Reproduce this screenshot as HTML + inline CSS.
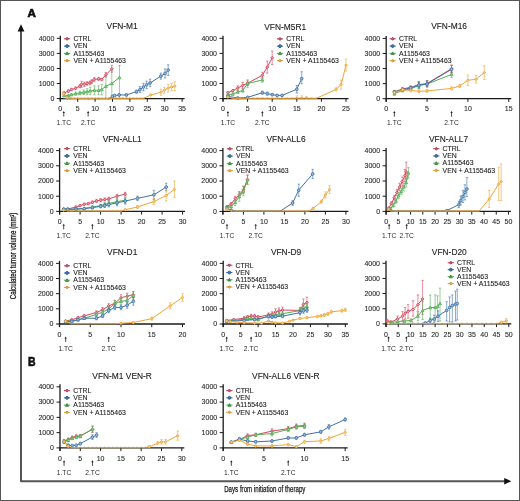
<!DOCTYPE html>
<html><head><meta charset="utf-8"><style>
html,body{margin:0;padding:0;background:#fff;}
svg{display:block;will-change:transform;}
text{font-family:"Liberation Sans", sans-serif;}
</style></head><body>
<svg width="520" height="501" viewBox="0 0 520 501">
<rect width="520" height="501" fill="#fff"/>
<rect x="0.5" y="0.5" width="519" height="500" fill="none" stroke="#555" stroke-width="1"/>
<text x="27.6" y="16.9" font-size="11.6" font-weight="bold" fill="#111" stroke="#111" stroke-width="0.7">A</text>
<text x="28.1" y="365.6" font-size="12.1" font-weight="bold" textLength="7.6" lengthAdjust="spacingAndGlyphs" fill="#111" stroke="#111" stroke-width="0.6">B</text>
<path d="M21,30 V481.2 H505" fill="none" stroke="#555" stroke-width="2" stroke-linejoin="round"/>
<path d="M17.6,31.4 L21,24.2 L24.4,31.4 Z" fill="#111"/>
<path d="M504.2,478 L511.4,481.2 L504.2,484.4 Z" fill="#111"/>
<text transform="translate(16.0,299.2) rotate(-90)" font-size="9.0" textLength="86.6" lengthAdjust="spacingAndGlyphs" fill="#1a1a1a" stroke="#1a1a1a" stroke-width="0.3">Calculated tumor volume (mm<tspan dy="-2" font-size="4.5">3</tspan><tspan dy="2">)</tspan></text>
<text x="224.2" y="491.6" font-size="8.9" textLength="81.2" lengthAdjust="spacingAndGlyphs" fill="#1a1a1a" stroke="#1a1a1a" stroke-width="0.25">Days from initiation of therapy</text>
<text x="122.15" y="29.40" font-size="8.4" text-anchor="middle" fill="#1a1a1a" stroke="#1a1a1a" stroke-width="0.1">VFN-M1</text>
<line x1="60.30" y1="35.82" x2="60.30" y2="101.60" stroke="#1a1a1a" stroke-width="1.3"/>
<line x1="56.80" y1="98.60" x2="60.30" y2="98.60" stroke="#1a1a1a" stroke-width="1"/>
<text x="54.30" y="101.00" font-size="7.0" text-anchor="end" fill="#2a2a2a" stroke="#2a2a2a" stroke-width="0.1">0</text>
<line x1="56.80" y1="83.53" x2="60.30" y2="83.53" stroke="#1a1a1a" stroke-width="1"/>
<text x="54.30" y="85.93" font-size="7.0" text-anchor="end" fill="#2a2a2a" stroke="#2a2a2a" stroke-width="0.1">1000</text>
<line x1="56.80" y1="68.46" x2="60.30" y2="68.46" stroke="#1a1a1a" stroke-width="1"/>
<text x="54.30" y="70.86" font-size="7.0" text-anchor="end" fill="#2a2a2a" stroke="#2a2a2a" stroke-width="0.1">2000</text>
<line x1="56.80" y1="53.39" x2="60.30" y2="53.39" stroke="#1a1a1a" stroke-width="1"/>
<text x="54.30" y="55.79" font-size="7.0" text-anchor="end" fill="#2a2a2a" stroke="#2a2a2a" stroke-width="0.1">3000</text>
<line x1="56.80" y1="38.32" x2="60.30" y2="38.32" stroke="#1a1a1a" stroke-width="1"/>
<text x="54.30" y="40.72" font-size="7.0" text-anchor="end" fill="#2a2a2a" stroke="#2a2a2a" stroke-width="0.1">4000</text>
<line x1="59.70" y1="98.60" x2="184.60" y2="98.60" stroke="#1a1a1a" stroke-width="1.3"/>
<line x1="60.30" y1="98.60" x2="60.30" y2="101.80" stroke="#1a1a1a" stroke-width="1"/>
<text x="60.30" y="111.20" font-size="7.0" text-anchor="middle" fill="#2a2a2a" stroke="#2a2a2a" stroke-width="0.1">0</text>
<line x1="77.70" y1="98.60" x2="77.70" y2="101.80" stroke="#1a1a1a" stroke-width="1"/>
<text x="77.70" y="111.20" font-size="7.0" text-anchor="middle" fill="#2a2a2a" stroke="#2a2a2a" stroke-width="0.1">5</text>
<line x1="95.10" y1="98.60" x2="95.10" y2="101.80" stroke="#1a1a1a" stroke-width="1"/>
<text x="95.10" y="111.20" font-size="7.0" text-anchor="middle" fill="#2a2a2a" stroke="#2a2a2a" stroke-width="0.1">10</text>
<line x1="112.50" y1="98.60" x2="112.50" y2="101.80" stroke="#1a1a1a" stroke-width="1"/>
<text x="112.50" y="111.20" font-size="7.0" text-anchor="middle" fill="#2a2a2a" stroke="#2a2a2a" stroke-width="0.1">15</text>
<line x1="129.90" y1="98.60" x2="129.90" y2="101.80" stroke="#1a1a1a" stroke-width="1"/>
<text x="129.90" y="111.20" font-size="7.0" text-anchor="middle" fill="#2a2a2a" stroke="#2a2a2a" stroke-width="0.1">20</text>
<line x1="147.30" y1="98.60" x2="147.30" y2="101.80" stroke="#1a1a1a" stroke-width="1"/>
<text x="147.30" y="111.20" font-size="7.0" text-anchor="middle" fill="#2a2a2a" stroke="#2a2a2a" stroke-width="0.1">25</text>
<line x1="164.70" y1="98.60" x2="164.70" y2="101.80" stroke="#1a1a1a" stroke-width="1"/>
<text x="164.70" y="111.20" font-size="7.0" text-anchor="middle" fill="#2a2a2a" stroke="#2a2a2a" stroke-width="0.1">30</text>
<line x1="182.10" y1="98.60" x2="182.10" y2="101.80" stroke="#1a1a1a" stroke-width="1"/>
<text x="182.10" y="111.20" font-size="7.0" text-anchor="middle" fill="#2a2a2a" stroke="#2a2a2a" stroke-width="0.1">35</text>
<line x1="63.78" y1="112.60" x2="63.78" y2="116.60" stroke="#222" stroke-width="0.8"/>
<path d="M62.58,113.00L63.78,111.00L64.98,113.00Z" fill="#222"/>
<text x="63.78" y="125.20" font-size="6.7" text-anchor="middle" fill="#2a2a2a">1.TC</text>
<line x1="88.14" y1="112.60" x2="88.14" y2="116.60" stroke="#222" stroke-width="0.8"/>
<path d="M86.94,113.00L88.14,111.00L89.34,113.00Z" fill="#222"/>
<text x="88.14" y="125.20" font-size="6.7" text-anchor="middle" fill="#2a2a2a">2.TC</text>
<polyline points="64.13,93.02 68.30,91.06 71.44,89.56 75.61,88.20 79.79,86.24 81.53,84.28 84.31,84.28 87.10,83.53 89.88,82.93 91.62,81.57 94.40,79.46 98.58,78.86 101.71,79.46 105.89,74.79 111.80,68.76" fill="none" stroke="#d2475e" stroke-width="1.0"/>
<path d="M64.13,91.82V94.23M62.93,91.82H65.33M62.93,94.23H65.33" stroke="#d2475e" stroke-width="0.6" fill="none"/>
<path d="M68.30,89.86V92.27M67.10,89.86H69.50M67.10,92.27H69.50" stroke="#d2475e" stroke-width="0.6" fill="none"/>
<path d="M71.44,88.35V90.76M70.24,88.35H72.64M70.24,90.76H72.64" stroke="#d2475e" stroke-width="0.6" fill="none"/>
<path d="M75.61,87.00V89.41M74.41,87.00H76.81M74.41,89.41H76.81" stroke="#d2475e" stroke-width="0.6" fill="none"/>
<path d="M79.79,84.74V87.75M78.59,84.74H80.99M78.59,87.75H80.99" stroke="#d2475e" stroke-width="0.6" fill="none"/>
<path d="M81.53,81.27V87.30M80.33,81.27H82.73M80.33,87.30H82.73" stroke="#d2475e" stroke-width="0.6" fill="none"/>
<path d="M84.31,82.02V86.54M83.11,82.02H85.51M83.11,86.54H85.51" stroke="#d2475e" stroke-width="0.6" fill="none"/>
<path d="M87.10,81.72V85.34M85.90,81.72H88.30M85.90,85.34H88.30" stroke="#d2475e" stroke-width="0.6" fill="none"/>
<path d="M89.88,81.12V84.74M88.68,81.12H91.08M88.68,84.74H91.08" stroke="#d2475e" stroke-width="0.6" fill="none"/>
<path d="M91.62,79.76V83.38M90.42,79.76H92.82M90.42,83.38H92.82" stroke="#d2475e" stroke-width="0.6" fill="none"/>
<path d="M94.40,77.65V81.27M93.20,77.65H95.60M93.20,81.27H95.60" stroke="#d2475e" stroke-width="0.6" fill="none"/>
<path d="M98.58,77.35V80.37M97.38,77.35H99.78M97.38,80.37H99.78" stroke="#d2475e" stroke-width="0.6" fill="none"/>
<path d="M101.71,78.26V80.67M100.51,78.26H102.91M100.51,80.67H102.91" stroke="#d2475e" stroke-width="0.6" fill="none"/>
<path d="M105.89,72.53V77.05M104.69,72.53H107.09M104.69,77.05H107.09" stroke="#d2475e" stroke-width="0.6" fill="none"/>
<path d="M111.80,65.30V72.23M110.60,65.30H113.00M110.60,72.23H113.00" stroke="#d2475e" stroke-width="0.6" fill="none"/>
<path d="M62.68,93.02L64.13,91.57L65.58,93.02L64.13,94.47Z" fill="#e89aa6" stroke="#d2475e" stroke-width="0.85"/>
<path d="M66.85,91.06L68.30,89.61L69.75,91.06L68.30,92.52Z" fill="#e89aa6" stroke="#d2475e" stroke-width="0.85"/>
<path d="M69.99,89.56L71.44,88.11L72.89,89.56L71.44,91.01Z" fill="#e89aa6" stroke="#d2475e" stroke-width="0.85"/>
<path d="M74.16,88.20L75.61,86.75L77.06,88.20L75.61,89.65Z" fill="#e89aa6" stroke="#d2475e" stroke-width="0.85"/>
<path d="M78.34,86.24L79.79,84.79L81.24,86.24L79.79,87.69Z" fill="#e89aa6" stroke="#d2475e" stroke-width="0.85"/>
<path d="M80.08,84.28L81.53,82.83L82.98,84.28L81.53,85.73Z" fill="#e89aa6" stroke="#d2475e" stroke-width="0.85"/>
<path d="M82.86,84.28L84.31,82.83L85.76,84.28L84.31,85.73Z" fill="#e89aa6" stroke="#d2475e" stroke-width="0.85"/>
<path d="M85.65,83.53L87.10,82.08L88.55,83.53L87.10,84.98Z" fill="#e89aa6" stroke="#d2475e" stroke-width="0.85"/>
<path d="M88.43,82.93L89.88,81.48L91.33,82.93L89.88,84.38Z" fill="#e89aa6" stroke="#d2475e" stroke-width="0.85"/>
<path d="M90.17,81.57L91.62,80.12L93.07,81.57L91.62,83.02Z" fill="#e89aa6" stroke="#d2475e" stroke-width="0.85"/>
<path d="M92.95,79.46L94.40,78.01L95.85,79.46L94.40,80.91Z" fill="#e89aa6" stroke="#d2475e" stroke-width="0.85"/>
<path d="M97.13,78.86L98.58,77.41L100.03,78.86L98.58,80.31Z" fill="#e89aa6" stroke="#d2475e" stroke-width="0.85"/>
<path d="M100.26,79.46L101.71,78.01L103.16,79.46L101.71,80.91Z" fill="#e89aa6" stroke="#d2475e" stroke-width="0.85"/>
<path d="M104.44,74.79L105.89,73.34L107.34,74.79L105.89,76.24Z" fill="#e89aa6" stroke="#d2475e" stroke-width="0.85"/>
<path d="M110.35,68.76L111.80,67.31L113.25,68.76L111.80,70.21Z" fill="#e89aa6" stroke="#d2475e" stroke-width="0.85"/>
<polyline points="64.13,95.59 68.30,95.59 71.44,94.68 75.61,93.63 79.79,93.02 83.62,92.27 87.10,91.67 90.23,90.91 94.40,90.31 98.58,90.31 101.71,89.56 105.89,86.24 111.80,83.53 119.46,77.50" fill="none" stroke="#55ad55" stroke-width="1.0"/>
<path d="M64.13,94.83V96.34M62.93,94.83H65.33M62.93,96.34H65.33" stroke="#55ad55" stroke-width="0.6" fill="none"/>
<path d="M68.30,94.83V96.34M67.10,94.83H69.50M67.10,96.34H69.50" stroke="#55ad55" stroke-width="0.6" fill="none"/>
<path d="M71.44,93.78V95.59M70.24,93.78H72.64M70.24,95.59H72.64" stroke="#55ad55" stroke-width="0.6" fill="none"/>
<path d="M75.61,92.12V95.13M74.41,92.12H76.81M74.41,95.13H76.81" stroke="#55ad55" stroke-width="0.6" fill="none"/>
<path d="M79.79,91.22V94.83M78.59,91.22H80.99M78.59,94.83H80.99" stroke="#55ad55" stroke-width="0.6" fill="none"/>
<path d="M83.62,90.01V94.53M82.42,90.01H84.82M82.42,94.53H84.82" stroke="#55ad55" stroke-width="0.6" fill="none"/>
<path d="M87.10,88.65V94.68M85.90,88.65H88.30M85.90,94.68H88.30" stroke="#55ad55" stroke-width="0.6" fill="none"/>
<path d="M90.23,87.15V94.68M89.03,87.15H91.43M89.03,94.68H91.43" stroke="#55ad55" stroke-width="0.6" fill="none"/>
<path d="M94.40,85.79V94.83M93.20,85.79H95.60M93.20,94.83H95.60" stroke="#55ad55" stroke-width="0.6" fill="none"/>
<path d="M98.58,85.79V94.83M97.38,85.79H99.78M97.38,94.83H99.78" stroke="#55ad55" stroke-width="0.6" fill="none"/>
<path d="M101.71,84.28V94.83M100.51,84.28H102.91M100.51,94.83H102.91" stroke="#55ad55" stroke-width="0.6" fill="none"/>
<path d="M105.89,75.69V98.60M104.69,75.69H107.09M104.69,98.60H107.09" stroke="#55ad55" stroke-width="0.6" fill="none"/>
<path d="M111.80,69.97V98.60M110.60,69.97H113.00M110.60,98.60H113.00" stroke="#55ad55" stroke-width="0.6" fill="none"/>
<path d="M119.46,65.45V98.60M118.26,65.45H120.66M118.26,98.60H120.66" stroke="#55ad55" stroke-width="0.6" fill="none"/>
<path d="M62.68,96.75L64.13,94.14L65.58,96.75Z" fill="#a8d8a8" stroke="#55ad55" stroke-width="0.85"/>
<path d="M66.85,96.75L68.30,94.14L69.75,96.75Z" fill="#a8d8a8" stroke="#55ad55" stroke-width="0.85"/>
<path d="M69.99,95.84L71.44,93.23L72.89,95.84Z" fill="#a8d8a8" stroke="#55ad55" stroke-width="0.85"/>
<path d="M74.16,94.79L75.61,92.18L77.06,94.79Z" fill="#a8d8a8" stroke="#55ad55" stroke-width="0.85"/>
<path d="M78.34,94.18L79.79,91.57L81.24,94.18Z" fill="#a8d8a8" stroke="#55ad55" stroke-width="0.85"/>
<path d="M82.17,93.43L83.62,90.82L85.07,93.43Z" fill="#a8d8a8" stroke="#55ad55" stroke-width="0.85"/>
<path d="M85.65,92.83L87.10,90.22L88.55,92.83Z" fill="#a8d8a8" stroke="#55ad55" stroke-width="0.85"/>
<path d="M88.78,92.07L90.23,89.46L91.68,92.07Z" fill="#a8d8a8" stroke="#55ad55" stroke-width="0.85"/>
<path d="M92.95,91.47L94.40,88.86L95.85,91.47Z" fill="#a8d8a8" stroke="#55ad55" stroke-width="0.85"/>
<path d="M97.13,91.47L98.58,88.86L100.03,91.47Z" fill="#a8d8a8" stroke="#55ad55" stroke-width="0.85"/>
<path d="M100.26,90.72L101.71,88.11L103.16,90.72Z" fill="#a8d8a8" stroke="#55ad55" stroke-width="0.85"/>
<path d="M104.44,87.40L105.89,84.79L107.34,87.40Z" fill="#a8d8a8" stroke="#55ad55" stroke-width="0.85"/>
<path d="M110.35,84.69L111.80,82.08L113.25,84.69Z" fill="#a8d8a8" stroke="#55ad55" stroke-width="0.85"/>
<path d="M118.01,78.66L119.46,76.05L120.91,78.66Z" fill="#a8d8a8" stroke="#55ad55" stroke-width="0.85"/>
<polyline points="63.78,98.60 67.26,98.60 70.74,98.60 77.70,98.60 88.14,98.60 98.58,98.60 109.02,98.60 112.50,96.34 114.59,95.59 119.11,94.98 126.42,94.98 136.51,91.67 139.99,89.56 143.47,87.00 146.60,84.89 150.08,82.93 160.87,76.15 165.05,73.43 168.18,70.12" fill="none" stroke="#3f72a8" stroke-width="1.0"/>
<path d="M112.50,95.59V97.09M111.30,95.59H113.70M111.30,97.09H113.70" stroke="#3f72a8" stroke-width="0.6" fill="none"/>
<path d="M114.59,94.83V96.34M113.39,94.83H115.79M113.39,96.34H115.79" stroke="#3f72a8" stroke-width="0.6" fill="none"/>
<path d="M119.11,94.08V95.89M117.91,94.08H120.31M117.91,95.89H120.31" stroke="#3f72a8" stroke-width="0.6" fill="none"/>
<path d="M126.42,94.08V95.89M125.22,94.08H127.62M125.22,95.89H127.62" stroke="#3f72a8" stroke-width="0.6" fill="none"/>
<path d="M136.51,90.16V93.17M135.31,90.16H137.71M135.31,93.17H137.71" stroke="#3f72a8" stroke-width="0.6" fill="none"/>
<path d="M139.99,86.54V92.57M138.79,86.54H141.19M138.79,92.57H141.19" stroke="#3f72a8" stroke-width="0.6" fill="none"/>
<path d="M143.47,83.23V90.76M142.27,83.23H144.67M142.27,90.76H144.67" stroke="#3f72a8" stroke-width="0.6" fill="none"/>
<path d="M146.60,81.12V88.65M145.40,81.12H147.80M145.40,88.65H147.80" stroke="#3f72a8" stroke-width="0.6" fill="none"/>
<path d="M150.08,79.16V86.69M148.88,79.16H151.28M148.88,86.69H151.28" stroke="#3f72a8" stroke-width="0.6" fill="none"/>
<path d="M160.87,73.13V79.16M159.67,73.13H162.07M159.67,79.16H162.07" stroke="#3f72a8" stroke-width="0.6" fill="none"/>
<path d="M165.05,68.91V77.95M163.85,68.91H166.25M163.85,77.95H166.25" stroke="#3f72a8" stroke-width="0.6" fill="none"/>
<path d="M168.18,64.84V75.39M166.98,64.84H169.38M166.98,75.39H169.38" stroke="#3f72a8" stroke-width="0.6" fill="none"/>
<rect x="62.88" y="97.70" width="1.8" height="1.6" fill="#2f5f92" opacity="0.55"/>
<rect x="66.36" y="97.70" width="1.8" height="1.6" fill="#2f5f92" opacity="0.55"/>
<rect x="69.84" y="97.70" width="1.8" height="1.6" fill="#2f5f92" opacity="0.55"/>
<rect x="76.80" y="97.70" width="1.8" height="1.6" fill="#2f5f92" opacity="0.55"/>
<rect x="87.24" y="97.70" width="1.8" height="1.6" fill="#2f5f92" opacity="0.55"/>
<rect x="97.68" y="97.70" width="1.8" height="1.6" fill="#2f5f92" opacity="0.55"/>
<rect x="108.12" y="97.70" width="1.8" height="1.6" fill="#2f5f92" opacity="0.55"/>
<circle cx="112.50" cy="96.34" r="1.38" fill="#9dbbd9" stroke="#3f72a8" stroke-width="0.85"/>
<circle cx="114.59" cy="95.59" r="1.38" fill="#9dbbd9" stroke="#3f72a8" stroke-width="0.85"/>
<circle cx="119.11" cy="94.98" r="1.38" fill="#9dbbd9" stroke="#3f72a8" stroke-width="0.85"/>
<circle cx="126.42" cy="94.98" r="1.38" fill="#9dbbd9" stroke="#3f72a8" stroke-width="0.85"/>
<circle cx="136.51" cy="91.67" r="1.38" fill="#9dbbd9" stroke="#3f72a8" stroke-width="0.85"/>
<circle cx="139.99" cy="89.56" r="1.38" fill="#9dbbd9" stroke="#3f72a8" stroke-width="0.85"/>
<circle cx="143.47" cy="87.00" r="1.38" fill="#9dbbd9" stroke="#3f72a8" stroke-width="0.85"/>
<circle cx="146.60" cy="84.89" r="1.38" fill="#9dbbd9" stroke="#3f72a8" stroke-width="0.85"/>
<circle cx="150.08" cy="82.93" r="1.38" fill="#9dbbd9" stroke="#3f72a8" stroke-width="0.85"/>
<circle cx="160.87" cy="76.15" r="1.38" fill="#9dbbd9" stroke="#3f72a8" stroke-width="0.85"/>
<circle cx="165.05" cy="73.43" r="1.38" fill="#9dbbd9" stroke="#3f72a8" stroke-width="0.85"/>
<circle cx="168.18" cy="70.12" r="1.38" fill="#9dbbd9" stroke="#3f72a8" stroke-width="0.85"/>
<polyline points="63.43,93.63 67.26,97.70 70.74,98.30 74.22,98.30 77.70,98.30 81.18,98.30 84.66,98.30 88.14,98.30 91.62,98.30 95.10,98.30 98.58,98.30 102.06,98.30 105.54,98.30 109.02,98.30 112.50,98.30 115.98,98.30 119.46,98.30 122.94,98.30 126.42,98.30 129.90,98.30 133.38,98.30 136.86,98.30 140.34,98.30 143.82,98.30 150.78,94.98 160.87,92.27 164.35,90.31 168.18,88.20 171.66,87.00 174.79,86.24" fill="none" stroke="#f0a535" stroke-width="1.0"/>
<path d="M63.43,92.12V95.13M62.23,92.12H64.63M62.23,95.13H64.63" stroke="#f0a535" stroke-width="0.6" fill="none"/>
<path d="M67.26,97.24V98.15M66.06,97.24H68.46M66.06,98.15H68.46" stroke="#f0a535" stroke-width="0.6" fill="none"/>
<path d="M150.78,94.23V95.74M149.58,94.23H151.98M149.58,95.74H151.98" stroke="#f0a535" stroke-width="0.6" fill="none"/>
<path d="M160.87,89.26V95.28M159.67,89.26H162.07M159.67,95.28H162.07" stroke="#f0a535" stroke-width="0.6" fill="none"/>
<path d="M164.35,87.30V93.33M163.15,87.30H165.55M163.15,93.33H165.55" stroke="#f0a535" stroke-width="0.6" fill="none"/>
<path d="M168.18,84.43V91.97M166.98,84.43H169.38M166.98,91.97H169.38" stroke="#f0a535" stroke-width="0.6" fill="none"/>
<path d="M171.66,83.23V90.76M170.46,83.23H172.86M170.46,90.76H172.86" stroke="#f0a535" stroke-width="0.6" fill="none"/>
<path d="M174.79,81.72V90.76M173.59,81.72H175.99M173.59,90.76H175.99" stroke="#f0a535" stroke-width="0.6" fill="none"/>
<path d="M61.98,93.63L63.43,92.47L64.88,93.63L63.43,94.79Z" fill="#f7d49a" stroke="#f0a535" stroke-width="0.85"/>
<path d="M65.81,97.70L67.26,96.54L68.71,97.70L67.26,98.86Z" fill="#f7d49a" stroke="#f0a535" stroke-width="0.85"/>
<rect x="69.84" y="97.40" width="1.8" height="1.6" fill="#d09030" opacity="0.55"/>
<rect x="73.32" y="97.40" width="1.8" height="1.6" fill="#d09030" opacity="0.55"/>
<rect x="76.80" y="97.40" width="1.8" height="1.6" fill="#d09030" opacity="0.55"/>
<rect x="80.28" y="97.40" width="1.8" height="1.6" fill="#d09030" opacity="0.55"/>
<rect x="83.76" y="97.40" width="1.8" height="1.6" fill="#d09030" opacity="0.55"/>
<rect x="87.24" y="97.40" width="1.8" height="1.6" fill="#d09030" opacity="0.55"/>
<rect x="90.72" y="97.40" width="1.8" height="1.6" fill="#d09030" opacity="0.55"/>
<rect x="94.20" y="97.40" width="1.8" height="1.6" fill="#d09030" opacity="0.55"/>
<rect x="97.68" y="97.40" width="1.8" height="1.6" fill="#d09030" opacity="0.55"/>
<rect x="101.16" y="97.40" width="1.8" height="1.6" fill="#d09030" opacity="0.55"/>
<rect x="104.64" y="97.40" width="1.8" height="1.6" fill="#d09030" opacity="0.55"/>
<rect x="108.12" y="97.40" width="1.8" height="1.6" fill="#d09030" opacity="0.55"/>
<rect x="111.60" y="97.40" width="1.8" height="1.6" fill="#d09030" opacity="0.55"/>
<rect x="115.08" y="97.40" width="1.8" height="1.6" fill="#d09030" opacity="0.55"/>
<rect x="118.56" y="97.40" width="1.8" height="1.6" fill="#d09030" opacity="0.55"/>
<rect x="122.04" y="97.40" width="1.8" height="1.6" fill="#d09030" opacity="0.55"/>
<rect x="125.52" y="97.40" width="1.8" height="1.6" fill="#d09030" opacity="0.55"/>
<rect x="129.00" y="97.40" width="1.8" height="1.6" fill="#d09030" opacity="0.55"/>
<rect x="132.48" y="97.40" width="1.8" height="1.6" fill="#d09030" opacity="0.55"/>
<rect x="135.96" y="97.40" width="1.8" height="1.6" fill="#d09030" opacity="0.55"/>
<rect x="139.44" y="97.40" width="1.8" height="1.6" fill="#d09030" opacity="0.55"/>
<rect x="142.92" y="97.40" width="1.8" height="1.6" fill="#d09030" opacity="0.55"/>
<path d="M149.33,94.98L150.78,93.82L152.23,94.98L150.78,96.14Z" fill="#f7d49a" stroke="#f0a535" stroke-width="0.85"/>
<path d="M159.42,92.27L160.87,91.11L162.32,92.27L160.87,93.43Z" fill="#f7d49a" stroke="#f0a535" stroke-width="0.85"/>
<path d="M162.90,90.31L164.35,89.15L165.80,90.31L164.35,91.47Z" fill="#f7d49a" stroke="#f0a535" stroke-width="0.85"/>
<path d="M166.73,88.20L168.18,87.04L169.63,88.20L168.18,89.36Z" fill="#f7d49a" stroke="#f0a535" stroke-width="0.85"/>
<path d="M170.21,87.00L171.66,85.84L173.11,87.00L171.66,88.16Z" fill="#f7d49a" stroke="#f0a535" stroke-width="0.85"/>
<path d="M173.34,86.24L174.79,85.08L176.24,86.24L174.79,87.40Z" fill="#f7d49a" stroke="#f0a535" stroke-width="0.85"/>
<line x1="64.00" y1="38.80" x2="70.20" y2="38.80" stroke="#d2475e" stroke-width="1.1"/>
<path d="M65.60,38.80L67.10,37.30L68.60,38.80L67.10,40.30Z" fill="#b85a72" stroke="#a8405a" stroke-width="1.0"/>
<text x="73.40" y="41.00" font-size="6.9" fill="#1e1e1e" stroke="#1e1e1e" stroke-width="0.1">CTRL</text>
<line x1="64.00" y1="46.10" x2="70.20" y2="46.10" stroke="#3f72a8" stroke-width="1.1"/>
<circle cx="67.10" cy="46.10" r="1.42" fill="#4a78a8" stroke="#2f5f92" stroke-width="1.0"/>
<text x="73.40" y="48.30" font-size="6.9" fill="#1e1e1e" stroke="#1e1e1e" stroke-width="0.1">VEN</text>
<line x1="64.00" y1="53.40" x2="70.20" y2="53.40" stroke="#55ad55" stroke-width="1.1"/>
<path d="M65.60,54.60L67.10,51.90L68.60,54.60Z" fill="#5a9e5a" stroke="#3f8f3f" stroke-width="1.0"/>
<text x="73.40" y="55.60" font-size="6.9" fill="#1e1e1e" stroke="#1e1e1e" stroke-width="0.1">A1155463</text>
<line x1="64.00" y1="60.70" x2="70.20" y2="60.70" stroke="#f0a535" stroke-width="1.1"/>
<path d="M65.60,60.70L67.10,59.50L68.60,60.70L67.10,61.90Z" fill="#dcb060" stroke="#d09030" stroke-width="1.0"/>
<text x="73.40" y="62.90" font-size="6.9" fill="#1e1e1e" stroke="#1e1e1e" stroke-width="0.1">VEN + A1155463</text>
<text x="285.20" y="29.50" font-size="8.4" text-anchor="middle" fill="#1a1a1a" stroke="#1a1a1a" stroke-width="0.1">VFN-M5R1</text>
<line x1="223.00" y1="35.82" x2="223.00" y2="101.60" stroke="#1a1a1a" stroke-width="1.3"/>
<line x1="219.50" y1="98.60" x2="223.00" y2="98.60" stroke="#1a1a1a" stroke-width="1"/>
<text x="217.00" y="101.00" font-size="7.0" text-anchor="end" fill="#2a2a2a" stroke="#2a2a2a" stroke-width="0.1">0</text>
<line x1="219.50" y1="83.53" x2="223.00" y2="83.53" stroke="#1a1a1a" stroke-width="1"/>
<text x="217.00" y="85.93" font-size="7.0" text-anchor="end" fill="#2a2a2a" stroke="#2a2a2a" stroke-width="0.1">1000</text>
<line x1="219.50" y1="68.46" x2="223.00" y2="68.46" stroke="#1a1a1a" stroke-width="1"/>
<text x="217.00" y="70.86" font-size="7.0" text-anchor="end" fill="#2a2a2a" stroke="#2a2a2a" stroke-width="0.1">2000</text>
<line x1="219.50" y1="53.39" x2="223.00" y2="53.39" stroke="#1a1a1a" stroke-width="1"/>
<text x="217.00" y="55.79" font-size="7.0" text-anchor="end" fill="#2a2a2a" stroke="#2a2a2a" stroke-width="0.1">3000</text>
<line x1="219.50" y1="38.32" x2="223.00" y2="38.32" stroke="#1a1a1a" stroke-width="1"/>
<text x="217.00" y="40.72" font-size="7.0" text-anchor="end" fill="#2a2a2a" stroke="#2a2a2a" stroke-width="0.1">4000</text>
<line x1="222.40" y1="98.60" x2="348.50" y2="98.60" stroke="#1a1a1a" stroke-width="1.3"/>
<line x1="223.00" y1="98.60" x2="223.00" y2="101.80" stroke="#1a1a1a" stroke-width="1"/>
<text x="223.00" y="111.20" font-size="7.0" text-anchor="middle" fill="#2a2a2a" stroke="#2a2a2a" stroke-width="0.1">0</text>
<line x1="247.60" y1="98.60" x2="247.60" y2="101.80" stroke="#1a1a1a" stroke-width="1"/>
<text x="247.60" y="111.20" font-size="7.0" text-anchor="middle" fill="#2a2a2a" stroke="#2a2a2a" stroke-width="0.1">5</text>
<line x1="272.20" y1="98.60" x2="272.20" y2="101.80" stroke="#1a1a1a" stroke-width="1"/>
<text x="272.20" y="111.20" font-size="7.0" text-anchor="middle" fill="#2a2a2a" stroke="#2a2a2a" stroke-width="0.1">10</text>
<line x1="296.80" y1="98.60" x2="296.80" y2="101.80" stroke="#1a1a1a" stroke-width="1"/>
<text x="296.80" y="111.20" font-size="7.0" text-anchor="middle" fill="#2a2a2a" stroke="#2a2a2a" stroke-width="0.1">15</text>
<line x1="321.40" y1="98.60" x2="321.40" y2="101.80" stroke="#1a1a1a" stroke-width="1"/>
<text x="321.40" y="111.20" font-size="7.0" text-anchor="middle" fill="#2a2a2a" stroke="#2a2a2a" stroke-width="0.1">20</text>
<line x1="346.00" y1="98.60" x2="346.00" y2="101.80" stroke="#1a1a1a" stroke-width="1"/>
<text x="346.00" y="111.20" font-size="7.0" text-anchor="middle" fill="#2a2a2a" stroke="#2a2a2a" stroke-width="0.1">25</text>
<line x1="227.92" y1="112.60" x2="227.92" y2="116.60" stroke="#222" stroke-width="0.8"/>
<path d="M226.72,113.00L227.92,111.00L229.12,113.00Z" fill="#222"/>
<text x="227.92" y="125.20" font-size="6.7" text-anchor="middle" fill="#2a2a2a">1.TC</text>
<line x1="262.36" y1="112.60" x2="262.36" y2="116.60" stroke="#222" stroke-width="0.8"/>
<path d="M261.16,113.00L262.36,111.00L263.56,113.00Z" fill="#222"/>
<text x="262.36" y="125.20" font-size="6.7" text-anchor="middle" fill="#2a2a2a">2.TC</text>
<polyline points="227.92,92.72 232.84,90.61 237.76,88.05 242.68,85.34 247.60,83.23 262.36,75.24 267.28,67.10 272.20,57.76" fill="none" stroke="#d2475e" stroke-width="1.0"/>
<path d="M227.92,91.52V93.93M226.72,91.52H229.12M226.72,93.93H229.12" stroke="#d2475e" stroke-width="0.6" fill="none"/>
<path d="M232.84,89.41V91.82M231.64,89.41H234.04M231.64,91.82H234.04" stroke="#d2475e" stroke-width="0.6" fill="none"/>
<path d="M237.76,85.79V90.31M236.56,85.79H238.96M236.56,90.31H238.96" stroke="#d2475e" stroke-width="0.6" fill="none"/>
<path d="M242.68,82.32V88.35M241.48,82.32H243.88M241.48,88.35H243.88" stroke="#d2475e" stroke-width="0.6" fill="none"/>
<path d="M247.60,80.97V85.49M246.40,80.97H248.80M246.40,85.49H248.80" stroke="#d2475e" stroke-width="0.6" fill="none"/>
<path d="M262.36,72.23V78.26M261.16,72.23H263.56M261.16,78.26H263.56" stroke="#d2475e" stroke-width="0.6" fill="none"/>
<path d="M267.28,61.08V73.13M266.08,61.08H268.48M266.08,73.13H268.48" stroke="#d2475e" stroke-width="0.6" fill="none"/>
<path d="M272.20,50.98V64.54M271.00,50.98H273.40M271.00,64.54H273.40" stroke="#d2475e" stroke-width="0.6" fill="none"/>
<path d="M226.47,92.72L227.92,91.27L229.37,92.72L227.92,94.17Z" fill="#e89aa6" stroke="#d2475e" stroke-width="0.85"/>
<path d="M231.39,90.61L232.84,89.16L234.29,90.61L232.84,92.06Z" fill="#e89aa6" stroke="#d2475e" stroke-width="0.85"/>
<path d="M236.31,88.05L237.76,86.60L239.21,88.05L237.76,89.50Z" fill="#e89aa6" stroke="#d2475e" stroke-width="0.85"/>
<path d="M241.23,85.34L242.68,83.89L244.13,85.34L242.68,86.79Z" fill="#e89aa6" stroke="#d2475e" stroke-width="0.85"/>
<path d="M246.15,83.23L247.60,81.78L249.05,83.23L247.60,84.68Z" fill="#e89aa6" stroke="#d2475e" stroke-width="0.85"/>
<path d="M260.91,75.24L262.36,73.79L263.81,75.24L262.36,76.69Z" fill="#e89aa6" stroke="#d2475e" stroke-width="0.85"/>
<path d="M265.83,67.10L267.28,65.65L268.73,67.10L267.28,68.55Z" fill="#e89aa6" stroke="#d2475e" stroke-width="0.85"/>
<path d="M270.75,57.76L272.20,56.31L273.65,57.76L272.20,59.21Z" fill="#e89aa6" stroke="#d2475e" stroke-width="0.85"/>
<polyline points="227.92,94.68 232.84,94.08 237.76,91.97 242.68,90.61 247.60,83.53 262.36,79.91" fill="none" stroke="#55ad55" stroke-width="1.0"/>
<path d="M227.92,93.93V95.44M226.72,93.93H229.12M226.72,95.44H229.12" stroke="#55ad55" stroke-width="0.6" fill="none"/>
<path d="M232.84,93.17V94.98M231.64,93.17H234.04M231.64,94.98H234.04" stroke="#55ad55" stroke-width="0.6" fill="none"/>
<path d="M237.76,90.76V93.17M236.56,90.76H238.96M236.56,93.17H238.96" stroke="#55ad55" stroke-width="0.6" fill="none"/>
<path d="M242.68,89.11V92.12M241.48,89.11H243.88M241.48,92.12H243.88" stroke="#55ad55" stroke-width="0.6" fill="none"/>
<path d="M247.60,79.76V87.30M246.40,79.76H248.80M246.40,87.30H248.80" stroke="#55ad55" stroke-width="0.6" fill="none"/>
<path d="M262.36,77.65V82.17M261.16,77.65H263.56M261.16,82.17H263.56" stroke="#55ad55" stroke-width="0.6" fill="none"/>
<path d="M226.47,95.84L227.92,93.23L229.37,95.84Z" fill="#a8d8a8" stroke="#55ad55" stroke-width="0.85"/>
<path d="M231.39,95.24L232.84,92.63L234.29,95.24Z" fill="#a8d8a8" stroke="#55ad55" stroke-width="0.85"/>
<path d="M236.31,93.13L237.76,90.52L239.21,93.13Z" fill="#a8d8a8" stroke="#55ad55" stroke-width="0.85"/>
<path d="M241.23,91.77L242.68,89.16L244.13,91.77Z" fill="#a8d8a8" stroke="#55ad55" stroke-width="0.85"/>
<path d="M246.15,84.69L247.60,82.08L249.05,84.69Z" fill="#a8d8a8" stroke="#55ad55" stroke-width="0.85"/>
<path d="M260.91,81.07L262.36,78.46L263.81,81.07Z" fill="#a8d8a8" stroke="#55ad55" stroke-width="0.85"/>
<polyline points="227.92,96.34 237.76,98.00 247.60,97.39 262.36,92.72 267.28,93.63 272.20,94.68 277.12,95.44 282.04,95.44 296.80,89.26 301.72,78.56" fill="none" stroke="#3f72a8" stroke-width="1.0"/>
<path d="M227.92,95.89V96.79M226.72,95.89H229.12M226.72,96.79H229.12" stroke="#3f72a8" stroke-width="0.6" fill="none"/>
<path d="M237.76,97.70V98.30M236.56,97.70H238.96M236.56,98.30H238.96" stroke="#3f72a8" stroke-width="0.6" fill="none"/>
<path d="M247.60,96.94V97.85M246.40,96.94H248.80M246.40,97.85H248.80" stroke="#3f72a8" stroke-width="0.6" fill="none"/>
<path d="M262.36,91.22V94.23M261.16,91.22H263.56M261.16,94.23H263.56" stroke="#3f72a8" stroke-width="0.6" fill="none"/>
<path d="M267.28,92.12V95.13M266.08,92.12H268.48M266.08,95.13H268.48" stroke="#3f72a8" stroke-width="0.6" fill="none"/>
<path d="M272.20,93.78V95.59M271.00,93.78H273.40M271.00,95.59H273.40" stroke="#3f72a8" stroke-width="0.6" fill="none"/>
<path d="M277.12,94.68V96.19M275.92,94.68H278.32M275.92,96.19H278.32" stroke="#3f72a8" stroke-width="0.6" fill="none"/>
<path d="M282.04,94.68V96.19M280.84,94.68H283.24M280.84,96.19H283.24" stroke="#3f72a8" stroke-width="0.6" fill="none"/>
<path d="M296.80,85.49V93.02M295.60,85.49H298.00M295.60,93.02H298.00" stroke="#3f72a8" stroke-width="0.6" fill="none"/>
<path d="M301.72,71.78V83.83M300.52,71.78H302.92M300.52,83.83H302.92" stroke="#3f72a8" stroke-width="0.6" fill="none"/>
<circle cx="227.92" cy="96.34" r="1.38" fill="#9dbbd9" stroke="#3f72a8" stroke-width="0.85"/>
<circle cx="237.76" cy="98.00" r="1.38" fill="#9dbbd9" stroke="#3f72a8" stroke-width="0.85"/>
<circle cx="247.60" cy="97.39" r="1.38" fill="#9dbbd9" stroke="#3f72a8" stroke-width="0.85"/>
<circle cx="262.36" cy="92.72" r="1.38" fill="#9dbbd9" stroke="#3f72a8" stroke-width="0.85"/>
<circle cx="267.28" cy="93.63" r="1.38" fill="#9dbbd9" stroke="#3f72a8" stroke-width="0.85"/>
<circle cx="272.20" cy="94.68" r="1.38" fill="#9dbbd9" stroke="#3f72a8" stroke-width="0.85"/>
<circle cx="277.12" cy="95.44" r="1.38" fill="#9dbbd9" stroke="#3f72a8" stroke-width="0.85"/>
<circle cx="282.04" cy="95.44" r="1.38" fill="#9dbbd9" stroke="#3f72a8" stroke-width="0.85"/>
<circle cx="296.80" cy="89.26" r="1.38" fill="#9dbbd9" stroke="#3f72a8" stroke-width="0.85"/>
<circle cx="301.72" cy="78.56" r="1.38" fill="#9dbbd9" stroke="#3f72a8" stroke-width="0.85"/>
<polyline points="227.92,97.09 232.84,98.30 237.76,98.30 242.68,98.30 247.60,98.30 252.52,98.30 257.44,98.30 262.36,98.30 267.28,98.30 272.20,98.30 277.12,98.30 282.04,98.30 286.96,98.30 291.88,98.30 296.80,98.15 301.72,98.15 306.64,98.15 311.56,98.30 316.48,98.30 336.16,89.33 341.08,84.58 346.00,65.14" fill="none" stroke="#f0a535" stroke-width="1.0"/>
<path d="M227.92,96.64V97.55M226.72,96.64H229.12M226.72,97.55H229.12" stroke="#f0a535" stroke-width="0.6" fill="none"/>
<path d="M296.80,95.89V98.15M295.60,95.89H298.00M295.60,98.15H298.00" stroke="#f0a535" stroke-width="0.6" fill="none"/>
<path d="M301.72,95.89V98.15M300.52,95.89H302.92M300.52,98.15H302.92" stroke="#f0a535" stroke-width="0.6" fill="none"/>
<path d="M306.64,96.34V98.15M305.44,96.34H307.84M305.44,98.15H307.84" stroke="#f0a535" stroke-width="0.6" fill="none"/>
<path d="M336.16,87.82V90.84M334.96,87.82H337.36M334.96,90.84H337.36" stroke="#f0a535" stroke-width="0.6" fill="none"/>
<path d="M341.08,80.06V89.11M339.88,80.06H342.28M339.88,89.11H342.28" stroke="#f0a535" stroke-width="0.6" fill="none"/>
<path d="M346.00,59.12V71.17M344.80,59.12H347.20M344.80,71.17H347.20" stroke="#f0a535" stroke-width="0.6" fill="none"/>
<path d="M226.47,97.09L227.92,95.93L229.37,97.09L227.92,98.25Z" fill="#f7d49a" stroke="#f0a535" stroke-width="0.85"/>
<rect x="231.94" y="97.40" width="1.8" height="1.6" fill="#d09030" opacity="0.55"/>
<rect x="236.86" y="97.40" width="1.8" height="1.6" fill="#d09030" opacity="0.55"/>
<rect x="241.78" y="97.40" width="1.8" height="1.6" fill="#d09030" opacity="0.55"/>
<rect x="246.70" y="97.40" width="1.8" height="1.6" fill="#d09030" opacity="0.55"/>
<rect x="251.62" y="97.40" width="1.8" height="1.6" fill="#d09030" opacity="0.55"/>
<rect x="256.54" y="97.40" width="1.8" height="1.6" fill="#d09030" opacity="0.55"/>
<rect x="261.46" y="97.40" width="1.8" height="1.6" fill="#d09030" opacity="0.55"/>
<rect x="266.38" y="97.40" width="1.8" height="1.6" fill="#d09030" opacity="0.55"/>
<rect x="271.30" y="97.40" width="1.8" height="1.6" fill="#d09030" opacity="0.55"/>
<rect x="276.22" y="97.40" width="1.8" height="1.6" fill="#d09030" opacity="0.55"/>
<rect x="281.14" y="97.40" width="1.8" height="1.6" fill="#d09030" opacity="0.55"/>
<rect x="286.06" y="97.40" width="1.8" height="1.6" fill="#d09030" opacity="0.55"/>
<rect x="290.98" y="97.40" width="1.8" height="1.6" fill="#d09030" opacity="0.55"/>
<rect x="295.90" y="97.25" width="1.8" height="1.6" fill="#d09030" opacity="0.55"/>
<rect x="300.82" y="97.25" width="1.8" height="1.6" fill="#d09030" opacity="0.55"/>
<rect x="305.74" y="97.25" width="1.8" height="1.6" fill="#d09030" opacity="0.55"/>
<rect x="310.66" y="97.40" width="1.8" height="1.6" fill="#d09030" opacity="0.55"/>
<rect x="315.58" y="97.40" width="1.8" height="1.6" fill="#d09030" opacity="0.55"/>
<path d="M334.71,89.33L336.16,88.17L337.61,89.33L336.16,90.49Z" fill="#f7d49a" stroke="#f0a535" stroke-width="0.85"/>
<path d="M339.63,84.58L341.08,83.42L342.53,84.58L341.08,85.74Z" fill="#f7d49a" stroke="#f0a535" stroke-width="0.85"/>
<path d="M344.55,65.14L346.00,63.98L347.45,65.14L346.00,66.30Z" fill="#f7d49a" stroke="#f0a535" stroke-width="0.85"/>
<line x1="276.90" y1="38.90" x2="283.10" y2="38.90" stroke="#d2475e" stroke-width="1.1"/>
<path d="M278.50,38.90L280.00,37.40L281.50,38.90L280.00,40.40Z" fill="#b85a72" stroke="#a8405a" stroke-width="1.0"/>
<text x="286.30" y="41.10" font-size="6.9" fill="#1e1e1e" stroke="#1e1e1e" stroke-width="0.1">CTRL</text>
<line x1="276.90" y1="46.15" x2="283.10" y2="46.15" stroke="#3f72a8" stroke-width="1.1"/>
<circle cx="280.00" cy="46.15" r="1.42" fill="#4a78a8" stroke="#2f5f92" stroke-width="1.0"/>
<text x="286.30" y="48.35" font-size="6.9" fill="#1e1e1e" stroke="#1e1e1e" stroke-width="0.1">VEN</text>
<line x1="276.90" y1="53.40" x2="283.10" y2="53.40" stroke="#55ad55" stroke-width="1.1"/>
<path d="M278.50,54.60L280.00,51.90L281.50,54.60Z" fill="#5a9e5a" stroke="#3f8f3f" stroke-width="1.0"/>
<text x="286.30" y="55.60" font-size="6.9" fill="#1e1e1e" stroke="#1e1e1e" stroke-width="0.1">A1155463</text>
<line x1="276.90" y1="60.65" x2="283.10" y2="60.65" stroke="#f0a535" stroke-width="1.1"/>
<path d="M278.50,60.65L280.00,59.45L281.50,60.65L280.00,61.85Z" fill="#dcb060" stroke="#d09030" stroke-width="1.0"/>
<text x="286.30" y="62.85" font-size="6.9" fill="#1e1e1e" stroke="#1e1e1e" stroke-width="0.1">VEN + A1155463</text>
<text x="449.10" y="29.30" font-size="8.4" text-anchor="middle" fill="#1a1a1a" stroke="#1a1a1a" stroke-width="0.1">VFN-M16</text>
<line x1="386.20" y1="35.92" x2="386.20" y2="101.70" stroke="#1a1a1a" stroke-width="1.3"/>
<line x1="382.70" y1="98.70" x2="386.20" y2="98.70" stroke="#1a1a1a" stroke-width="1"/>
<text x="380.20" y="101.10" font-size="7.0" text-anchor="end" fill="#2a2a2a" stroke="#2a2a2a" stroke-width="0.1">0</text>
<line x1="382.70" y1="83.63" x2="386.20" y2="83.63" stroke="#1a1a1a" stroke-width="1"/>
<text x="380.20" y="86.03" font-size="7.0" text-anchor="end" fill="#2a2a2a" stroke="#2a2a2a" stroke-width="0.1">1000</text>
<line x1="382.70" y1="68.56" x2="386.20" y2="68.56" stroke="#1a1a1a" stroke-width="1"/>
<text x="380.20" y="70.96" font-size="7.0" text-anchor="end" fill="#2a2a2a" stroke="#2a2a2a" stroke-width="0.1">2000</text>
<line x1="382.70" y1="53.49" x2="386.20" y2="53.49" stroke="#1a1a1a" stroke-width="1"/>
<text x="380.20" y="55.89" font-size="7.0" text-anchor="end" fill="#2a2a2a" stroke="#2a2a2a" stroke-width="0.1">3000</text>
<line x1="382.70" y1="38.42" x2="386.20" y2="38.42" stroke="#1a1a1a" stroke-width="1"/>
<text x="380.20" y="40.82" font-size="7.0" text-anchor="end" fill="#2a2a2a" stroke="#2a2a2a" stroke-width="0.1">4000</text>
<line x1="385.60" y1="98.70" x2="511.25" y2="98.70" stroke="#1a1a1a" stroke-width="1.3"/>
<line x1="386.20" y1="98.70" x2="386.20" y2="101.90" stroke="#1a1a1a" stroke-width="1"/>
<text x="386.20" y="111.30" font-size="7.0" text-anchor="middle" fill="#2a2a2a" stroke="#2a2a2a" stroke-width="0.1">0</text>
<line x1="427.05" y1="98.70" x2="427.05" y2="101.90" stroke="#1a1a1a" stroke-width="1"/>
<text x="427.05" y="111.30" font-size="7.0" text-anchor="middle" fill="#2a2a2a" stroke="#2a2a2a" stroke-width="0.1">5</text>
<line x1="467.90" y1="98.70" x2="467.90" y2="101.90" stroke="#1a1a1a" stroke-width="1"/>
<text x="467.90" y="111.30" font-size="7.0" text-anchor="middle" fill="#2a2a2a" stroke="#2a2a2a" stroke-width="0.1">10</text>
<line x1="508.75" y1="98.70" x2="508.75" y2="101.90" stroke="#1a1a1a" stroke-width="1"/>
<text x="508.75" y="111.30" font-size="7.0" text-anchor="middle" fill="#2a2a2a" stroke="#2a2a2a" stroke-width="0.1">15</text>
<line x1="394.37" y1="112.70" x2="394.37" y2="116.70" stroke="#222" stroke-width="0.8"/>
<path d="M393.17,113.10L394.37,111.10L395.57,113.10Z" fill="#222"/>
<text x="394.37" y="125.30" font-size="6.7" text-anchor="middle" fill="#2a2a2a">1.TC</text>
<line x1="451.56" y1="112.70" x2="451.56" y2="116.70" stroke="#222" stroke-width="0.8"/>
<path d="M450.36,113.10L451.56,111.10L452.76,113.10Z" fill="#222"/>
<text x="451.56" y="125.30" font-size="6.7" text-anchor="middle" fill="#2a2a2a">2.TC</text>
<polyline points="394.37,91.77 402.54,88.90 410.71,87.40 418.88,84.68 427.05,83.48 451.56,68.71" fill="none" stroke="#d2475e" stroke-width="1.0"/>
<path d="M394.37,90.26V93.27M393.17,90.26H395.57M393.17,93.27H395.57" stroke="#d2475e" stroke-width="0.6" fill="none"/>
<path d="M402.54,87.40V90.41M401.34,87.40H403.74M401.34,90.41H403.74" stroke="#d2475e" stroke-width="0.6" fill="none"/>
<path d="M410.71,85.89V88.90M409.51,85.89H411.91M409.51,88.90H411.91" stroke="#d2475e" stroke-width="0.6" fill="none"/>
<path d="M418.88,81.67V87.70M417.68,81.67H420.08M417.68,87.70H420.08" stroke="#d2475e" stroke-width="0.6" fill="none"/>
<path d="M427.05,80.47V86.49M425.85,80.47H428.25M425.85,86.49H428.25" stroke="#d2475e" stroke-width="0.6" fill="none"/>
<path d="M451.56,64.94V72.48M450.36,64.94H452.76M450.36,72.48H452.76" stroke="#d2475e" stroke-width="0.6" fill="none"/>
<path d="M392.92,91.77L394.37,90.32L395.82,91.77L394.37,93.22Z" fill="#e89aa6" stroke="#d2475e" stroke-width="0.85"/>
<path d="M401.09,88.90L402.54,87.45L403.99,88.90L402.54,90.35Z" fill="#e89aa6" stroke="#d2475e" stroke-width="0.85"/>
<path d="M409.26,87.40L410.71,85.95L412.16,87.40L410.71,88.85Z" fill="#e89aa6" stroke="#d2475e" stroke-width="0.85"/>
<path d="M417.43,84.68L418.88,83.23L420.33,84.68L418.88,86.13Z" fill="#e89aa6" stroke="#d2475e" stroke-width="0.85"/>
<path d="M425.60,83.48L427.05,82.03L428.50,83.48L427.05,84.93Z" fill="#e89aa6" stroke="#d2475e" stroke-width="0.85"/>
<path d="M450.11,68.71L451.56,67.26L453.01,68.71L451.56,70.16Z" fill="#e89aa6" stroke="#d2475e" stroke-width="0.85"/>
<polyline points="394.37,93.73 402.54,90.41 410.71,88.90 418.88,85.44 427.05,84.08 451.56,74.44" fill="none" stroke="#55ad55" stroke-width="1.0"/>
<path d="M394.37,92.22V95.23M393.17,92.22H395.57M393.17,95.23H395.57" stroke="#55ad55" stroke-width="0.6" fill="none"/>
<path d="M402.54,88.90V91.92M401.34,88.90H403.74M401.34,91.92H403.74" stroke="#55ad55" stroke-width="0.6" fill="none"/>
<path d="M410.71,87.40V90.41M409.51,87.40H411.91M409.51,90.41H411.91" stroke="#55ad55" stroke-width="0.6" fill="none"/>
<path d="M418.88,82.42V88.45M417.68,82.42H420.08M417.68,88.45H420.08" stroke="#55ad55" stroke-width="0.6" fill="none"/>
<path d="M427.05,81.07V87.10M425.85,81.07H428.25M425.85,87.10H428.25" stroke="#55ad55" stroke-width="0.6" fill="none"/>
<path d="M451.56,71.42V77.45M450.36,71.42H452.76M450.36,77.45H452.76" stroke="#55ad55" stroke-width="0.6" fill="none"/>
<path d="M392.92,94.89L394.37,92.28L395.82,94.89Z" fill="#a8d8a8" stroke="#55ad55" stroke-width="0.85"/>
<path d="M401.09,91.57L402.54,88.96L403.99,91.57Z" fill="#a8d8a8" stroke="#55ad55" stroke-width="0.85"/>
<path d="M409.26,90.06L410.71,87.45L412.16,90.06Z" fill="#a8d8a8" stroke="#55ad55" stroke-width="0.85"/>
<path d="M417.43,86.60L418.88,83.99L420.33,86.60Z" fill="#a8d8a8" stroke="#55ad55" stroke-width="0.85"/>
<path d="M425.60,85.24L427.05,82.63L428.50,85.24Z" fill="#a8d8a8" stroke="#55ad55" stroke-width="0.85"/>
<path d="M450.11,75.60L451.56,72.99L453.01,75.60Z" fill="#a8d8a8" stroke="#55ad55" stroke-width="0.85"/>
<polyline points="394.37,92.07 402.54,89.66 410.71,87.85 418.88,85.14 427.05,83.93 451.56,69.31" fill="none" stroke="#3f72a8" stroke-width="1.0"/>
<path d="M394.37,90.56V93.58M393.17,90.56H395.57M393.17,93.58H395.57" stroke="#3f72a8" stroke-width="0.6" fill="none"/>
<path d="M402.54,88.15V91.17M401.34,88.15H403.74M401.34,91.17H403.74" stroke="#3f72a8" stroke-width="0.6" fill="none"/>
<path d="M410.71,86.34V89.36M409.51,86.34H411.91M409.51,89.36H411.91" stroke="#3f72a8" stroke-width="0.6" fill="none"/>
<path d="M418.88,82.12V88.15M417.68,82.12H420.08M417.68,88.15H420.08" stroke="#3f72a8" stroke-width="0.6" fill="none"/>
<path d="M427.05,80.92V86.95M425.85,80.92H428.25M425.85,86.95H428.25" stroke="#3f72a8" stroke-width="0.6" fill="none"/>
<path d="M451.56,65.55V73.08M450.36,65.55H452.76M450.36,73.08H452.76" stroke="#3f72a8" stroke-width="0.6" fill="none"/>
<circle cx="394.37" cy="92.07" r="1.38" fill="#9dbbd9" stroke="#3f72a8" stroke-width="0.85"/>
<circle cx="402.54" cy="89.66" r="1.38" fill="#9dbbd9" stroke="#3f72a8" stroke-width="0.85"/>
<circle cx="410.71" cy="87.85" r="1.38" fill="#9dbbd9" stroke="#3f72a8" stroke-width="0.85"/>
<circle cx="418.88" cy="85.14" r="1.38" fill="#9dbbd9" stroke="#3f72a8" stroke-width="0.85"/>
<circle cx="427.05" cy="83.93" r="1.38" fill="#9dbbd9" stroke="#3f72a8" stroke-width="0.85"/>
<circle cx="451.56" cy="69.31" r="1.38" fill="#9dbbd9" stroke="#3f72a8" stroke-width="0.85"/>
<polyline points="394.37,92.67 402.54,89.81 410.71,90.41 418.88,91.32 427.05,90.86 451.56,88.45 459.73,86.04 467.90,80.31 476.07,79.26 484.24,72.63" fill="none" stroke="#f0a535" stroke-width="1.0"/>
<path d="M394.37,91.17V94.18M393.17,91.17H395.57M393.17,94.18H395.57" stroke="#f0a535" stroke-width="0.6" fill="none"/>
<path d="M402.54,88.30V91.32M401.34,88.30H403.74M401.34,91.32H403.74" stroke="#f0a535" stroke-width="0.6" fill="none"/>
<path d="M410.71,88.90V91.92M409.51,88.90H411.91M409.51,91.92H411.91" stroke="#f0a535" stroke-width="0.6" fill="none"/>
<path d="M418.88,89.81V92.82M417.68,89.81H420.08M417.68,92.82H420.08" stroke="#f0a535" stroke-width="0.6" fill="none"/>
<path d="M427.05,89.36V92.37M425.85,89.36H428.25M425.85,92.37H428.25" stroke="#f0a535" stroke-width="0.6" fill="none"/>
<path d="M451.56,86.95V89.96M450.36,86.95H452.76M450.36,89.96H452.76" stroke="#f0a535" stroke-width="0.6" fill="none"/>
<path d="M459.73,84.53V87.55M458.53,84.53H460.93M458.53,87.55H460.93" stroke="#f0a535" stroke-width="0.6" fill="none"/>
<path d="M467.90,75.04V85.59M466.70,75.04H469.10M466.70,85.59H469.10" stroke="#f0a535" stroke-width="0.6" fill="none"/>
<path d="M476.07,75.49V83.03M474.87,75.49H477.27M474.87,83.03H477.27" stroke="#f0a535" stroke-width="0.6" fill="none"/>
<path d="M484.24,65.85V79.41M483.04,65.85H485.44M483.04,79.41H485.44" stroke="#f0a535" stroke-width="0.6" fill="none"/>
<path d="M392.92,92.67L394.37,91.51L395.82,92.67L394.37,93.83Z" fill="#f7d49a" stroke="#f0a535" stroke-width="0.85"/>
<path d="M401.09,89.81L402.54,88.65L403.99,89.81L402.54,90.97Z" fill="#f7d49a" stroke="#f0a535" stroke-width="0.85"/>
<path d="M409.26,90.41L410.71,89.25L412.16,90.41L410.71,91.57Z" fill="#f7d49a" stroke="#f0a535" stroke-width="0.85"/>
<path d="M417.43,91.32L418.88,90.16L420.33,91.32L418.88,92.48Z" fill="#f7d49a" stroke="#f0a535" stroke-width="0.85"/>
<path d="M425.60,90.86L427.05,89.70L428.50,90.86L427.05,92.02Z" fill="#f7d49a" stroke="#f0a535" stroke-width="0.85"/>
<path d="M450.11,88.45L451.56,87.29L453.01,88.45L451.56,89.61Z" fill="#f7d49a" stroke="#f0a535" stroke-width="0.85"/>
<path d="M458.28,86.04L459.73,84.88L461.18,86.04L459.73,87.20Z" fill="#f7d49a" stroke="#f0a535" stroke-width="0.85"/>
<path d="M466.45,80.31L467.90,79.15L469.35,80.31L467.90,81.47Z" fill="#f7d49a" stroke="#f0a535" stroke-width="0.85"/>
<path d="M474.62,79.26L476.07,78.10L477.52,79.26L476.07,80.42Z" fill="#f7d49a" stroke="#f0a535" stroke-width="0.85"/>
<path d="M482.79,72.63L484.24,71.47L485.69,72.63L484.24,73.79Z" fill="#f7d49a" stroke="#f0a535" stroke-width="0.85"/>
<line x1="389.60" y1="38.80" x2="395.80" y2="38.80" stroke="#d2475e" stroke-width="1.1"/>
<path d="M391.20,38.80L392.70,37.30L394.20,38.80L392.70,40.30Z" fill="#b85a72" stroke="#a8405a" stroke-width="1.0"/>
<text x="399.00" y="41.00" font-size="6.9" fill="#1e1e1e" stroke="#1e1e1e" stroke-width="0.1">CTRL</text>
<line x1="389.60" y1="46.10" x2="395.80" y2="46.10" stroke="#3f72a8" stroke-width="1.1"/>
<circle cx="392.70" cy="46.10" r="1.42" fill="#4a78a8" stroke="#2f5f92" stroke-width="1.0"/>
<text x="399.00" y="48.30" font-size="6.9" fill="#1e1e1e" stroke="#1e1e1e" stroke-width="0.1">VEN</text>
<line x1="389.60" y1="53.40" x2="395.80" y2="53.40" stroke="#55ad55" stroke-width="1.1"/>
<path d="M391.20,54.60L392.70,51.90L394.20,54.60Z" fill="#5a9e5a" stroke="#3f8f3f" stroke-width="1.0"/>
<text x="399.00" y="55.60" font-size="6.9" fill="#1e1e1e" stroke="#1e1e1e" stroke-width="0.1">A1155463</text>
<line x1="389.60" y1="60.70" x2="395.80" y2="60.70" stroke="#f0a535" stroke-width="1.1"/>
<path d="M391.20,60.70L392.70,59.50L394.20,60.70L392.70,61.90Z" fill="#dcb060" stroke="#d09030" stroke-width="1.0"/>
<text x="399.00" y="62.90" font-size="6.9" fill="#1e1e1e" stroke="#1e1e1e" stroke-width="0.1">VEN + A1155463</text>
<text x="122.20" y="141.80" font-size="8.4" text-anchor="middle" fill="#1a1a1a" stroke="#1a1a1a" stroke-width="0.1">VFN-ALL1</text>
<line x1="59.60" y1="148.10" x2="59.60" y2="214.40" stroke="#1a1a1a" stroke-width="1.3"/>
<line x1="56.10" y1="211.40" x2="59.60" y2="211.40" stroke="#1a1a1a" stroke-width="1"/>
<text x="53.60" y="213.80" font-size="7.0" text-anchor="end" fill="#2a2a2a" stroke="#2a2a2a" stroke-width="0.1">0</text>
<line x1="56.10" y1="196.20" x2="59.60" y2="196.20" stroke="#1a1a1a" stroke-width="1"/>
<text x="53.60" y="198.60" font-size="7.0" text-anchor="end" fill="#2a2a2a" stroke="#2a2a2a" stroke-width="0.1">1000</text>
<line x1="56.10" y1="181.00" x2="59.60" y2="181.00" stroke="#1a1a1a" stroke-width="1"/>
<text x="53.60" y="183.40" font-size="7.0" text-anchor="end" fill="#2a2a2a" stroke="#2a2a2a" stroke-width="0.1">2000</text>
<line x1="56.10" y1="165.80" x2="59.60" y2="165.80" stroke="#1a1a1a" stroke-width="1"/>
<text x="53.60" y="168.20" font-size="7.0" text-anchor="end" fill="#2a2a2a" stroke="#2a2a2a" stroke-width="0.1">3000</text>
<line x1="56.10" y1="150.60" x2="59.60" y2="150.60" stroke="#1a1a1a" stroke-width="1"/>
<text x="53.60" y="153.00" font-size="7.0" text-anchor="end" fill="#2a2a2a" stroke="#2a2a2a" stroke-width="0.1">4000</text>
<line x1="59.00" y1="211.40" x2="185.10" y2="211.40" stroke="#1a1a1a" stroke-width="1.3"/>
<line x1="59.60" y1="211.40" x2="59.60" y2="214.60" stroke="#1a1a1a" stroke-width="1"/>
<text x="59.60" y="224.00" font-size="7.0" text-anchor="middle" fill="#2a2a2a" stroke="#2a2a2a" stroke-width="0.1">0</text>
<line x1="80.10" y1="211.40" x2="80.10" y2="214.60" stroke="#1a1a1a" stroke-width="1"/>
<text x="80.10" y="224.00" font-size="7.0" text-anchor="middle" fill="#2a2a2a" stroke="#2a2a2a" stroke-width="0.1">5</text>
<line x1="100.60" y1="211.40" x2="100.60" y2="214.60" stroke="#1a1a1a" stroke-width="1"/>
<text x="100.60" y="224.00" font-size="7.0" text-anchor="middle" fill="#2a2a2a" stroke="#2a2a2a" stroke-width="0.1">10</text>
<line x1="121.10" y1="211.40" x2="121.10" y2="214.60" stroke="#1a1a1a" stroke-width="1"/>
<text x="121.10" y="224.00" font-size="7.0" text-anchor="middle" fill="#2a2a2a" stroke="#2a2a2a" stroke-width="0.1">15</text>
<line x1="141.60" y1="211.40" x2="141.60" y2="214.60" stroke="#1a1a1a" stroke-width="1"/>
<text x="141.60" y="224.00" font-size="7.0" text-anchor="middle" fill="#2a2a2a" stroke="#2a2a2a" stroke-width="0.1">20</text>
<line x1="162.10" y1="211.40" x2="162.10" y2="214.60" stroke="#1a1a1a" stroke-width="1"/>
<text x="162.10" y="224.00" font-size="7.0" text-anchor="middle" fill="#2a2a2a" stroke="#2a2a2a" stroke-width="0.1">25</text>
<line x1="182.60" y1="211.40" x2="182.60" y2="214.60" stroke="#1a1a1a" stroke-width="1"/>
<text x="182.60" y="224.00" font-size="7.0" text-anchor="middle" fill="#2a2a2a" stroke="#2a2a2a" stroke-width="0.1">30</text>
<line x1="63.70" y1="225.40" x2="63.70" y2="229.40" stroke="#222" stroke-width="0.8"/>
<path d="M62.50,225.80L63.70,223.80L64.90,225.80Z" fill="#222"/>
<text x="63.70" y="238.00" font-size="6.7" text-anchor="middle" fill="#2a2a2a">1.TC</text>
<line x1="92.40" y1="225.40" x2="92.40" y2="229.40" stroke="#222" stroke-width="0.8"/>
<path d="M91.20,225.80L92.40,223.80L93.60,225.80Z" fill="#222"/>
<text x="92.40" y="238.00" font-size="6.7" text-anchor="middle" fill="#2a2a2a">2.TC</text>
<polyline points="63.70,209.03 67.80,209.03 76.00,206.99 80.10,205.62 84.20,204.26 88.30,203.65 92.40,202.28 96.50,200.91 100.60,200.23 104.70,199.54 108.80,198.88 117.00,196.15 125.20,194.13" fill="none" stroke="#d2475e" stroke-width="1.0"/>
<path d="M63.70,208.42V209.64M62.50,208.42H64.90M62.50,209.64H64.90" stroke="#d2475e" stroke-width="0.6" fill="none"/>
<path d="M67.80,208.42V209.64M66.60,208.42H69.00M66.60,209.64H69.00" stroke="#d2475e" stroke-width="0.6" fill="none"/>
<path d="M76.00,206.23V207.75M74.80,206.23H77.20M74.80,207.75H77.20" stroke="#d2475e" stroke-width="0.6" fill="none"/>
<path d="M80.10,204.71V206.54M78.90,204.71H81.30M78.90,206.54H81.30" stroke="#d2475e" stroke-width="0.6" fill="none"/>
<path d="M84.20,203.34V205.17M83.00,203.34H85.40M83.00,205.17H85.40" stroke="#d2475e" stroke-width="0.6" fill="none"/>
<path d="M88.30,202.43V204.86M87.10,202.43H89.50M87.10,204.86H89.50" stroke="#d2475e" stroke-width="0.6" fill="none"/>
<path d="M92.40,201.06V203.50M91.20,201.06H93.60M91.20,203.50H93.60" stroke="#d2475e" stroke-width="0.6" fill="none"/>
<path d="M96.50,199.39V202.43M95.30,199.39H97.70M95.30,202.43H97.70" stroke="#d2475e" stroke-width="0.6" fill="none"/>
<path d="M100.60,198.71V201.75M99.40,198.71H101.80M99.40,201.75H101.80" stroke="#d2475e" stroke-width="0.6" fill="none"/>
<path d="M104.70,198.02V201.06M103.50,198.02H105.90M103.50,201.06H105.90" stroke="#d2475e" stroke-width="0.6" fill="none"/>
<path d="M108.80,197.36V200.40M107.60,197.36H110.00M107.60,200.40H110.00" stroke="#d2475e" stroke-width="0.6" fill="none"/>
<path d="M117.00,194.33V197.98M115.80,194.33H118.20M115.80,197.98H118.20" stroke="#d2475e" stroke-width="0.6" fill="none"/>
<path d="M125.20,192.31V195.96M124.00,192.31H126.40M124.00,195.96H126.40" stroke="#d2475e" stroke-width="0.6" fill="none"/>
<path d="M62.25,209.03L63.70,207.58L65.15,209.03L63.70,210.48Z" fill="#e89aa6" stroke="#d2475e" stroke-width="0.85"/>
<path d="M66.35,209.03L67.80,207.58L69.25,209.03L67.80,210.48Z" fill="#e89aa6" stroke="#d2475e" stroke-width="0.85"/>
<path d="M74.55,206.99L76.00,205.54L77.45,206.99L76.00,208.44Z" fill="#e89aa6" stroke="#d2475e" stroke-width="0.85"/>
<path d="M78.65,205.62L80.10,204.17L81.55,205.62L80.10,207.07Z" fill="#e89aa6" stroke="#d2475e" stroke-width="0.85"/>
<path d="M82.75,204.26L84.20,202.81L85.65,204.26L84.20,205.71Z" fill="#e89aa6" stroke="#d2475e" stroke-width="0.85"/>
<path d="M86.85,203.65L88.30,202.20L89.75,203.65L88.30,205.10Z" fill="#e89aa6" stroke="#d2475e" stroke-width="0.85"/>
<path d="M90.95,202.28L92.40,200.83L93.85,202.28L92.40,203.73Z" fill="#e89aa6" stroke="#d2475e" stroke-width="0.85"/>
<path d="M95.05,200.91L96.50,199.46L97.95,200.91L96.50,202.36Z" fill="#e89aa6" stroke="#d2475e" stroke-width="0.85"/>
<path d="M99.15,200.23L100.60,198.78L102.05,200.23L100.60,201.68Z" fill="#e89aa6" stroke="#d2475e" stroke-width="0.85"/>
<path d="M103.25,199.54L104.70,198.09L106.15,199.54L104.70,200.99Z" fill="#e89aa6" stroke="#d2475e" stroke-width="0.85"/>
<path d="M107.35,198.88L108.80,197.43L110.25,198.88L108.80,200.33Z" fill="#e89aa6" stroke="#d2475e" stroke-width="0.85"/>
<path d="M115.55,196.15L117.00,194.70L118.45,196.15L117.00,197.60Z" fill="#e89aa6" stroke="#d2475e" stroke-width="0.85"/>
<path d="M123.75,194.13L125.20,192.68L126.65,194.13L125.20,195.58Z" fill="#e89aa6" stroke="#d2475e" stroke-width="0.85"/>
<polyline points="63.70,209.30 67.80,209.27 76.00,209.03 84.20,208.36 92.40,206.99 100.60,205.64 104.70,204.29 108.80,203.34 117.00,201.67 125.20,200.15" fill="none" stroke="#55ad55" stroke-width="1.0"/>
<path d="M63.70,208.69V209.91M62.50,208.69H64.90M62.50,209.91H64.90" stroke="#55ad55" stroke-width="0.6" fill="none"/>
<path d="M67.80,208.66V209.88M66.60,208.66H69.00M66.60,209.88H69.00" stroke="#55ad55" stroke-width="0.6" fill="none"/>
<path d="M76.00,208.27V209.79M74.80,208.27H77.20M74.80,209.79H77.20" stroke="#55ad55" stroke-width="0.6" fill="none"/>
<path d="M84.20,207.60V209.12M83.00,207.60H85.40M83.00,209.12H85.40" stroke="#55ad55" stroke-width="0.6" fill="none"/>
<path d="M92.40,205.78V208.21M91.20,205.78H93.60M91.20,208.21H93.60" stroke="#55ad55" stroke-width="0.6" fill="none"/>
<path d="M100.60,204.12V207.16M99.40,204.12H101.80M99.40,207.16H101.80" stroke="#55ad55" stroke-width="0.6" fill="none"/>
<path d="M104.70,202.46V206.11M103.50,202.46H105.90M103.50,206.11H105.90" stroke="#55ad55" stroke-width="0.6" fill="none"/>
<path d="M108.80,201.06V205.62M107.60,201.06H110.00M107.60,205.62H110.00" stroke="#55ad55" stroke-width="0.6" fill="none"/>
<path d="M117.00,198.63V204.71M115.80,198.63H118.20M115.80,204.71H118.20" stroke="#55ad55" stroke-width="0.6" fill="none"/>
<path d="M125.20,197.11V203.19M124.00,197.11H126.40M124.00,203.19H126.40" stroke="#55ad55" stroke-width="0.6" fill="none"/>
<path d="M62.25,210.46L63.70,207.85L65.15,210.46Z" fill="#a8d8a8" stroke="#55ad55" stroke-width="0.85"/>
<path d="M66.35,210.43L67.80,207.82L69.25,210.43Z" fill="#a8d8a8" stroke="#55ad55" stroke-width="0.85"/>
<path d="M74.55,210.19L76.00,207.58L77.45,210.19Z" fill="#a8d8a8" stroke="#55ad55" stroke-width="0.85"/>
<path d="M82.75,209.52L84.20,206.91L85.65,209.52Z" fill="#a8d8a8" stroke="#55ad55" stroke-width="0.85"/>
<path d="M90.95,208.15L92.40,205.54L93.85,208.15Z" fill="#a8d8a8" stroke="#55ad55" stroke-width="0.85"/>
<path d="M99.15,206.80L100.60,204.19L102.05,206.80Z" fill="#a8d8a8" stroke="#55ad55" stroke-width="0.85"/>
<path d="M103.25,205.45L104.70,202.84L106.15,205.45Z" fill="#a8d8a8" stroke="#55ad55" stroke-width="0.85"/>
<path d="M107.35,204.50L108.80,201.89L110.25,204.50Z" fill="#a8d8a8" stroke="#55ad55" stroke-width="0.85"/>
<path d="M115.55,202.83L117.00,200.22L118.45,202.83Z" fill="#a8d8a8" stroke="#55ad55" stroke-width="0.85"/>
<path d="M123.75,201.31L125.20,198.70L126.65,201.31Z" fill="#a8d8a8" stroke="#55ad55" stroke-width="0.85"/>
<polyline points="63.70,209.27 67.80,209.27 76.00,209.12 84.20,208.66 92.40,207.68 100.60,206.32 104.70,205.64 108.80,204.56 117.00,202.89 125.20,201.06 137.50,198.33 153.90,194.82 166.20,187.08" fill="none" stroke="#3f72a8" stroke-width="1.0"/>
<path d="M63.70,208.66V209.88M62.50,208.66H64.90M62.50,209.88H64.90" stroke="#3f72a8" stroke-width="0.6" fill="none"/>
<path d="M67.80,208.66V209.88M66.60,208.66H69.00M66.60,209.88H69.00" stroke="#3f72a8" stroke-width="0.6" fill="none"/>
<path d="M76.00,208.36V209.88M74.80,208.36H77.20M74.80,209.88H77.20" stroke="#3f72a8" stroke-width="0.6" fill="none"/>
<path d="M84.20,207.90V209.42M83.00,207.90H85.40M83.00,209.42H85.40" stroke="#3f72a8" stroke-width="0.6" fill="none"/>
<path d="M92.40,206.46V208.89M91.20,206.46H93.60M91.20,208.89H93.60" stroke="#3f72a8" stroke-width="0.6" fill="none"/>
<path d="M100.60,204.80V207.84M99.40,204.80H101.80M99.40,207.84H101.80" stroke="#3f72a8" stroke-width="0.6" fill="none"/>
<path d="M104.70,203.82V207.46M103.50,203.82H105.90M103.50,207.46H105.90" stroke="#3f72a8" stroke-width="0.6" fill="none"/>
<path d="M108.80,202.28V206.84M107.60,202.28H110.00M107.60,206.84H110.00" stroke="#3f72a8" stroke-width="0.6" fill="none"/>
<path d="M117.00,199.85V205.93M115.80,199.85H118.20M115.80,205.93H118.20" stroke="#3f72a8" stroke-width="0.6" fill="none"/>
<path d="M125.20,198.02V204.10M124.00,198.02H126.40M124.00,204.10H126.40" stroke="#3f72a8" stroke-width="0.6" fill="none"/>
<path d="M137.50,196.05V200.61M136.30,196.05H138.70M136.30,200.61H138.70" stroke="#3f72a8" stroke-width="0.6" fill="none"/>
<path d="M153.90,190.26V199.38M152.70,190.26H155.10M152.70,199.38H155.10" stroke="#3f72a8" stroke-width="0.6" fill="none"/>
<path d="M166.20,183.28V190.88M165.00,183.28H167.40M165.00,190.88H167.40" stroke="#3f72a8" stroke-width="0.6" fill="none"/>
<circle cx="63.70" cy="209.27" r="1.38" fill="#9dbbd9" stroke="#3f72a8" stroke-width="0.85"/>
<circle cx="67.80" cy="209.27" r="1.38" fill="#9dbbd9" stroke="#3f72a8" stroke-width="0.85"/>
<circle cx="76.00" cy="209.12" r="1.38" fill="#9dbbd9" stroke="#3f72a8" stroke-width="0.85"/>
<circle cx="84.20" cy="208.66" r="1.38" fill="#9dbbd9" stroke="#3f72a8" stroke-width="0.85"/>
<circle cx="92.40" cy="207.68" r="1.38" fill="#9dbbd9" stroke="#3f72a8" stroke-width="0.85"/>
<circle cx="100.60" cy="206.32" r="1.38" fill="#9dbbd9" stroke="#3f72a8" stroke-width="0.85"/>
<circle cx="104.70" cy="205.64" r="1.38" fill="#9dbbd9" stroke="#3f72a8" stroke-width="0.85"/>
<circle cx="108.80" cy="204.56" r="1.38" fill="#9dbbd9" stroke="#3f72a8" stroke-width="0.85"/>
<circle cx="117.00" cy="202.89" r="1.38" fill="#9dbbd9" stroke="#3f72a8" stroke-width="0.85"/>
<circle cx="125.20" cy="201.06" r="1.38" fill="#9dbbd9" stroke="#3f72a8" stroke-width="0.85"/>
<circle cx="137.50" cy="198.33" r="1.38" fill="#9dbbd9" stroke="#3f72a8" stroke-width="0.85"/>
<circle cx="153.90" cy="194.82" r="1.38" fill="#9dbbd9" stroke="#3f72a8" stroke-width="0.85"/>
<circle cx="166.20" cy="187.08" r="1.38" fill="#9dbbd9" stroke="#3f72a8" stroke-width="0.85"/>
<polyline points="63.70,210.18 67.80,211.10 71.90,211.10 76.00,211.10 80.10,211.10 84.20,211.10 88.30,211.10 92.40,211.10 96.50,211.10 100.60,211.10 104.70,211.10 108.80,211.10 112.90,211.10 117.00,211.10 121.10,211.10 125.20,209.71 137.50,206.99 153.90,201.58 166.20,195.49 174.40,189.39" fill="none" stroke="#f0a535" stroke-width="1.0"/>
<path d="M63.70,209.73V210.64M62.50,209.73H64.90M62.50,210.64H64.90" stroke="#f0a535" stroke-width="0.6" fill="none"/>
<path d="M125.20,208.95V210.47M124.00,208.95H126.40M124.00,210.47H126.40" stroke="#f0a535" stroke-width="0.6" fill="none"/>
<path d="M137.50,205.47V208.51M136.30,205.47H138.70M136.30,208.51H138.70" stroke="#f0a535" stroke-width="0.6" fill="none"/>
<path d="M153.90,198.54V204.62M152.70,198.54H155.10M152.70,204.62H155.10" stroke="#f0a535" stroke-width="0.6" fill="none"/>
<path d="M166.20,190.17V200.81M165.00,190.17H167.40M165.00,200.81H167.40" stroke="#f0a535" stroke-width="0.6" fill="none"/>
<path d="M174.40,181.03V197.75M173.20,181.03H175.60M173.20,197.75H175.60" stroke="#f0a535" stroke-width="0.6" fill="none"/>
<path d="M62.25,210.18L63.70,209.02L65.15,210.18L63.70,211.34Z" fill="#f7d49a" stroke="#f0a535" stroke-width="0.85"/>
<rect x="66.90" y="210.20" width="1.8" height="1.6" fill="#d09030" opacity="0.55"/>
<rect x="71.00" y="210.20" width="1.8" height="1.6" fill="#d09030" opacity="0.55"/>
<rect x="75.10" y="210.20" width="1.8" height="1.6" fill="#d09030" opacity="0.55"/>
<rect x="79.20" y="210.20" width="1.8" height="1.6" fill="#d09030" opacity="0.55"/>
<rect x="83.30" y="210.20" width="1.8" height="1.6" fill="#d09030" opacity="0.55"/>
<rect x="87.40" y="210.20" width="1.8" height="1.6" fill="#d09030" opacity="0.55"/>
<rect x="91.50" y="210.20" width="1.8" height="1.6" fill="#d09030" opacity="0.55"/>
<rect x="95.60" y="210.20" width="1.8" height="1.6" fill="#d09030" opacity="0.55"/>
<rect x="99.70" y="210.20" width="1.8" height="1.6" fill="#d09030" opacity="0.55"/>
<rect x="103.80" y="210.20" width="1.8" height="1.6" fill="#d09030" opacity="0.55"/>
<rect x="107.90" y="210.20" width="1.8" height="1.6" fill="#d09030" opacity="0.55"/>
<rect x="112.00" y="210.20" width="1.8" height="1.6" fill="#d09030" opacity="0.55"/>
<rect x="116.10" y="210.20" width="1.8" height="1.6" fill="#d09030" opacity="0.55"/>
<rect x="120.20" y="210.20" width="1.8" height="1.6" fill="#d09030" opacity="0.55"/>
<path d="M123.75,209.71L125.20,208.55L126.65,209.71L125.20,210.87Z" fill="#f7d49a" stroke="#f0a535" stroke-width="0.85"/>
<path d="M136.05,206.99L137.50,205.83L138.95,206.99L137.50,208.15Z" fill="#f7d49a" stroke="#f0a535" stroke-width="0.85"/>
<path d="M152.45,201.58L153.90,200.42L155.35,201.58L153.90,202.74Z" fill="#f7d49a" stroke="#f0a535" stroke-width="0.85"/>
<path d="M164.75,195.49L166.20,194.33L167.65,195.49L166.20,196.65Z" fill="#f7d49a" stroke="#f0a535" stroke-width="0.85"/>
<path d="M172.95,189.39L174.40,188.23L175.85,189.39L174.40,190.55Z" fill="#f7d49a" stroke="#f0a535" stroke-width="0.85"/>
<line x1="63.90" y1="148.60" x2="70.10" y2="148.60" stroke="#d2475e" stroke-width="1.1"/>
<path d="M65.50,148.60L67.00,147.10L68.50,148.60L67.00,150.10Z" fill="#b85a72" stroke="#a8405a" stroke-width="1.0"/>
<text x="73.30" y="150.80" font-size="6.9" fill="#1e1e1e" stroke="#1e1e1e" stroke-width="0.1">CTRL</text>
<line x1="63.90" y1="155.95" x2="70.10" y2="155.95" stroke="#3f72a8" stroke-width="1.1"/>
<circle cx="67.00" cy="155.95" r="1.42" fill="#4a78a8" stroke="#2f5f92" stroke-width="1.0"/>
<text x="73.30" y="158.15" font-size="6.9" fill="#1e1e1e" stroke="#1e1e1e" stroke-width="0.1">VEN</text>
<line x1="63.90" y1="163.30" x2="70.10" y2="163.30" stroke="#55ad55" stroke-width="1.1"/>
<path d="M65.50,164.50L67.00,161.80L68.50,164.50Z" fill="#5a9e5a" stroke="#3f8f3f" stroke-width="1.0"/>
<text x="73.30" y="165.50" font-size="6.9" fill="#1e1e1e" stroke="#1e1e1e" stroke-width="0.1">A1155463</text>
<line x1="63.90" y1="170.65" x2="70.10" y2="170.65" stroke="#f0a535" stroke-width="1.1"/>
<path d="M65.50,170.65L67.00,169.45L68.50,170.65L67.00,171.85Z" fill="#dcb060" stroke="#d09030" stroke-width="1.0"/>
<text x="73.30" y="172.85" font-size="6.9" fill="#1e1e1e" stroke="#1e1e1e" stroke-width="0.1">VEN + A1155463</text>
<text x="286.00" y="141.80" font-size="8.4" text-anchor="middle" fill="#1a1a1a" stroke="#1a1a1a" stroke-width="0.1">VFN-ALL6</text>
<line x1="222.90" y1="148.10" x2="222.90" y2="214.40" stroke="#1a1a1a" stroke-width="1.3"/>
<line x1="219.40" y1="211.40" x2="222.90" y2="211.40" stroke="#1a1a1a" stroke-width="1"/>
<text x="216.90" y="213.80" font-size="7.0" text-anchor="end" fill="#2a2a2a" stroke="#2a2a2a" stroke-width="0.1">0</text>
<line x1="219.40" y1="196.20" x2="222.90" y2="196.20" stroke="#1a1a1a" stroke-width="1"/>
<text x="216.90" y="198.60" font-size="7.0" text-anchor="end" fill="#2a2a2a" stroke="#2a2a2a" stroke-width="0.1">1000</text>
<line x1="219.40" y1="181.00" x2="222.90" y2="181.00" stroke="#1a1a1a" stroke-width="1"/>
<text x="216.90" y="183.40" font-size="7.0" text-anchor="end" fill="#2a2a2a" stroke="#2a2a2a" stroke-width="0.1">2000</text>
<line x1="219.40" y1="165.80" x2="222.90" y2="165.80" stroke="#1a1a1a" stroke-width="1"/>
<text x="216.90" y="168.20" font-size="7.0" text-anchor="end" fill="#2a2a2a" stroke="#2a2a2a" stroke-width="0.1">3000</text>
<line x1="219.40" y1="150.60" x2="222.90" y2="150.60" stroke="#1a1a1a" stroke-width="1"/>
<text x="216.90" y="153.00" font-size="7.0" text-anchor="end" fill="#2a2a2a" stroke="#2a2a2a" stroke-width="0.1">4000</text>
<line x1="222.30" y1="211.40" x2="348.40" y2="211.40" stroke="#1a1a1a" stroke-width="1.3"/>
<line x1="222.90" y1="211.40" x2="222.90" y2="214.60" stroke="#1a1a1a" stroke-width="1"/>
<text x="222.90" y="224.00" font-size="7.0" text-anchor="middle" fill="#2a2a2a" stroke="#2a2a2a" stroke-width="0.1">0</text>
<line x1="243.40" y1="211.40" x2="243.40" y2="214.60" stroke="#1a1a1a" stroke-width="1"/>
<text x="243.40" y="224.00" font-size="7.0" text-anchor="middle" fill="#2a2a2a" stroke="#2a2a2a" stroke-width="0.1">5</text>
<line x1="263.90" y1="211.40" x2="263.90" y2="214.60" stroke="#1a1a1a" stroke-width="1"/>
<text x="263.90" y="224.00" font-size="7.0" text-anchor="middle" fill="#2a2a2a" stroke="#2a2a2a" stroke-width="0.1">10</text>
<line x1="284.40" y1="211.40" x2="284.40" y2="214.60" stroke="#1a1a1a" stroke-width="1"/>
<text x="284.40" y="224.00" font-size="7.0" text-anchor="middle" fill="#2a2a2a" stroke="#2a2a2a" stroke-width="0.1">15</text>
<line x1="304.90" y1="211.40" x2="304.90" y2="214.60" stroke="#1a1a1a" stroke-width="1"/>
<text x="304.90" y="224.00" font-size="7.0" text-anchor="middle" fill="#2a2a2a" stroke="#2a2a2a" stroke-width="0.1">20</text>
<line x1="325.40" y1="211.40" x2="325.40" y2="214.60" stroke="#1a1a1a" stroke-width="1"/>
<text x="325.40" y="224.00" font-size="7.0" text-anchor="middle" fill="#2a2a2a" stroke="#2a2a2a" stroke-width="0.1">25</text>
<line x1="345.90" y1="211.40" x2="345.90" y2="214.60" stroke="#1a1a1a" stroke-width="1"/>
<text x="345.90" y="224.00" font-size="7.0" text-anchor="middle" fill="#2a2a2a" stroke="#2a2a2a" stroke-width="0.1">30</text>
<line x1="227.00" y1="225.40" x2="227.00" y2="229.40" stroke="#222" stroke-width="0.8"/>
<path d="M225.80,225.80L227.00,223.80L228.20,225.80Z" fill="#222"/>
<text x="227.00" y="238.00" font-size="6.7" text-anchor="middle" fill="#2a2a2a">1.TC</text>
<line x1="255.70" y1="225.40" x2="255.70" y2="229.40" stroke="#222" stroke-width="0.8"/>
<path d="M254.50,225.80L255.70,223.80L256.90,225.80Z" fill="#222"/>
<text x="255.70" y="238.00" font-size="6.7" text-anchor="middle" fill="#2a2a2a">2.TC</text>
<polyline points="227.00,206.54 231.10,204.10 235.20,198.63 239.30,194.68 243.40,189.82 247.50,179.48" fill="none" stroke="#d2475e" stroke-width="1.0"/>
<path d="M227.00,205.62V207.45M225.80,205.62H228.20M225.80,207.45H228.20" stroke="#d2475e" stroke-width="0.6" fill="none"/>
<path d="M231.10,202.58V205.62M229.90,202.58H232.30M229.90,205.62H232.30" stroke="#d2475e" stroke-width="0.6" fill="none"/>
<path d="M235.20,196.35V200.91M234.00,196.35H236.40M234.00,200.91H236.40" stroke="#d2475e" stroke-width="0.6" fill="none"/>
<path d="M239.30,191.64V197.72M238.10,191.64H240.50M238.10,197.72H240.50" stroke="#d2475e" stroke-width="0.6" fill="none"/>
<path d="M243.40,186.02V193.62M242.20,186.02H244.60M242.20,193.62H244.60" stroke="#d2475e" stroke-width="0.6" fill="none"/>
<path d="M247.50,174.92V184.04M246.30,174.92H248.70M246.30,184.04H248.70" stroke="#d2475e" stroke-width="0.6" fill="none"/>
<path d="M225.55,206.54L227.00,205.09L228.45,206.54L227.00,207.99Z" fill="#e89aa6" stroke="#d2475e" stroke-width="0.85"/>
<path d="M229.65,204.10L231.10,202.65L232.55,204.10L231.10,205.55Z" fill="#e89aa6" stroke="#d2475e" stroke-width="0.85"/>
<path d="M233.75,198.63L235.20,197.18L236.65,198.63L235.20,200.08Z" fill="#e89aa6" stroke="#d2475e" stroke-width="0.85"/>
<path d="M237.85,194.68L239.30,193.23L240.75,194.68L239.30,196.13Z" fill="#e89aa6" stroke="#d2475e" stroke-width="0.85"/>
<path d="M241.95,189.82L243.40,188.37L244.85,189.82L243.40,191.27Z" fill="#e89aa6" stroke="#d2475e" stroke-width="0.85"/>
<path d="M246.05,179.48L247.50,178.03L248.95,179.48L247.50,180.93Z" fill="#e89aa6" stroke="#d2475e" stroke-width="0.85"/>
<polyline points="227.00,207.45 231.10,206.54 235.20,202.58 239.30,196.66 243.40,191.18 247.50,179.94" fill="none" stroke="#55ad55" stroke-width="1.0"/>
<path d="M227.00,206.54V208.36M225.80,206.54H228.20M225.80,208.36H228.20" stroke="#55ad55" stroke-width="0.6" fill="none"/>
<path d="M231.10,205.32V207.75M229.90,205.32H232.30M229.90,207.75H232.30" stroke="#55ad55" stroke-width="0.6" fill="none"/>
<path d="M235.20,199.54V205.62M234.00,199.54H236.40M234.00,205.62H236.40" stroke="#55ad55" stroke-width="0.6" fill="none"/>
<path d="M239.30,192.10V201.22M238.10,192.10H240.50M238.10,201.22H240.50" stroke="#55ad55" stroke-width="0.6" fill="none"/>
<path d="M243.40,186.62V195.74M242.20,186.62H244.60M242.20,195.74H244.60" stroke="#55ad55" stroke-width="0.6" fill="none"/>
<path d="M247.50,175.38V184.50M246.30,175.38H248.70M246.30,184.50H248.70" stroke="#55ad55" stroke-width="0.6" fill="none"/>
<path d="M225.55,208.61L227.00,206.00L228.45,208.61Z" fill="#a8d8a8" stroke="#55ad55" stroke-width="0.85"/>
<path d="M229.65,207.70L231.10,205.09L232.55,207.70Z" fill="#a8d8a8" stroke="#55ad55" stroke-width="0.85"/>
<path d="M233.75,203.74L235.20,201.13L236.65,203.74Z" fill="#a8d8a8" stroke="#55ad55" stroke-width="0.85"/>
<path d="M237.85,197.82L239.30,195.21L240.75,197.82Z" fill="#a8d8a8" stroke="#55ad55" stroke-width="0.85"/>
<path d="M241.95,192.34L243.40,189.73L244.85,192.34Z" fill="#a8d8a8" stroke="#55ad55" stroke-width="0.85"/>
<path d="M246.05,181.10L247.50,178.49L248.95,181.10Z" fill="#a8d8a8" stroke="#55ad55" stroke-width="0.85"/>
<polyline points="227.00,208.36 231.10,210.18 235.20,211.10 239.30,211.10 243.40,211.10 247.50,211.10 251.60,211.10 255.70,211.10 259.80,211.10 263.90,211.10 268.00,211.10 272.10,211.10 276.20,211.10 280.30,211.10 292.60,203.02 298.75,190.17 312.69,173.90" fill="none" stroke="#3f72a8" stroke-width="1.0"/>
<path d="M227.00,207.60V209.12M225.80,207.60H228.20M225.80,209.12H228.20" stroke="#3f72a8" stroke-width="0.6" fill="none"/>
<path d="M231.10,209.73V210.64M229.90,209.73H232.30M229.90,210.64H232.30" stroke="#3f72a8" stroke-width="0.6" fill="none"/>
<path d="M292.60,200.74V205.30M291.40,200.74H293.80M291.40,205.30H293.80" stroke="#3f72a8" stroke-width="0.6" fill="none"/>
<path d="M298.75,184.09V196.25M297.55,184.09H299.95M297.55,196.25H299.95" stroke="#3f72a8" stroke-width="0.6" fill="none"/>
<path d="M312.69,169.34V178.46M311.49,169.34H313.89M311.49,178.46H313.89" stroke="#3f72a8" stroke-width="0.6" fill="none"/>
<circle cx="227.00" cy="208.36" r="1.38" fill="#9dbbd9" stroke="#3f72a8" stroke-width="0.85"/>
<circle cx="231.10" cy="210.18" r="1.38" fill="#9dbbd9" stroke="#3f72a8" stroke-width="0.85"/>
<rect x="234.30" y="210.20" width="1.8" height="1.6" fill="#2f5f92" opacity="0.55"/>
<rect x="238.40" y="210.20" width="1.8" height="1.6" fill="#2f5f92" opacity="0.55"/>
<rect x="242.50" y="210.20" width="1.8" height="1.6" fill="#2f5f92" opacity="0.55"/>
<rect x="246.60" y="210.20" width="1.8" height="1.6" fill="#2f5f92" opacity="0.55"/>
<rect x="250.70" y="210.20" width="1.8" height="1.6" fill="#2f5f92" opacity="0.55"/>
<rect x="254.80" y="210.20" width="1.8" height="1.6" fill="#2f5f92" opacity="0.55"/>
<rect x="258.90" y="210.20" width="1.8" height="1.6" fill="#2f5f92" opacity="0.55"/>
<rect x="263.00" y="210.20" width="1.8" height="1.6" fill="#2f5f92" opacity="0.55"/>
<rect x="267.10" y="210.20" width="1.8" height="1.6" fill="#2f5f92" opacity="0.55"/>
<rect x="271.20" y="210.20" width="1.8" height="1.6" fill="#2f5f92" opacity="0.55"/>
<rect x="275.30" y="210.20" width="1.8" height="1.6" fill="#2f5f92" opacity="0.55"/>
<rect x="279.40" y="210.20" width="1.8" height="1.6" fill="#2f5f92" opacity="0.55"/>
<circle cx="292.60" cy="203.02" r="1.38" fill="#9dbbd9" stroke="#3f72a8" stroke-width="0.85"/>
<circle cx="298.75" cy="190.17" r="1.38" fill="#9dbbd9" stroke="#3f72a8" stroke-width="0.85"/>
<circle cx="312.69" cy="173.90" r="1.38" fill="#9dbbd9" stroke="#3f72a8" stroke-width="0.85"/>
<polyline points="227.00,208.97 231.10,211.10 235.20,211.10 239.30,211.10 243.40,211.10 247.50,211.10 251.60,211.10 255.70,211.10 259.80,211.10 263.90,211.10 268.00,211.10 272.10,211.10 276.20,211.10 280.30,211.10 284.40,211.10 288.50,211.10 292.60,211.10 296.70,211.10 300.80,211.10 304.90,211.10 309.00,211.10 313.10,208.45 321.30,201.67 325.40,194.89 329.50,189.48" fill="none" stroke="#f0a535" stroke-width="1.0"/>
<path d="M227.00,208.06V209.88M225.80,208.06H228.20M225.80,209.88H228.20" stroke="#f0a535" stroke-width="0.6" fill="none"/>
<path d="M313.10,207.69V209.21M311.90,207.69H314.30M311.90,209.21H314.30" stroke="#f0a535" stroke-width="0.6" fill="none"/>
<path d="M321.30,200.15V203.19M320.10,200.15H322.50M320.10,203.19H322.50" stroke="#f0a535" stroke-width="0.6" fill="none"/>
<path d="M325.40,191.85V197.93M324.20,191.85H326.60M324.20,197.93H326.60" stroke="#f0a535" stroke-width="0.6" fill="none"/>
<path d="M329.50,185.68V193.28M328.30,185.68H330.70M328.30,193.28H330.70" stroke="#f0a535" stroke-width="0.6" fill="none"/>
<path d="M225.55,208.97L227.00,207.81L228.45,208.97L227.00,210.13Z" fill="#f7d49a" stroke="#f0a535" stroke-width="0.85"/>
<rect x="230.20" y="210.20" width="1.8" height="1.6" fill="#d09030" opacity="0.55"/>
<rect x="234.30" y="210.20" width="1.8" height="1.6" fill="#d09030" opacity="0.55"/>
<rect x="238.40" y="210.20" width="1.8" height="1.6" fill="#d09030" opacity="0.55"/>
<rect x="242.50" y="210.20" width="1.8" height="1.6" fill="#d09030" opacity="0.55"/>
<rect x="246.60" y="210.20" width="1.8" height="1.6" fill="#d09030" opacity="0.55"/>
<rect x="250.70" y="210.20" width="1.8" height="1.6" fill="#d09030" opacity="0.55"/>
<rect x="254.80" y="210.20" width="1.8" height="1.6" fill="#d09030" opacity="0.55"/>
<rect x="258.90" y="210.20" width="1.8" height="1.6" fill="#d09030" opacity="0.55"/>
<rect x="263.00" y="210.20" width="1.8" height="1.6" fill="#d09030" opacity="0.55"/>
<rect x="267.10" y="210.20" width="1.8" height="1.6" fill="#d09030" opacity="0.55"/>
<rect x="271.20" y="210.20" width="1.8" height="1.6" fill="#d09030" opacity="0.55"/>
<rect x="275.30" y="210.20" width="1.8" height="1.6" fill="#d09030" opacity="0.55"/>
<rect x="279.40" y="210.20" width="1.8" height="1.6" fill="#d09030" opacity="0.55"/>
<rect x="283.50" y="210.20" width="1.8" height="1.6" fill="#d09030" opacity="0.55"/>
<rect x="287.60" y="210.20" width="1.8" height="1.6" fill="#d09030" opacity="0.55"/>
<rect x="291.70" y="210.20" width="1.8" height="1.6" fill="#d09030" opacity="0.55"/>
<rect x="295.80" y="210.20" width="1.8" height="1.6" fill="#d09030" opacity="0.55"/>
<rect x="299.90" y="210.20" width="1.8" height="1.6" fill="#d09030" opacity="0.55"/>
<rect x="304.00" y="210.20" width="1.8" height="1.6" fill="#d09030" opacity="0.55"/>
<rect x="308.10" y="210.20" width="1.8" height="1.6" fill="#d09030" opacity="0.55"/>
<path d="M311.65,208.45L313.10,207.29L314.55,208.45L313.10,209.61Z" fill="#f7d49a" stroke="#f0a535" stroke-width="0.85"/>
<path d="M319.85,201.67L321.30,200.51L322.75,201.67L321.30,202.83Z" fill="#f7d49a" stroke="#f0a535" stroke-width="0.85"/>
<path d="M323.95,194.89L325.40,193.73L326.85,194.89L325.40,196.05Z" fill="#f7d49a" stroke="#f0a535" stroke-width="0.85"/>
<path d="M328.05,189.48L329.50,188.32L330.95,189.48L329.50,190.64Z" fill="#f7d49a" stroke="#f0a535" stroke-width="0.85"/>
<line x1="226.70" y1="148.80" x2="232.90" y2="148.80" stroke="#d2475e" stroke-width="1.1"/>
<path d="M228.30,148.80L229.80,147.30L231.30,148.80L229.80,150.30Z" fill="#b85a72" stroke="#a8405a" stroke-width="1.0"/>
<text x="236.10" y="151.00" font-size="6.9" fill="#1e1e1e" stroke="#1e1e1e" stroke-width="0.1">CTRL</text>
<line x1="226.70" y1="156.10" x2="232.90" y2="156.10" stroke="#3f72a8" stroke-width="1.1"/>
<circle cx="229.80" cy="156.10" r="1.42" fill="#4a78a8" stroke="#2f5f92" stroke-width="1.0"/>
<text x="236.10" y="158.30" font-size="6.9" fill="#1e1e1e" stroke="#1e1e1e" stroke-width="0.1">VEN</text>
<line x1="226.70" y1="163.40" x2="232.90" y2="163.40" stroke="#55ad55" stroke-width="1.1"/>
<path d="M228.30,164.60L229.80,161.90L231.30,164.60Z" fill="#5a9e5a" stroke="#3f8f3f" stroke-width="1.0"/>
<text x="236.10" y="165.60" font-size="6.9" fill="#1e1e1e" stroke="#1e1e1e" stroke-width="0.1">A1155463</text>
<line x1="226.70" y1="170.70" x2="232.90" y2="170.70" stroke="#f0a535" stroke-width="1.1"/>
<path d="M228.30,170.70L229.80,169.50L231.30,170.70L229.80,171.90Z" fill="#dcb060" stroke="#d09030" stroke-width="1.0"/>
<text x="236.10" y="172.90" font-size="6.9" fill="#1e1e1e" stroke="#1e1e1e" stroke-width="0.1">VEN + A1155463</text>
<text x="448.60" y="142.00" font-size="8.4" text-anchor="middle" fill="#1a1a1a" stroke="#1a1a1a" stroke-width="0.1">VFN-ALL7</text>
<line x1="386.10" y1="148.10" x2="386.10" y2="214.40" stroke="#1a1a1a" stroke-width="1.3"/>
<line x1="382.60" y1="211.40" x2="386.10" y2="211.40" stroke="#1a1a1a" stroke-width="1"/>
<text x="380.10" y="213.80" font-size="7.0" text-anchor="end" fill="#2a2a2a" stroke="#2a2a2a" stroke-width="0.1">0</text>
<line x1="382.60" y1="196.20" x2="386.10" y2="196.20" stroke="#1a1a1a" stroke-width="1"/>
<text x="380.10" y="198.60" font-size="7.0" text-anchor="end" fill="#2a2a2a" stroke="#2a2a2a" stroke-width="0.1">1000</text>
<line x1="382.60" y1="181.00" x2="386.10" y2="181.00" stroke="#1a1a1a" stroke-width="1"/>
<text x="380.10" y="183.40" font-size="7.0" text-anchor="end" fill="#2a2a2a" stroke="#2a2a2a" stroke-width="0.1">2000</text>
<line x1="382.60" y1="165.80" x2="386.10" y2="165.80" stroke="#1a1a1a" stroke-width="1"/>
<text x="380.10" y="168.20" font-size="7.0" text-anchor="end" fill="#2a2a2a" stroke="#2a2a2a" stroke-width="0.1">3000</text>
<line x1="382.60" y1="150.60" x2="386.10" y2="150.60" stroke="#1a1a1a" stroke-width="1"/>
<text x="380.10" y="153.00" font-size="7.0" text-anchor="end" fill="#2a2a2a" stroke="#2a2a2a" stroke-width="0.1">4000</text>
<line x1="385.50" y1="211.40" x2="511.00" y2="211.40" stroke="#1a1a1a" stroke-width="1.3"/>
<line x1="386.10" y1="211.40" x2="386.10" y2="214.60" stroke="#1a1a1a" stroke-width="1"/>
<text x="386.10" y="224.00" font-size="7.0" text-anchor="middle" fill="#2a2a2a" stroke="#2a2a2a" stroke-width="0.1">0</text>
<line x1="398.34" y1="211.40" x2="398.34" y2="214.60" stroke="#1a1a1a" stroke-width="1"/>
<text x="398.34" y="224.00" font-size="7.0" text-anchor="middle" fill="#2a2a2a" stroke="#2a2a2a" stroke-width="0.1">5</text>
<line x1="410.58" y1="211.40" x2="410.58" y2="214.60" stroke="#1a1a1a" stroke-width="1"/>
<text x="410.58" y="224.00" font-size="7.0" text-anchor="middle" fill="#2a2a2a" stroke="#2a2a2a" stroke-width="0.1">10</text>
<line x1="422.82" y1="211.40" x2="422.82" y2="214.60" stroke="#1a1a1a" stroke-width="1"/>
<text x="422.82" y="224.00" font-size="7.0" text-anchor="middle" fill="#2a2a2a" stroke="#2a2a2a" stroke-width="0.1">15</text>
<line x1="435.06" y1="211.40" x2="435.06" y2="214.60" stroke="#1a1a1a" stroke-width="1"/>
<text x="435.06" y="224.00" font-size="7.0" text-anchor="middle" fill="#2a2a2a" stroke="#2a2a2a" stroke-width="0.1">20</text>
<line x1="447.30" y1="211.40" x2="447.30" y2="214.60" stroke="#1a1a1a" stroke-width="1"/>
<text x="447.30" y="224.00" font-size="7.0" text-anchor="middle" fill="#2a2a2a" stroke="#2a2a2a" stroke-width="0.1">25</text>
<line x1="459.54" y1="211.40" x2="459.54" y2="214.60" stroke="#1a1a1a" stroke-width="1"/>
<text x="459.54" y="224.00" font-size="7.0" text-anchor="middle" fill="#2a2a2a" stroke="#2a2a2a" stroke-width="0.1">30</text>
<line x1="471.78" y1="211.40" x2="471.78" y2="214.60" stroke="#1a1a1a" stroke-width="1"/>
<text x="471.78" y="224.00" font-size="7.0" text-anchor="middle" fill="#2a2a2a" stroke="#2a2a2a" stroke-width="0.1">35</text>
<line x1="484.02" y1="211.40" x2="484.02" y2="214.60" stroke="#1a1a1a" stroke-width="1"/>
<text x="484.02" y="224.00" font-size="7.0" text-anchor="middle" fill="#2a2a2a" stroke="#2a2a2a" stroke-width="0.1">40</text>
<line x1="496.26" y1="211.40" x2="496.26" y2="214.60" stroke="#1a1a1a" stroke-width="1"/>
<text x="496.26" y="224.00" font-size="7.0" text-anchor="middle" fill="#2a2a2a" stroke="#2a2a2a" stroke-width="0.1">45</text>
<line x1="508.50" y1="211.40" x2="508.50" y2="214.60" stroke="#1a1a1a" stroke-width="1"/>
<text x="508.50" y="224.00" font-size="7.0" text-anchor="middle" fill="#2a2a2a" stroke="#2a2a2a" stroke-width="0.1">50</text>
<line x1="389.16" y1="225.40" x2="389.16" y2="229.40" stroke="#222" stroke-width="0.8"/>
<path d="M387.96,225.80L389.16,223.80L390.36,225.80Z" fill="#222"/>
<text x="389.16" y="238.00" font-size="6.7" text-anchor="middle" fill="#2a2a2a">1.TC</text>
<line x1="406.66" y1="225.40" x2="406.66" y2="229.40" stroke="#222" stroke-width="0.8"/>
<path d="M405.46,225.80L406.66,223.80L407.86,225.80Z" fill="#222"/>
<text x="406.66" y="238.00" font-size="6.7" text-anchor="middle" fill="#2a2a2a">2.TC</text>
<polyline points="388.79,208.19 391.49,203.30 394.18,197.87 396.87,192.45 399.56,187.02 402.26,181.59 404.95,175.62 406.17,171.82" fill="none" stroke="#d2475e" stroke-width="1.0"/>
<path d="M388.79,206.98V209.41M387.59,206.98H389.99M387.59,209.41H389.99" stroke="#d2475e" stroke-width="0.6" fill="none"/>
<path d="M391.49,201.78V204.82M390.29,201.78H392.69M390.29,204.82H392.69" stroke="#d2475e" stroke-width="0.6" fill="none"/>
<path d="M394.18,195.59V200.15M392.98,195.59H395.38M392.98,200.15H395.38" stroke="#d2475e" stroke-width="0.6" fill="none"/>
<path d="M396.87,189.41V195.49M395.67,189.41H398.07M395.67,195.49H398.07" stroke="#d2475e" stroke-width="0.6" fill="none"/>
<path d="M399.56,183.22V190.82M398.36,183.22H400.76M398.36,190.82H400.76" stroke="#d2475e" stroke-width="0.6" fill="none"/>
<path d="M402.26,177.03V186.15M401.06,177.03H403.46M401.06,186.15H403.46" stroke="#d2475e" stroke-width="0.6" fill="none"/>
<path d="M404.95,169.54V181.70M403.75,169.54H406.15M403.75,181.70H406.15" stroke="#d2475e" stroke-width="0.6" fill="none"/>
<path d="M406.17,162.09V179.42M404.97,162.09H407.37M404.97,179.42H407.37" stroke="#d2475e" stroke-width="0.6" fill="none"/>
<path d="M387.34,208.19L388.79,206.74L390.24,208.19L388.79,209.64Z" fill="#e89aa6" stroke="#d2475e" stroke-width="0.85"/>
<path d="M390.04,203.30L391.49,201.85L392.94,203.30L391.49,204.75Z" fill="#e89aa6" stroke="#d2475e" stroke-width="0.85"/>
<path d="M392.73,197.87L394.18,196.42L395.63,197.87L394.18,199.32Z" fill="#e89aa6" stroke="#d2475e" stroke-width="0.85"/>
<path d="M395.42,192.45L396.87,191.00L398.32,192.45L396.87,193.90Z" fill="#e89aa6" stroke="#d2475e" stroke-width="0.85"/>
<path d="M398.11,187.02L399.56,185.57L401.01,187.02L399.56,188.47Z" fill="#e89aa6" stroke="#d2475e" stroke-width="0.85"/>
<path d="M400.81,181.59L402.26,180.14L403.71,181.59L402.26,183.04Z" fill="#e89aa6" stroke="#d2475e" stroke-width="0.85"/>
<path d="M403.50,175.62L404.95,174.17L406.40,175.62L404.95,177.07Z" fill="#e89aa6" stroke="#d2475e" stroke-width="0.85"/>
<path d="M404.72,171.82L406.17,170.37L407.62,171.82L406.17,173.27Z" fill="#e89aa6" stroke="#d2475e" stroke-width="0.85"/>
<polyline points="390.51,208.66 393.20,205.47 395.89,201.06 398.58,195.74 401.28,191.34 403.73,187.08 406.17,182.52 408.38,172.94" fill="none" stroke="#55ad55" stroke-width="1.0"/>
<path d="M390.51,207.75V209.58M389.31,207.75H391.71M389.31,209.58H391.71" stroke="#55ad55" stroke-width="0.6" fill="none"/>
<path d="M393.20,203.95V206.99M392.00,203.95H394.40M392.00,206.99H394.40" stroke="#55ad55" stroke-width="0.6" fill="none"/>
<path d="M395.89,198.78V203.34M394.69,198.78H397.09M394.69,203.34H397.09" stroke="#55ad55" stroke-width="0.6" fill="none"/>
<path d="M398.58,192.70V198.78M397.38,192.70H399.78M397.38,198.78H399.78" stroke="#55ad55" stroke-width="0.6" fill="none"/>
<path d="M401.28,188.30V194.38M400.08,188.30H402.48M400.08,194.38H402.48" stroke="#55ad55" stroke-width="0.6" fill="none"/>
<path d="M403.73,183.28V190.88M402.53,183.28H404.93M402.53,190.88H404.93" stroke="#55ad55" stroke-width="0.6" fill="none"/>
<path d="M406.17,177.96V187.08M404.97,177.96H407.37M404.97,187.08H407.37" stroke="#55ad55" stroke-width="0.6" fill="none"/>
<path d="M408.38,167.62V178.26M407.18,167.62H409.58M407.18,178.26H409.58" stroke="#55ad55" stroke-width="0.6" fill="none"/>
<path d="M389.06,209.82L390.51,207.21L391.96,209.82Z" fill="#a8d8a8" stroke="#55ad55" stroke-width="0.85"/>
<path d="M391.75,206.63L393.20,204.02L394.65,206.63Z" fill="#a8d8a8" stroke="#55ad55" stroke-width="0.85"/>
<path d="M394.44,202.22L395.89,199.61L397.34,202.22Z" fill="#a8d8a8" stroke="#55ad55" stroke-width="0.85"/>
<path d="M397.13,196.90L398.58,194.29L400.03,196.90Z" fill="#a8d8a8" stroke="#55ad55" stroke-width="0.85"/>
<path d="M399.83,192.50L401.28,189.89L402.73,192.50Z" fill="#a8d8a8" stroke="#55ad55" stroke-width="0.85"/>
<path d="M402.28,188.24L403.73,185.63L405.18,188.24Z" fill="#a8d8a8" stroke="#55ad55" stroke-width="0.85"/>
<path d="M404.72,183.68L406.17,181.07L407.62,183.68Z" fill="#a8d8a8" stroke="#55ad55" stroke-width="0.85"/>
<path d="M406.93,174.10L408.38,171.49L409.83,174.10Z" fill="#a8d8a8" stroke="#55ad55" stroke-width="0.85"/>
<polyline points="388.55,209.12 393.44,211.10 398.34,211.10 403.24,211.10 408.13,211.10 413.03,211.10 417.92,211.10 422.82,211.10 427.72,211.10 432.61,211.10 437.51,211.10 442.40,211.10 446.81,210.67 458.81,204.58 460.76,200.50 462.97,196.44 464.93,192.38 466.88,189.00" fill="none" stroke="#3f72a8" stroke-width="1.0"/>
<path d="M388.55,208.51V209.73M387.35,208.51H389.75M387.35,209.73H389.75" stroke="#3f72a8" stroke-width="0.6" fill="none"/>
<path d="M446.81,210.37V210.97M445.61,210.37H448.01M445.61,210.97H448.01" stroke="#3f72a8" stroke-width="0.6" fill="none"/>
<path d="M458.81,201.54V207.62M457.61,201.54H460.01M457.61,207.62H460.01" stroke="#3f72a8" stroke-width="0.6" fill="none"/>
<path d="M460.76,195.94V205.06M459.56,195.94H461.96M459.56,205.06H461.96" stroke="#3f72a8" stroke-width="0.6" fill="none"/>
<path d="M462.97,190.36V202.52M461.77,190.36H464.17M461.77,202.52H464.17" stroke="#3f72a8" stroke-width="0.6" fill="none"/>
<path d="M464.93,184.78V199.98M463.73,184.78H466.13M463.73,199.98H466.13" stroke="#3f72a8" stroke-width="0.6" fill="none"/>
<path d="M466.88,177.60V196.60M465.68,177.60H468.08M465.68,196.60H468.08" stroke="#3f72a8" stroke-width="0.6" fill="none"/>
<circle cx="388.55" cy="209.12" r="1.38" fill="#9dbbd9" stroke="#3f72a8" stroke-width="0.85"/>
<rect x="392.54" y="210.20" width="1.8" height="1.6" fill="#2f5f92" opacity="0.55"/>
<rect x="397.44" y="210.20" width="1.8" height="1.6" fill="#2f5f92" opacity="0.55"/>
<rect x="402.34" y="210.20" width="1.8" height="1.6" fill="#2f5f92" opacity="0.55"/>
<rect x="407.23" y="210.20" width="1.8" height="1.6" fill="#2f5f92" opacity="0.55"/>
<rect x="412.13" y="210.20" width="1.8" height="1.6" fill="#2f5f92" opacity="0.55"/>
<rect x="417.02" y="210.20" width="1.8" height="1.6" fill="#2f5f92" opacity="0.55"/>
<rect x="421.92" y="210.20" width="1.8" height="1.6" fill="#2f5f92" opacity="0.55"/>
<rect x="426.82" y="210.20" width="1.8" height="1.6" fill="#2f5f92" opacity="0.55"/>
<rect x="431.71" y="210.20" width="1.8" height="1.6" fill="#2f5f92" opacity="0.55"/>
<rect x="436.61" y="210.20" width="1.8" height="1.6" fill="#2f5f92" opacity="0.55"/>
<rect x="441.50" y="210.20" width="1.8" height="1.6" fill="#2f5f92" opacity="0.55"/>
<circle cx="446.81" cy="210.67" r="1.38" fill="#9dbbd9" stroke="#3f72a8" stroke-width="0.85"/>
<circle cx="458.81" cy="204.58" r="1.38" fill="#9dbbd9" stroke="#3f72a8" stroke-width="0.85"/>
<circle cx="460.76" cy="200.50" r="1.38" fill="#9dbbd9" stroke="#3f72a8" stroke-width="0.85"/>
<circle cx="462.97" cy="196.44" r="1.38" fill="#9dbbd9" stroke="#3f72a8" stroke-width="0.85"/>
<circle cx="464.93" cy="192.38" r="1.38" fill="#9dbbd9" stroke="#3f72a8" stroke-width="0.85"/>
<circle cx="466.88" cy="189.00" r="1.38" fill="#9dbbd9" stroke="#3f72a8" stroke-width="0.85"/>
<polyline points="388.55,209.12 391.00,211.10 393.44,211.10 395.89,211.10 398.34,211.10 400.79,211.10 403.24,211.10 405.68,211.10 408.13,211.10 410.58,211.10 413.03,211.10 415.48,211.10 417.92,211.10 420.37,211.10 422.82,211.10 425.27,211.10 427.72,211.10 430.16,211.10 432.61,211.10 435.06,211.10 437.51,211.10 439.96,211.10 442.40,211.10 444.85,211.10 447.30,211.10 449.75,211.10 452.20,211.10 454.64,211.10 457.09,211.10 459.54,211.10 461.99,211.10 464.44,211.10 466.88,211.10 469.33,211.10 471.78,211.10 474.23,211.10 476.68,211.10 479.12,211.10 489.16,199.15 498.71,184.04 501.16,181.61" fill="none" stroke="#f0a535" stroke-width="1.0"/>
<path d="M388.55,208.21V210.03M387.35,208.21H389.75M387.35,210.03H389.75" stroke="#f0a535" stroke-width="0.6" fill="none"/>
<path d="M489.16,190.33V207.36M487.96,190.33H490.36M487.96,207.36H490.36" stroke="#f0a535" stroke-width="0.6" fill="none"/>
<path d="M498.71,167.32V200.76M497.51,167.32H499.91M497.51,200.76H499.91" stroke="#f0a535" stroke-width="0.6" fill="none"/>
<path d="M501.16,163.98V200.61M499.96,163.98H502.36M499.96,200.61H502.36" stroke="#f0a535" stroke-width="0.6" fill="none"/>
<path d="M387.10,209.12L388.55,207.96L390.00,209.12L388.55,210.28Z" fill="#f7d49a" stroke="#f0a535" stroke-width="0.85"/>
<rect x="390.10" y="210.20" width="1.8" height="1.6" fill="#d09030" opacity="0.55"/>
<rect x="392.54" y="210.20" width="1.8" height="1.6" fill="#d09030" opacity="0.55"/>
<rect x="394.99" y="210.20" width="1.8" height="1.6" fill="#d09030" opacity="0.55"/>
<rect x="397.44" y="210.20" width="1.8" height="1.6" fill="#d09030" opacity="0.55"/>
<rect x="399.89" y="210.20" width="1.8" height="1.6" fill="#d09030" opacity="0.55"/>
<rect x="402.34" y="210.20" width="1.8" height="1.6" fill="#d09030" opacity="0.55"/>
<rect x="404.78" y="210.20" width="1.8" height="1.6" fill="#d09030" opacity="0.55"/>
<rect x="407.23" y="210.20" width="1.8" height="1.6" fill="#d09030" opacity="0.55"/>
<rect x="409.68" y="210.20" width="1.8" height="1.6" fill="#d09030" opacity="0.55"/>
<rect x="412.13" y="210.20" width="1.8" height="1.6" fill="#d09030" opacity="0.55"/>
<rect x="414.58" y="210.20" width="1.8" height="1.6" fill="#d09030" opacity="0.55"/>
<rect x="417.02" y="210.20" width="1.8" height="1.6" fill="#d09030" opacity="0.55"/>
<rect x="419.47" y="210.20" width="1.8" height="1.6" fill="#d09030" opacity="0.55"/>
<rect x="421.92" y="210.20" width="1.8" height="1.6" fill="#d09030" opacity="0.55"/>
<rect x="424.37" y="210.20" width="1.8" height="1.6" fill="#d09030" opacity="0.55"/>
<rect x="426.82" y="210.20" width="1.8" height="1.6" fill="#d09030" opacity="0.55"/>
<rect x="429.26" y="210.20" width="1.8" height="1.6" fill="#d09030" opacity="0.55"/>
<rect x="431.71" y="210.20" width="1.8" height="1.6" fill="#d09030" opacity="0.55"/>
<rect x="434.16" y="210.20" width="1.8" height="1.6" fill="#d09030" opacity="0.55"/>
<rect x="436.61" y="210.20" width="1.8" height="1.6" fill="#d09030" opacity="0.55"/>
<rect x="439.06" y="210.20" width="1.8" height="1.6" fill="#d09030" opacity="0.55"/>
<rect x="441.50" y="210.20" width="1.8" height="1.6" fill="#d09030" opacity="0.55"/>
<rect x="443.95" y="210.20" width="1.8" height="1.6" fill="#d09030" opacity="0.55"/>
<rect x="446.40" y="210.20" width="1.8" height="1.6" fill="#d09030" opacity="0.55"/>
<rect x="448.85" y="210.20" width="1.8" height="1.6" fill="#d09030" opacity="0.55"/>
<rect x="451.30" y="210.20" width="1.8" height="1.6" fill="#d09030" opacity="0.55"/>
<rect x="453.74" y="210.20" width="1.8" height="1.6" fill="#d09030" opacity="0.55"/>
<rect x="456.19" y="210.20" width="1.8" height="1.6" fill="#d09030" opacity="0.55"/>
<rect x="458.64" y="210.20" width="1.8" height="1.6" fill="#d09030" opacity="0.55"/>
<rect x="461.09" y="210.20" width="1.8" height="1.6" fill="#d09030" opacity="0.55"/>
<rect x="463.54" y="210.20" width="1.8" height="1.6" fill="#d09030" opacity="0.55"/>
<rect x="465.98" y="210.20" width="1.8" height="1.6" fill="#d09030" opacity="0.55"/>
<rect x="468.43" y="210.20" width="1.8" height="1.6" fill="#d09030" opacity="0.55"/>
<rect x="470.88" y="210.20" width="1.8" height="1.6" fill="#d09030" opacity="0.55"/>
<rect x="473.33" y="210.20" width="1.8" height="1.6" fill="#d09030" opacity="0.55"/>
<rect x="475.78" y="210.20" width="1.8" height="1.6" fill="#d09030" opacity="0.55"/>
<rect x="478.22" y="210.20" width="1.8" height="1.6" fill="#d09030" opacity="0.55"/>
<path d="M487.71,199.15L489.16,197.99L490.61,199.15L489.16,200.31Z" fill="#f7d49a" stroke="#f0a535" stroke-width="0.85"/>
<path d="M497.26,184.04L498.71,182.88L500.16,184.04L498.71,185.20Z" fill="#f7d49a" stroke="#f0a535" stroke-width="0.85"/>
<path d="M499.71,181.61L501.16,180.45L502.61,181.61L501.16,182.77Z" fill="#f7d49a" stroke="#f0a535" stroke-width="0.85"/>
<line x1="433.20" y1="148.70" x2="439.40" y2="148.70" stroke="#d2475e" stroke-width="1.1"/>
<path d="M434.80,148.70L436.30,147.20L437.80,148.70L436.30,150.20Z" fill="#b85a72" stroke="#a8405a" stroke-width="1.0"/>
<text x="442.60" y="150.90" font-size="6.9" fill="#1e1e1e" stroke="#1e1e1e" stroke-width="0.1">CTRL</text>
<line x1="433.20" y1="155.95" x2="439.40" y2="155.95" stroke="#3f72a8" stroke-width="1.1"/>
<circle cx="436.30" cy="155.95" r="1.42" fill="#4a78a8" stroke="#2f5f92" stroke-width="1.0"/>
<text x="442.60" y="158.15" font-size="6.9" fill="#1e1e1e" stroke="#1e1e1e" stroke-width="0.1">VEN</text>
<line x1="433.20" y1="163.20" x2="439.40" y2="163.20" stroke="#55ad55" stroke-width="1.1"/>
<path d="M434.80,164.40L436.30,161.70L437.80,164.40Z" fill="#5a9e5a" stroke="#3f8f3f" stroke-width="1.0"/>
<text x="442.60" y="165.40" font-size="6.9" fill="#1e1e1e" stroke="#1e1e1e" stroke-width="0.1">A1155463</text>
<line x1="433.20" y1="170.45" x2="439.40" y2="170.45" stroke="#f0a535" stroke-width="1.1"/>
<path d="M434.80,170.45L436.30,169.25L437.80,170.45L436.30,171.65Z" fill="#dcb060" stroke="#d09030" stroke-width="1.0"/>
<text x="442.60" y="172.65" font-size="6.9" fill="#1e1e1e" stroke="#1e1e1e" stroke-width="0.1">VEN + A1155463</text>
<text x="122.20" y="254.90" font-size="8.4" text-anchor="middle" fill="#1a1a1a" stroke="#1a1a1a" stroke-width="0.1">VFN-D1</text>
<line x1="59.50" y1="260.86" x2="59.50" y2="327.00" stroke="#1a1a1a" stroke-width="1.3"/>
<line x1="56.00" y1="324.00" x2="59.50" y2="324.00" stroke="#1a1a1a" stroke-width="1"/>
<text x="53.50" y="326.40" font-size="7.0" text-anchor="end" fill="#2a2a2a" stroke="#2a2a2a" stroke-width="0.1">0</text>
<line x1="56.00" y1="308.84" x2="59.50" y2="308.84" stroke="#1a1a1a" stroke-width="1"/>
<text x="53.50" y="311.24" font-size="7.0" text-anchor="end" fill="#2a2a2a" stroke="#2a2a2a" stroke-width="0.1">1000</text>
<line x1="56.00" y1="293.68" x2="59.50" y2="293.68" stroke="#1a1a1a" stroke-width="1"/>
<text x="53.50" y="296.08" font-size="7.0" text-anchor="end" fill="#2a2a2a" stroke="#2a2a2a" stroke-width="0.1">2000</text>
<line x1="56.00" y1="278.52" x2="59.50" y2="278.52" stroke="#1a1a1a" stroke-width="1"/>
<text x="53.50" y="280.92" font-size="7.0" text-anchor="end" fill="#2a2a2a" stroke="#2a2a2a" stroke-width="0.1">3000</text>
<line x1="56.00" y1="263.36" x2="59.50" y2="263.36" stroke="#1a1a1a" stroke-width="1"/>
<text x="53.50" y="265.76" font-size="7.0" text-anchor="end" fill="#2a2a2a" stroke="#2a2a2a" stroke-width="0.1">4000</text>
<line x1="58.90" y1="324.00" x2="185.00" y2="324.00" stroke="#1a1a1a" stroke-width="1.3"/>
<line x1="59.50" y1="324.00" x2="59.50" y2="327.20" stroke="#1a1a1a" stroke-width="1"/>
<text x="59.50" y="336.60" font-size="7.0" text-anchor="middle" fill="#2a2a2a" stroke="#2a2a2a" stroke-width="0.1">0</text>
<line x1="90.25" y1="324.00" x2="90.25" y2="327.20" stroke="#1a1a1a" stroke-width="1"/>
<text x="90.25" y="336.60" font-size="7.0" text-anchor="middle" fill="#2a2a2a" stroke="#2a2a2a" stroke-width="0.1">5</text>
<line x1="121.00" y1="324.00" x2="121.00" y2="327.20" stroke="#1a1a1a" stroke-width="1"/>
<text x="121.00" y="336.60" font-size="7.0" text-anchor="middle" fill="#2a2a2a" stroke="#2a2a2a" stroke-width="0.1">10</text>
<line x1="151.75" y1="324.00" x2="151.75" y2="327.20" stroke="#1a1a1a" stroke-width="1"/>
<text x="151.75" y="336.60" font-size="7.0" text-anchor="middle" fill="#2a2a2a" stroke="#2a2a2a" stroke-width="0.1">15</text>
<line x1="182.50" y1="324.00" x2="182.50" y2="327.20" stroke="#1a1a1a" stroke-width="1"/>
<text x="182.50" y="336.60" font-size="7.0" text-anchor="middle" fill="#2a2a2a" stroke="#2a2a2a" stroke-width="0.1">20</text>
<line x1="65.65" y1="338.00" x2="65.65" y2="342.00" stroke="#222" stroke-width="0.8"/>
<path d="M64.45,338.40L65.65,336.40L66.85,338.40Z" fill="#222"/>
<text x="65.65" y="350.60" font-size="6.7" text-anchor="middle" fill="#2a2a2a">1.TC</text>
<line x1="108.70" y1="338.00" x2="108.70" y2="342.00" stroke="#222" stroke-width="0.8"/>
<path d="M107.50,338.40L108.70,336.40L109.90,338.40Z" fill="#222"/>
<text x="108.70" y="350.60" font-size="6.7" text-anchor="middle" fill="#2a2a2a">2.TC</text>
<polyline points="65.65,320.88 71.80,319.80 77.95,317.78 84.10,315.93 96.40,312.55 102.55,309.80 108.70,305.96 114.85,303.32 121.00,297.77 127.15,296.21 133.30,294.67" fill="none" stroke="#d2475e" stroke-width="1.0"/>
<path d="M65.65,320.27V321.48M64.45,320.27H66.85M64.45,321.48H66.85" stroke="#d2475e" stroke-width="0.6" fill="none"/>
<path d="M71.80,318.89V320.71M70.60,318.89H73.00M70.60,320.71H73.00" stroke="#d2475e" stroke-width="0.6" fill="none"/>
<path d="M77.95,316.57V319.00M76.75,316.57H79.15M76.75,319.00H79.15" stroke="#d2475e" stroke-width="0.6" fill="none"/>
<path d="M84.10,314.42V317.45M82.90,314.42H85.30M82.90,317.45H85.30" stroke="#d2475e" stroke-width="0.6" fill="none"/>
<path d="M96.40,310.74V314.37M95.20,310.74H97.60M95.20,314.37H97.60" stroke="#d2475e" stroke-width="0.6" fill="none"/>
<path d="M102.55,307.52V312.07M101.35,307.52H103.75M101.35,312.07H103.75" stroke="#d2475e" stroke-width="0.6" fill="none"/>
<path d="M108.70,303.69V308.23M107.50,303.69H109.90M107.50,308.23H109.90" stroke="#d2475e" stroke-width="0.6" fill="none"/>
<path d="M114.85,300.29V306.35M113.65,300.29H116.05M113.65,306.35H116.05" stroke="#d2475e" stroke-width="0.6" fill="none"/>
<path d="M121.00,294.74V300.81M119.80,294.74H122.20M119.80,300.81H122.20" stroke="#d2475e" stroke-width="0.6" fill="none"/>
<path d="M127.15,293.18V299.24M125.95,293.18H128.35M125.95,299.24H128.35" stroke="#d2475e" stroke-width="0.6" fill="none"/>
<path d="M133.30,291.63V297.70M132.10,291.63H134.50M132.10,297.70H134.50" stroke="#d2475e" stroke-width="0.6" fill="none"/>
<path d="M64.20,320.88L65.65,319.43L67.10,320.88L65.65,322.33Z" fill="#e89aa6" stroke="#d2475e" stroke-width="0.85"/>
<path d="M70.35,319.80L71.80,318.35L73.25,319.80L71.80,321.25Z" fill="#e89aa6" stroke="#d2475e" stroke-width="0.85"/>
<path d="M76.50,317.78L77.95,316.33L79.40,317.78L77.95,319.23Z" fill="#e89aa6" stroke="#d2475e" stroke-width="0.85"/>
<path d="M82.65,315.93L84.10,314.48L85.55,315.93L84.10,317.38Z" fill="#e89aa6" stroke="#d2475e" stroke-width="0.85"/>
<path d="M94.95,312.55L96.40,311.10L97.85,312.55L96.40,314.00Z" fill="#e89aa6" stroke="#d2475e" stroke-width="0.85"/>
<path d="M101.10,309.80L102.55,308.35L104.00,309.80L102.55,311.25Z" fill="#e89aa6" stroke="#d2475e" stroke-width="0.85"/>
<path d="M107.25,305.96L108.70,304.51L110.15,305.96L108.70,307.41Z" fill="#e89aa6" stroke="#d2475e" stroke-width="0.85"/>
<path d="M113.40,303.32L114.85,301.87L116.30,303.32L114.85,304.77Z" fill="#e89aa6" stroke="#d2475e" stroke-width="0.85"/>
<path d="M119.55,297.77L121.00,296.32L122.45,297.77L121.00,299.22Z" fill="#e89aa6" stroke="#d2475e" stroke-width="0.85"/>
<path d="M125.70,296.21L127.15,294.76L128.60,296.21L127.15,297.66Z" fill="#e89aa6" stroke="#d2475e" stroke-width="0.85"/>
<path d="M131.85,294.67L133.30,293.22L134.75,294.67L133.30,296.12Z" fill="#e89aa6" stroke="#d2475e" stroke-width="0.85"/>
<polyline points="65.65,321.35 71.80,320.88 77.95,319.80 84.10,318.25 96.40,314.45 102.55,312.11 108.70,309.02 114.85,303.62 121.00,301.31 127.15,300.50 133.30,295.61" fill="none" stroke="#55ad55" stroke-width="1.0"/>
<path d="M65.65,320.74V321.95M64.45,320.74H66.85M64.45,321.95H66.85" stroke="#55ad55" stroke-width="0.6" fill="none"/>
<path d="M71.80,320.12V321.64M70.60,320.12H73.00M70.60,321.64H73.00" stroke="#55ad55" stroke-width="0.6" fill="none"/>
<path d="M77.95,318.89V320.71M76.75,318.89H79.15M76.75,320.71H79.15" stroke="#55ad55" stroke-width="0.6" fill="none"/>
<path d="M84.10,317.04V319.47M82.90,317.04H85.30M82.90,319.47H85.30" stroke="#55ad55" stroke-width="0.6" fill="none"/>
<path d="M96.40,312.93V315.97M95.20,312.93H97.60M95.20,315.97H97.60" stroke="#55ad55" stroke-width="0.6" fill="none"/>
<path d="M102.55,309.84V314.39M101.35,309.84H103.75M101.35,314.39H103.75" stroke="#55ad55" stroke-width="0.6" fill="none"/>
<path d="M108.70,306.75V311.30M107.50,306.75H109.90M107.50,311.30H109.90" stroke="#55ad55" stroke-width="0.6" fill="none"/>
<path d="M114.85,300.59V306.66M113.65,300.59H116.05M113.65,306.66H116.05" stroke="#55ad55" stroke-width="0.6" fill="none"/>
<path d="M121.00,298.27V304.34M119.80,298.27H122.20M119.80,304.34H122.20" stroke="#55ad55" stroke-width="0.6" fill="none"/>
<path d="M127.15,296.71V304.29M125.95,296.71H128.35M125.95,304.29H128.35" stroke="#55ad55" stroke-width="0.6" fill="none"/>
<path d="M133.30,291.82V299.40M132.10,291.82H134.50M132.10,299.40H134.50" stroke="#55ad55" stroke-width="0.6" fill="none"/>
<path d="M64.20,322.51L65.65,319.90L67.10,322.51Z" fill="#a8d8a8" stroke="#55ad55" stroke-width="0.85"/>
<path d="M70.35,322.04L71.80,319.43L73.25,322.04Z" fill="#a8d8a8" stroke="#55ad55" stroke-width="0.85"/>
<path d="M76.50,320.96L77.95,318.35L79.40,320.96Z" fill="#a8d8a8" stroke="#55ad55" stroke-width="0.85"/>
<path d="M82.65,319.41L84.10,316.80L85.55,319.41Z" fill="#a8d8a8" stroke="#55ad55" stroke-width="0.85"/>
<path d="M94.95,315.61L96.40,313.00L97.85,315.61Z" fill="#a8d8a8" stroke="#55ad55" stroke-width="0.85"/>
<path d="M101.10,313.27L102.55,310.66L104.00,313.27Z" fill="#a8d8a8" stroke="#55ad55" stroke-width="0.85"/>
<path d="M107.25,310.18L108.70,307.57L110.15,310.18Z" fill="#a8d8a8" stroke="#55ad55" stroke-width="0.85"/>
<path d="M113.40,304.78L114.85,302.17L116.30,304.78Z" fill="#a8d8a8" stroke="#55ad55" stroke-width="0.85"/>
<path d="M119.55,302.47L121.00,299.86L122.45,302.47Z" fill="#a8d8a8" stroke="#55ad55" stroke-width="0.85"/>
<path d="M125.70,301.66L127.15,299.05L128.60,301.66Z" fill="#a8d8a8" stroke="#55ad55" stroke-width="0.85"/>
<path d="M131.85,296.77L133.30,294.16L134.75,296.77Z" fill="#a8d8a8" stroke="#55ad55" stroke-width="0.85"/>
<polyline points="65.65,321.80 71.80,321.42 77.95,319.80 84.10,318.25 96.40,318.25 102.55,315.97 108.70,310.54 114.85,307.48 121.00,307.48 127.15,305.17 133.30,301.31" fill="none" stroke="#3f72a8" stroke-width="1.0"/>
<path d="M65.65,321.20V322.41M64.45,321.20H66.85M64.45,322.41H66.85" stroke="#3f72a8" stroke-width="0.6" fill="none"/>
<path d="M71.80,320.66V322.18M70.60,320.66H73.00M70.60,322.18H73.00" stroke="#3f72a8" stroke-width="0.6" fill="none"/>
<path d="M77.95,318.89V320.71M76.75,318.89H79.15M76.75,320.71H79.15" stroke="#3f72a8" stroke-width="0.6" fill="none"/>
<path d="M84.10,317.04V319.47M82.90,317.04H85.30M82.90,319.47H85.30" stroke="#3f72a8" stroke-width="0.6" fill="none"/>
<path d="M96.40,316.74V319.77M95.20,316.74H97.60M95.20,319.77H97.60" stroke="#3f72a8" stroke-width="0.6" fill="none"/>
<path d="M102.55,314.45V317.48M101.35,314.45H103.75M101.35,317.48H103.75" stroke="#3f72a8" stroke-width="0.6" fill="none"/>
<path d="M108.70,308.26V312.81M107.50,308.26H109.90M107.50,312.81H109.90" stroke="#3f72a8" stroke-width="0.6" fill="none"/>
<path d="M114.85,305.20V309.75M113.65,305.20H116.05M113.65,309.75H116.05" stroke="#3f72a8" stroke-width="0.6" fill="none"/>
<path d="M121.00,305.20V309.75M119.80,305.20H122.20M119.80,309.75H122.20" stroke="#3f72a8" stroke-width="0.6" fill="none"/>
<path d="M127.15,302.14V308.20M125.95,302.14H128.35M125.95,308.20H128.35" stroke="#3f72a8" stroke-width="0.6" fill="none"/>
<path d="M133.30,297.52V305.10M132.10,297.52H134.50M132.10,305.10H134.50" stroke="#3f72a8" stroke-width="0.6" fill="none"/>
<circle cx="65.65" cy="321.80" r="1.38" fill="#9dbbd9" stroke="#3f72a8" stroke-width="0.85"/>
<circle cx="71.80" cy="321.42" r="1.38" fill="#9dbbd9" stroke="#3f72a8" stroke-width="0.85"/>
<circle cx="77.95" cy="319.80" r="1.38" fill="#9dbbd9" stroke="#3f72a8" stroke-width="0.85"/>
<circle cx="84.10" cy="318.25" r="1.38" fill="#9dbbd9" stroke="#3f72a8" stroke-width="0.85"/>
<circle cx="96.40" cy="318.25" r="1.38" fill="#9dbbd9" stroke="#3f72a8" stroke-width="0.85"/>
<circle cx="102.55" cy="315.97" r="1.38" fill="#9dbbd9" stroke="#3f72a8" stroke-width="0.85"/>
<circle cx="108.70" cy="310.54" r="1.38" fill="#9dbbd9" stroke="#3f72a8" stroke-width="0.85"/>
<circle cx="114.85" cy="307.48" r="1.38" fill="#9dbbd9" stroke="#3f72a8" stroke-width="0.85"/>
<circle cx="121.00" cy="307.48" r="1.38" fill="#9dbbd9" stroke="#3f72a8" stroke-width="0.85"/>
<circle cx="127.15" cy="305.17" r="1.38" fill="#9dbbd9" stroke="#3f72a8" stroke-width="0.85"/>
<circle cx="133.30" cy="301.31" r="1.38" fill="#9dbbd9" stroke="#3f72a8" stroke-width="0.85"/>
<polyline points="65.65,321.27 71.80,323.70 77.95,323.70 84.10,323.70 90.25,323.70 96.40,323.70 102.55,323.70 108.70,323.70 114.85,323.70 121.00,323.24 133.30,322.48 151.75,318.69 170.20,305.81 182.50,297.47" fill="none" stroke="#f0a535" stroke-width="1.0"/>
<path d="M65.65,320.51V322.03M64.45,320.51H66.85M64.45,322.03H66.85" stroke="#f0a535" stroke-width="0.6" fill="none"/>
<path d="M121.00,322.79V323.70M119.80,322.79H122.20M119.80,323.70H122.20" stroke="#f0a535" stroke-width="0.6" fill="none"/>
<path d="M133.30,321.73V323.24M132.10,321.73H134.50M132.10,323.24H134.50" stroke="#f0a535" stroke-width="0.6" fill="none"/>
<path d="M151.75,317.18V320.21M150.55,317.18H152.95M150.55,320.21H152.95" stroke="#f0a535" stroke-width="0.6" fill="none"/>
<path d="M170.20,302.78V308.84M169.00,302.78H171.40M169.00,308.84H171.40" stroke="#f0a535" stroke-width="0.6" fill="none"/>
<path d="M182.50,293.68V301.26M181.30,293.68H183.70M181.30,301.26H183.70" stroke="#f0a535" stroke-width="0.6" fill="none"/>
<path d="M64.20,321.27L65.65,320.11L67.10,321.27L65.65,322.43Z" fill="#f7d49a" stroke="#f0a535" stroke-width="0.85"/>
<rect x="70.90" y="322.80" width="1.8" height="1.6" fill="#d09030" opacity="0.55"/>
<rect x="77.05" y="322.80" width="1.8" height="1.6" fill="#d09030" opacity="0.55"/>
<rect x="83.20" y="322.80" width="1.8" height="1.6" fill="#d09030" opacity="0.55"/>
<rect x="89.35" y="322.80" width="1.8" height="1.6" fill="#d09030" opacity="0.55"/>
<rect x="95.50" y="322.80" width="1.8" height="1.6" fill="#d09030" opacity="0.55"/>
<rect x="101.65" y="322.80" width="1.8" height="1.6" fill="#d09030" opacity="0.55"/>
<rect x="107.80" y="322.80" width="1.8" height="1.6" fill="#d09030" opacity="0.55"/>
<rect x="113.95" y="322.80" width="1.8" height="1.6" fill="#d09030" opacity="0.55"/>
<path d="M119.55,323.24L121.00,322.08L122.45,323.24L121.00,324.40Z" fill="#f7d49a" stroke="#f0a535" stroke-width="0.85"/>
<path d="M131.85,322.48L133.30,321.32L134.75,322.48L133.30,323.64Z" fill="#f7d49a" stroke="#f0a535" stroke-width="0.85"/>
<path d="M150.30,318.69L151.75,317.53L153.20,318.69L151.75,319.85Z" fill="#f7d49a" stroke="#f0a535" stroke-width="0.85"/>
<path d="M168.75,305.81L170.20,304.65L171.65,305.81L170.20,306.97Z" fill="#f7d49a" stroke="#f0a535" stroke-width="0.85"/>
<path d="M181.05,297.47L182.50,296.31L183.95,297.47L182.50,298.63Z" fill="#f7d49a" stroke="#f0a535" stroke-width="0.85"/>
<line x1="63.90" y1="265.80" x2="70.10" y2="265.80" stroke="#d2475e" stroke-width="1.1"/>
<path d="M65.50,265.80L67.00,264.30L68.50,265.80L67.00,267.30Z" fill="#b85a72" stroke="#a8405a" stroke-width="1.0"/>
<text x="73.30" y="268.00" font-size="6.9" fill="#1e1e1e" stroke="#1e1e1e" stroke-width="0.1">CTRL</text>
<line x1="63.90" y1="273.00" x2="70.10" y2="273.00" stroke="#3f72a8" stroke-width="1.1"/>
<circle cx="67.00" cy="273.00" r="1.42" fill="#4a78a8" stroke="#2f5f92" stroke-width="1.0"/>
<text x="73.30" y="275.20" font-size="6.9" fill="#1e1e1e" stroke="#1e1e1e" stroke-width="0.1">VEN</text>
<line x1="63.90" y1="280.20" x2="70.10" y2="280.20" stroke="#55ad55" stroke-width="1.1"/>
<path d="M65.50,281.40L67.00,278.70L68.50,281.40Z" fill="#5a9e5a" stroke="#3f8f3f" stroke-width="1.0"/>
<text x="73.30" y="282.40" font-size="6.9" fill="#1e1e1e" stroke="#1e1e1e" stroke-width="0.1">A1155463</text>
<line x1="63.90" y1="287.40" x2="70.10" y2="287.40" stroke="#f0a535" stroke-width="1.1"/>
<path d="M65.50,287.40L67.00,286.20L68.50,287.40L67.00,288.60Z" fill="#dcb060" stroke="#d09030" stroke-width="1.0"/>
<text x="73.30" y="289.60" font-size="6.9" fill="#1e1e1e" stroke="#1e1e1e" stroke-width="0.1">VEN + A1155463</text>
<text x="286.00" y="254.70" font-size="8.4" text-anchor="middle" fill="#1a1a1a" stroke="#1a1a1a" stroke-width="0.1">VFN-D9</text>
<line x1="223.20" y1="260.86" x2="223.20" y2="327.00" stroke="#1a1a1a" stroke-width="1.3"/>
<line x1="219.70" y1="324.00" x2="223.20" y2="324.00" stroke="#1a1a1a" stroke-width="1"/>
<text x="217.20" y="326.40" font-size="7.0" text-anchor="end" fill="#2a2a2a" stroke="#2a2a2a" stroke-width="0.1">0</text>
<line x1="219.70" y1="308.84" x2="223.20" y2="308.84" stroke="#1a1a1a" stroke-width="1"/>
<text x="217.20" y="311.24" font-size="7.0" text-anchor="end" fill="#2a2a2a" stroke="#2a2a2a" stroke-width="0.1">1000</text>
<line x1="219.70" y1="293.68" x2="223.20" y2="293.68" stroke="#1a1a1a" stroke-width="1"/>
<text x="217.20" y="296.08" font-size="7.0" text-anchor="end" fill="#2a2a2a" stroke="#2a2a2a" stroke-width="0.1">2000</text>
<line x1="219.70" y1="278.52" x2="223.20" y2="278.52" stroke="#1a1a1a" stroke-width="1"/>
<text x="217.20" y="280.92" font-size="7.0" text-anchor="end" fill="#2a2a2a" stroke="#2a2a2a" stroke-width="0.1">3000</text>
<line x1="219.70" y1="263.36" x2="223.20" y2="263.36" stroke="#1a1a1a" stroke-width="1"/>
<text x="217.20" y="265.76" font-size="7.0" text-anchor="end" fill="#2a2a2a" stroke="#2a2a2a" stroke-width="0.1">4000</text>
<line x1="222.60" y1="324.00" x2="347.85" y2="324.00" stroke="#1a1a1a" stroke-width="1.3"/>
<line x1="223.20" y1="324.00" x2="223.20" y2="327.20" stroke="#1a1a1a" stroke-width="1"/>
<text x="223.20" y="336.60" font-size="7.0" text-anchor="middle" fill="#2a2a2a" stroke="#2a2a2a" stroke-width="0.1">0</text>
<line x1="240.65" y1="324.00" x2="240.65" y2="327.20" stroke="#1a1a1a" stroke-width="1"/>
<text x="240.65" y="336.60" font-size="7.0" text-anchor="middle" fill="#2a2a2a" stroke="#2a2a2a" stroke-width="0.1">5</text>
<line x1="258.10" y1="324.00" x2="258.10" y2="327.20" stroke="#1a1a1a" stroke-width="1"/>
<text x="258.10" y="336.60" font-size="7.0" text-anchor="middle" fill="#2a2a2a" stroke="#2a2a2a" stroke-width="0.1">10</text>
<line x1="275.55" y1="324.00" x2="275.55" y2="327.20" stroke="#1a1a1a" stroke-width="1"/>
<text x="275.55" y="336.60" font-size="7.0" text-anchor="middle" fill="#2a2a2a" stroke="#2a2a2a" stroke-width="0.1">15</text>
<line x1="293.00" y1="324.00" x2="293.00" y2="327.20" stroke="#1a1a1a" stroke-width="1"/>
<text x="293.00" y="336.60" font-size="7.0" text-anchor="middle" fill="#2a2a2a" stroke="#2a2a2a" stroke-width="0.1">20</text>
<line x1="310.45" y1="324.00" x2="310.45" y2="327.20" stroke="#1a1a1a" stroke-width="1"/>
<text x="310.45" y="336.60" font-size="7.0" text-anchor="middle" fill="#2a2a2a" stroke="#2a2a2a" stroke-width="0.1">25</text>
<line x1="327.90" y1="324.00" x2="327.90" y2="327.20" stroke="#1a1a1a" stroke-width="1"/>
<text x="327.90" y="336.60" font-size="7.0" text-anchor="middle" fill="#2a2a2a" stroke="#2a2a2a" stroke-width="0.1">30</text>
<line x1="345.35" y1="324.00" x2="345.35" y2="327.20" stroke="#1a1a1a" stroke-width="1"/>
<text x="345.35" y="336.60" font-size="7.0" text-anchor="middle" fill="#2a2a2a" stroke="#2a2a2a" stroke-width="0.1">35</text>
<line x1="226.69" y1="338.00" x2="226.69" y2="342.00" stroke="#222" stroke-width="0.8"/>
<path d="M225.49,338.40L226.69,336.40L227.89,338.40Z" fill="#222"/>
<text x="226.69" y="350.60" font-size="6.7" text-anchor="middle" fill="#2a2a2a">1.TC</text>
<line x1="251.12" y1="338.00" x2="251.12" y2="342.00" stroke="#222" stroke-width="0.8"/>
<path d="M249.92,338.40L251.12,336.40L252.32,338.40Z" fill="#222"/>
<text x="251.12" y="350.60" font-size="6.7" text-anchor="middle" fill="#2a2a2a">2.TC</text>
<polyline points="226.69,320.45 233.67,319.60 244.14,318.21 247.63,317.00 251.12,316.12 254.61,316.12 258.10,317.00 268.57,314.75 272.06,314.06 275.55,311.80 279.04,310.92 282.53,310.05 299.98,310.36 303.47,304.29 306.96,302.47" fill="none" stroke="#d2475e" stroke-width="1.0"/>
<path d="M226.69,319.69V321.21M225.49,319.69H227.89M225.49,321.21H227.89" stroke="#d2475e" stroke-width="0.6" fill="none"/>
<path d="M233.67,318.69V320.51M232.47,318.69H234.87M232.47,320.51H234.87" stroke="#d2475e" stroke-width="0.6" fill="none"/>
<path d="M244.14,316.69V319.72M242.94,316.69H245.34M242.94,319.72H245.34" stroke="#d2475e" stroke-width="0.6" fill="none"/>
<path d="M247.63,315.48V318.51M246.43,315.48H248.83M246.43,318.51H248.83" stroke="#d2475e" stroke-width="0.6" fill="none"/>
<path d="M251.12,314.30V317.94M249.92,314.30H252.32M249.92,317.94H252.32" stroke="#d2475e" stroke-width="0.6" fill="none"/>
<path d="M254.61,314.30V317.94M253.41,314.30H255.81M253.41,317.94H255.81" stroke="#d2475e" stroke-width="0.6" fill="none"/>
<path d="M258.10,315.48V318.51M256.90,315.48H259.30M256.90,318.51H259.30" stroke="#d2475e" stroke-width="0.6" fill="none"/>
<path d="M268.57,312.93V316.57M267.37,312.93H269.77M267.37,316.57H269.77" stroke="#d2475e" stroke-width="0.6" fill="none"/>
<path d="M272.06,311.78V316.33M270.86,311.78H273.26M270.86,316.33H273.26" stroke="#d2475e" stroke-width="0.6" fill="none"/>
<path d="M275.55,308.76V314.83M274.35,308.76H276.75M274.35,314.83H276.75" stroke="#d2475e" stroke-width="0.6" fill="none"/>
<path d="M279.04,307.88V313.95M277.84,307.88H280.24M277.84,313.95H280.24" stroke="#d2475e" stroke-width="0.6" fill="none"/>
<path d="M282.53,307.02V313.08M281.33,307.02H283.73M281.33,313.08H283.73" stroke="#d2475e" stroke-width="0.6" fill="none"/>
<path d="M299.98,307.32V313.39M298.78,307.32H301.18M298.78,313.39H301.18" stroke="#d2475e" stroke-width="0.6" fill="none"/>
<path d="M303.47,298.99V309.60M302.27,298.99H304.67M302.27,309.60H304.67" stroke="#d2475e" stroke-width="0.6" fill="none"/>
<path d="M306.96,297.17V307.78M305.76,297.17H308.16M305.76,307.78H308.16" stroke="#d2475e" stroke-width="0.6" fill="none"/>
<path d="M225.24,320.45L226.69,319.00L228.14,320.45L226.69,321.90Z" fill="#e89aa6" stroke="#d2475e" stroke-width="0.85"/>
<path d="M232.22,319.60L233.67,318.15L235.12,319.60L233.67,321.05Z" fill="#e89aa6" stroke="#d2475e" stroke-width="0.85"/>
<path d="M242.69,318.21L244.14,316.76L245.59,318.21L244.14,319.66Z" fill="#e89aa6" stroke="#d2475e" stroke-width="0.85"/>
<path d="M246.18,317.00L247.63,315.55L249.08,317.00L247.63,318.45Z" fill="#e89aa6" stroke="#d2475e" stroke-width="0.85"/>
<path d="M249.67,316.12L251.12,314.67L252.57,316.12L251.12,317.57Z" fill="#e89aa6" stroke="#d2475e" stroke-width="0.85"/>
<path d="M253.16,316.12L254.61,314.67L256.06,316.12L254.61,317.57Z" fill="#e89aa6" stroke="#d2475e" stroke-width="0.85"/>
<path d="M256.65,317.00L258.10,315.55L259.55,317.00L258.10,318.45Z" fill="#e89aa6" stroke="#d2475e" stroke-width="0.85"/>
<path d="M267.12,314.75L268.57,313.30L270.02,314.75L268.57,316.20Z" fill="#e89aa6" stroke="#d2475e" stroke-width="0.85"/>
<path d="M270.61,314.06L272.06,312.61L273.51,314.06L272.06,315.51Z" fill="#e89aa6" stroke="#d2475e" stroke-width="0.85"/>
<path d="M274.10,311.80L275.55,310.35L277.00,311.80L275.55,313.25Z" fill="#e89aa6" stroke="#d2475e" stroke-width="0.85"/>
<path d="M277.59,310.92L279.04,309.47L280.49,310.92L279.04,312.37Z" fill="#e89aa6" stroke="#d2475e" stroke-width="0.85"/>
<path d="M281.08,310.05L282.53,308.60L283.98,310.05L282.53,311.50Z" fill="#e89aa6" stroke="#d2475e" stroke-width="0.85"/>
<path d="M298.53,310.36L299.98,308.91L301.43,310.36L299.98,311.81Z" fill="#e89aa6" stroke="#d2475e" stroke-width="0.85"/>
<path d="M302.02,304.29L303.47,302.84L304.92,304.29L303.47,305.74Z" fill="#e89aa6" stroke="#d2475e" stroke-width="0.85"/>
<path d="M305.51,302.47L306.96,301.02L308.41,302.47L306.96,303.92Z" fill="#e89aa6" stroke="#d2475e" stroke-width="0.85"/>
<polyline points="226.69,320.97 244.14,319.24 247.63,318.69 251.12,318.21 254.61,318.69 258.10,319.60 268.57,316.12 272.06,315.81 275.55,315.27 279.04,314.40 282.53,313.69 299.98,310.58 303.47,307.48 306.96,306.57" fill="none" stroke="#55ad55" stroke-width="1.0"/>
<path d="M226.69,320.21V321.73M225.49,320.21H227.89M225.49,321.73H227.89" stroke="#55ad55" stroke-width="0.6" fill="none"/>
<path d="M244.14,318.03V320.45M242.94,318.03H245.34M242.94,320.45H245.34" stroke="#55ad55" stroke-width="0.6" fill="none"/>
<path d="M247.63,317.48V319.91M246.43,317.48H248.83M246.43,319.91H248.83" stroke="#55ad55" stroke-width="0.6" fill="none"/>
<path d="M251.12,317.00V319.42M249.92,317.00H252.32M249.92,319.42H252.32" stroke="#55ad55" stroke-width="0.6" fill="none"/>
<path d="M254.61,317.48V319.91M253.41,317.48H255.81M253.41,319.91H255.81" stroke="#55ad55" stroke-width="0.6" fill="none"/>
<path d="M258.10,318.39V320.82M256.90,318.39H259.30M256.90,320.82H259.30" stroke="#55ad55" stroke-width="0.6" fill="none"/>
<path d="M268.57,314.60V317.63M267.37,314.60H269.77M267.37,317.63H269.77" stroke="#55ad55" stroke-width="0.6" fill="none"/>
<path d="M272.06,314.30V317.33M270.86,314.30H273.26M270.86,317.33H273.26" stroke="#55ad55" stroke-width="0.6" fill="none"/>
<path d="M275.55,313.45V317.09M274.35,313.45H276.75M274.35,317.09H276.75" stroke="#55ad55" stroke-width="0.6" fill="none"/>
<path d="M279.04,312.58V316.22M277.84,312.58H280.24M277.84,316.22H280.24" stroke="#55ad55" stroke-width="0.6" fill="none"/>
<path d="M282.53,311.87V315.51M281.33,311.87H283.73M281.33,315.51H283.73" stroke="#55ad55" stroke-width="0.6" fill="none"/>
<path d="M299.98,308.31V312.86M298.78,308.31H301.18M298.78,312.86H301.18" stroke="#55ad55" stroke-width="0.6" fill="none"/>
<path d="M303.47,305.20V309.75M302.27,305.20H304.67M302.27,309.75H304.67" stroke="#55ad55" stroke-width="0.6" fill="none"/>
<path d="M306.96,304.29V308.84M305.76,304.29H308.16M305.76,308.84H308.16" stroke="#55ad55" stroke-width="0.6" fill="none"/>
<path d="M225.24,322.13L226.69,319.52L228.14,322.13Z" fill="#a8d8a8" stroke="#55ad55" stroke-width="0.85"/>
<path d="M242.69,320.40L244.14,317.79L245.59,320.40Z" fill="#a8d8a8" stroke="#55ad55" stroke-width="0.85"/>
<path d="M246.18,319.85L247.63,317.24L249.08,319.85Z" fill="#a8d8a8" stroke="#55ad55" stroke-width="0.85"/>
<path d="M249.67,319.37L251.12,316.76L252.57,319.37Z" fill="#a8d8a8" stroke="#55ad55" stroke-width="0.85"/>
<path d="M253.16,319.85L254.61,317.24L256.06,319.85Z" fill="#a8d8a8" stroke="#55ad55" stroke-width="0.85"/>
<path d="M256.65,320.76L258.10,318.15L259.55,320.76Z" fill="#a8d8a8" stroke="#55ad55" stroke-width="0.85"/>
<path d="M267.12,317.28L268.57,314.67L270.02,317.28Z" fill="#a8d8a8" stroke="#55ad55" stroke-width="0.85"/>
<path d="M270.61,316.97L272.06,314.36L273.51,316.97Z" fill="#a8d8a8" stroke="#55ad55" stroke-width="0.85"/>
<path d="M274.10,316.43L275.55,313.82L277.00,316.43Z" fill="#a8d8a8" stroke="#55ad55" stroke-width="0.85"/>
<path d="M277.59,315.56L279.04,312.95L280.49,315.56Z" fill="#a8d8a8" stroke="#55ad55" stroke-width="0.85"/>
<path d="M281.08,314.85L282.53,312.24L283.98,314.85Z" fill="#a8d8a8" stroke="#55ad55" stroke-width="0.85"/>
<path d="M298.53,311.74L299.98,309.13L301.43,311.74Z" fill="#a8d8a8" stroke="#55ad55" stroke-width="0.85"/>
<path d="M302.02,308.64L303.47,306.03L304.92,308.64Z" fill="#a8d8a8" stroke="#55ad55" stroke-width="0.85"/>
<path d="M305.51,307.73L306.96,305.12L308.41,307.73Z" fill="#a8d8a8" stroke="#55ad55" stroke-width="0.85"/>
<polyline points="226.69,321.33 244.14,320.45 254.61,319.60 268.57,316.42 272.06,317.03 275.55,316.42 282.53,316.12 299.98,312.66 303.47,310.92 306.96,310.05" fill="none" stroke="#3f72a8" stroke-width="1.0"/>
<path d="M226.69,320.57V322.09M225.49,320.57H227.89M225.49,322.09H227.89" stroke="#3f72a8" stroke-width="0.6" fill="none"/>
<path d="M244.14,319.69V321.21M242.94,319.69H245.34M242.94,321.21H245.34" stroke="#3f72a8" stroke-width="0.6" fill="none"/>
<path d="M254.61,318.69V320.51M253.41,318.69H255.81M253.41,320.51H255.81" stroke="#3f72a8" stroke-width="0.6" fill="none"/>
<path d="M268.57,314.90V317.94M267.37,314.90H269.77M267.37,317.94H269.77" stroke="#3f72a8" stroke-width="0.6" fill="none"/>
<path d="M272.06,315.51V318.54M270.86,315.51H273.26M270.86,318.54H273.26" stroke="#3f72a8" stroke-width="0.6" fill="none"/>
<path d="M275.55,314.90V317.94M274.35,314.90H276.75M274.35,317.94H276.75" stroke="#3f72a8" stroke-width="0.6" fill="none"/>
<path d="M282.53,314.60V317.63M281.33,314.60H283.73M281.33,317.63H283.73" stroke="#3f72a8" stroke-width="0.6" fill="none"/>
<path d="M299.98,310.39V314.93M298.78,310.39H301.18M298.78,314.93H301.18" stroke="#3f72a8" stroke-width="0.6" fill="none"/>
<path d="M303.47,308.64V313.19M302.27,308.64H304.67M302.27,313.19H304.67" stroke="#3f72a8" stroke-width="0.6" fill="none"/>
<path d="M306.96,307.78V312.33M305.76,307.78H308.16M305.76,312.33H308.16" stroke="#3f72a8" stroke-width="0.6" fill="none"/>
<circle cx="226.69" cy="321.33" r="1.38" fill="#9dbbd9" stroke="#3f72a8" stroke-width="0.85"/>
<circle cx="244.14" cy="320.45" r="1.38" fill="#9dbbd9" stroke="#3f72a8" stroke-width="0.85"/>
<circle cx="254.61" cy="319.60" r="1.38" fill="#9dbbd9" stroke="#3f72a8" stroke-width="0.85"/>
<circle cx="268.57" cy="316.42" r="1.38" fill="#9dbbd9" stroke="#3f72a8" stroke-width="0.85"/>
<circle cx="272.06" cy="317.03" r="1.38" fill="#9dbbd9" stroke="#3f72a8" stroke-width="0.85"/>
<circle cx="275.55" cy="316.42" r="1.38" fill="#9dbbd9" stroke="#3f72a8" stroke-width="0.85"/>
<circle cx="282.53" cy="316.12" r="1.38" fill="#9dbbd9" stroke="#3f72a8" stroke-width="0.85"/>
<circle cx="299.98" cy="312.66" r="1.38" fill="#9dbbd9" stroke="#3f72a8" stroke-width="0.85"/>
<circle cx="303.47" cy="310.92" r="1.38" fill="#9dbbd9" stroke="#3f72a8" stroke-width="0.85"/>
<circle cx="306.96" cy="310.05" r="1.38" fill="#9dbbd9" stroke="#3f72a8" stroke-width="0.85"/>
<polyline points="226.69,320.97 230.18,321.73 237.16,322.18 244.14,322.71 254.61,323.09 261.59,323.24 268.57,320.97 272.06,322.18 275.55,322.79 282.53,323.09 289.51,321.35 293.00,320.18 299.98,318.44 306.96,317.63 317.43,316.47 320.92,315.78 324.41,314.96 327.90,313.81 331.39,311.84 341.86,310.67 345.35,309.75" fill="none" stroke="#f0a535" stroke-width="1.0"/>
<path d="M226.69,320.21V321.73M225.49,320.21H227.89M225.49,321.73H227.89" stroke="#f0a535" stroke-width="0.6" fill="none"/>
<path d="M230.18,321.12V322.33M228.98,321.12H231.38M228.98,322.33H231.38" stroke="#f0a535" stroke-width="0.6" fill="none"/>
<path d="M237.16,321.57V322.79M235.96,321.57H238.36M235.96,322.79H238.36" stroke="#f0a535" stroke-width="0.6" fill="none"/>
<path d="M244.14,322.26V323.17M242.94,322.26H245.34M242.94,323.17H245.34" stroke="#f0a535" stroke-width="0.6" fill="none"/>
<path d="M254.61,322.64V323.55M253.41,322.64H255.81M253.41,323.55H255.81" stroke="#f0a535" stroke-width="0.6" fill="none"/>
<path d="M261.59,322.94V323.55M260.39,322.94H262.79M260.39,323.55H262.79" stroke="#f0a535" stroke-width="0.6" fill="none"/>
<path d="M268.57,320.06V321.88M267.37,320.06H269.77M267.37,321.88H269.77" stroke="#f0a535" stroke-width="0.6" fill="none"/>
<path d="M272.06,321.57V322.79M270.86,321.57H273.26M270.86,322.79H273.26" stroke="#f0a535" stroke-width="0.6" fill="none"/>
<path d="M275.55,322.33V323.24M274.35,322.33H276.75M274.35,323.24H276.75" stroke="#f0a535" stroke-width="0.6" fill="none"/>
<path d="M282.53,322.64V323.55M281.33,322.64H283.73M281.33,323.55H283.73" stroke="#f0a535" stroke-width="0.6" fill="none"/>
<path d="M289.51,320.74V321.95M288.31,320.74H290.71M288.31,321.95H290.71" stroke="#f0a535" stroke-width="0.6" fill="none"/>
<path d="M293.00,319.42V320.94M291.80,319.42H294.20M291.80,320.94H294.20" stroke="#f0a535" stroke-width="0.6" fill="none"/>
<path d="M299.98,317.53V319.35M298.78,317.53H301.18M298.78,319.35H301.18" stroke="#f0a535" stroke-width="0.6" fill="none"/>
<path d="M306.96,316.72V318.54M305.76,316.72H308.16M305.76,318.54H308.16" stroke="#f0a535" stroke-width="0.6" fill="none"/>
<path d="M317.43,315.25V317.68M316.23,315.25H318.63M316.23,317.68H318.63" stroke="#f0a535" stroke-width="0.6" fill="none"/>
<path d="M320.92,314.57V317.00M319.72,314.57H322.12M319.72,317.00H322.12" stroke="#f0a535" stroke-width="0.6" fill="none"/>
<path d="M324.41,313.45V316.48M323.21,313.45H325.61M323.21,316.48H325.61" stroke="#f0a535" stroke-width="0.6" fill="none"/>
<path d="M327.90,312.30V315.33M326.70,312.30H329.10M326.70,315.33H329.10" stroke="#f0a535" stroke-width="0.6" fill="none"/>
<path d="M331.39,310.33V313.36M330.19,310.33H332.59M330.19,313.36H332.59" stroke="#f0a535" stroke-width="0.6" fill="none"/>
<path d="M341.86,309.16V312.19M340.66,309.16H343.06M340.66,312.19H343.06" stroke="#f0a535" stroke-width="0.6" fill="none"/>
<path d="M345.35,308.23V311.27M344.15,308.23H346.55M344.15,311.27H346.55" stroke="#f0a535" stroke-width="0.6" fill="none"/>
<path d="M225.24,320.97L226.69,319.81L228.14,320.97L226.69,322.13Z" fill="#f7d49a" stroke="#f0a535" stroke-width="0.85"/>
<path d="M228.73,321.73L230.18,320.57L231.63,321.73L230.18,322.89Z" fill="#f7d49a" stroke="#f0a535" stroke-width="0.85"/>
<path d="M235.71,322.18L237.16,321.02L238.61,322.18L237.16,323.34Z" fill="#f7d49a" stroke="#f0a535" stroke-width="0.85"/>
<path d="M242.69,322.71L244.14,321.55L245.59,322.71L244.14,323.87Z" fill="#f7d49a" stroke="#f0a535" stroke-width="0.85"/>
<path d="M253.16,323.09L254.61,321.93L256.06,323.09L254.61,324.25Z" fill="#f7d49a" stroke="#f0a535" stroke-width="0.85"/>
<path d="M260.14,323.24L261.59,322.08L263.04,323.24L261.59,324.40Z" fill="#f7d49a" stroke="#f0a535" stroke-width="0.85"/>
<path d="M267.12,320.97L268.57,319.81L270.02,320.97L268.57,322.13Z" fill="#f7d49a" stroke="#f0a535" stroke-width="0.85"/>
<path d="M270.61,322.18L272.06,321.02L273.51,322.18L272.06,323.34Z" fill="#f7d49a" stroke="#f0a535" stroke-width="0.85"/>
<path d="M274.10,322.79L275.55,321.63L277.00,322.79L275.55,323.95Z" fill="#f7d49a" stroke="#f0a535" stroke-width="0.85"/>
<path d="M281.08,323.09L282.53,321.93L283.98,323.09L282.53,324.25Z" fill="#f7d49a" stroke="#f0a535" stroke-width="0.85"/>
<path d="M288.06,321.35L289.51,320.19L290.96,321.35L289.51,322.51Z" fill="#f7d49a" stroke="#f0a535" stroke-width="0.85"/>
<path d="M291.55,320.18L293.00,319.02L294.45,320.18L293.00,321.34Z" fill="#f7d49a" stroke="#f0a535" stroke-width="0.85"/>
<path d="M298.53,318.44L299.98,317.28L301.43,318.44L299.98,319.60Z" fill="#f7d49a" stroke="#f0a535" stroke-width="0.85"/>
<path d="M305.51,317.63L306.96,316.47L308.41,317.63L306.96,318.79Z" fill="#f7d49a" stroke="#f0a535" stroke-width="0.85"/>
<path d="M315.98,316.47L317.43,315.31L318.88,316.47L317.43,317.63Z" fill="#f7d49a" stroke="#f0a535" stroke-width="0.85"/>
<path d="M319.47,315.78L320.92,314.62L322.37,315.78L320.92,316.94Z" fill="#f7d49a" stroke="#f0a535" stroke-width="0.85"/>
<path d="M322.96,314.96L324.41,313.80L325.86,314.96L324.41,316.12Z" fill="#f7d49a" stroke="#f0a535" stroke-width="0.85"/>
<path d="M326.45,313.81L327.90,312.65L329.35,313.81L327.90,314.97Z" fill="#f7d49a" stroke="#f0a535" stroke-width="0.85"/>
<path d="M329.94,311.84L331.39,310.68L332.84,311.84L331.39,313.00Z" fill="#f7d49a" stroke="#f0a535" stroke-width="0.85"/>
<path d="M340.41,310.67L341.86,309.51L343.31,310.67L341.86,311.83Z" fill="#f7d49a" stroke="#f0a535" stroke-width="0.85"/>
<path d="M343.90,309.75L345.35,308.59L346.80,309.75L345.35,310.91Z" fill="#f7d49a" stroke="#f0a535" stroke-width="0.85"/>
<line x1="226.20" y1="265.30" x2="232.40" y2="265.30" stroke="#d2475e" stroke-width="1.1"/>
<path d="M227.80,265.30L229.30,263.80L230.80,265.30L229.30,266.80Z" fill="#b85a72" stroke="#a8405a" stroke-width="1.0"/>
<text x="235.60" y="267.50" font-size="6.9" fill="#1e1e1e" stroke="#1e1e1e" stroke-width="0.1">CTRL</text>
<line x1="226.20" y1="272.55" x2="232.40" y2="272.55" stroke="#3f72a8" stroke-width="1.1"/>
<circle cx="229.30" cy="272.55" r="1.42" fill="#4a78a8" stroke="#2f5f92" stroke-width="1.0"/>
<text x="235.60" y="274.75" font-size="6.9" fill="#1e1e1e" stroke="#1e1e1e" stroke-width="0.1">VEN</text>
<line x1="226.20" y1="279.80" x2="232.40" y2="279.80" stroke="#55ad55" stroke-width="1.1"/>
<path d="M227.80,281.00L229.30,278.30L230.80,281.00Z" fill="#5a9e5a" stroke="#3f8f3f" stroke-width="1.0"/>
<text x="235.60" y="282.00" font-size="6.9" fill="#1e1e1e" stroke="#1e1e1e" stroke-width="0.1">A1155463</text>
<line x1="226.20" y1="287.05" x2="232.40" y2="287.05" stroke="#f0a535" stroke-width="1.1"/>
<path d="M227.80,287.05L229.30,285.85L230.80,287.05L229.30,288.25Z" fill="#dcb060" stroke="#d09030" stroke-width="1.0"/>
<text x="235.60" y="289.25" font-size="6.9" fill="#1e1e1e" stroke="#1e1e1e" stroke-width="0.1">VEN + A1155463</text>
<text x="449.30" y="255.10" font-size="8.4" text-anchor="middle" fill="#1a1a1a" stroke="#1a1a1a" stroke-width="0.1">VFN-D20</text>
<line x1="386.00" y1="260.76" x2="386.00" y2="326.90" stroke="#1a1a1a" stroke-width="1.3"/>
<line x1="382.50" y1="323.90" x2="386.00" y2="323.90" stroke="#1a1a1a" stroke-width="1"/>
<text x="380.00" y="326.30" font-size="7.0" text-anchor="end" fill="#2a2a2a" stroke="#2a2a2a" stroke-width="0.1">0</text>
<line x1="382.50" y1="308.74" x2="386.00" y2="308.74" stroke="#1a1a1a" stroke-width="1"/>
<text x="380.00" y="311.14" font-size="7.0" text-anchor="end" fill="#2a2a2a" stroke="#2a2a2a" stroke-width="0.1">1000</text>
<line x1="382.50" y1="293.58" x2="386.00" y2="293.58" stroke="#1a1a1a" stroke-width="1"/>
<text x="380.00" y="295.98" font-size="7.0" text-anchor="end" fill="#2a2a2a" stroke="#2a2a2a" stroke-width="0.1">2000</text>
<line x1="382.50" y1="278.42" x2="386.00" y2="278.42" stroke="#1a1a1a" stroke-width="1"/>
<text x="380.00" y="280.82" font-size="7.0" text-anchor="end" fill="#2a2a2a" stroke="#2a2a2a" stroke-width="0.1">3000</text>
<line x1="382.50" y1="263.26" x2="386.00" y2="263.26" stroke="#1a1a1a" stroke-width="1"/>
<text x="380.00" y="265.66" font-size="7.0" text-anchor="end" fill="#2a2a2a" stroke="#2a2a2a" stroke-width="0.1">4000</text>
<line x1="385.40" y1="323.90" x2="511.30" y2="323.90" stroke="#1a1a1a" stroke-width="1.3"/>
<line x1="386.00" y1="323.90" x2="386.00" y2="327.10" stroke="#1a1a1a" stroke-width="1"/>
<text x="386.00" y="336.50" font-size="7.0" text-anchor="middle" fill="#2a2a2a" stroke="#2a2a2a" stroke-width="0.1">0</text>
<line x1="398.28" y1="323.90" x2="398.28" y2="327.10" stroke="#1a1a1a" stroke-width="1"/>
<text x="398.28" y="336.50" font-size="7.0" text-anchor="middle" fill="#2a2a2a" stroke="#2a2a2a" stroke-width="0.1">5</text>
<line x1="410.56" y1="323.90" x2="410.56" y2="327.10" stroke="#1a1a1a" stroke-width="1"/>
<text x="410.56" y="336.50" font-size="7.0" text-anchor="middle" fill="#2a2a2a" stroke="#2a2a2a" stroke-width="0.1">10</text>
<line x1="422.84" y1="323.90" x2="422.84" y2="327.10" stroke="#1a1a1a" stroke-width="1"/>
<text x="422.84" y="336.50" font-size="7.0" text-anchor="middle" fill="#2a2a2a" stroke="#2a2a2a" stroke-width="0.1">15</text>
<line x1="435.12" y1="323.90" x2="435.12" y2="327.10" stroke="#1a1a1a" stroke-width="1"/>
<text x="435.12" y="336.50" font-size="7.0" text-anchor="middle" fill="#2a2a2a" stroke="#2a2a2a" stroke-width="0.1">20</text>
<line x1="447.40" y1="323.90" x2="447.40" y2="327.10" stroke="#1a1a1a" stroke-width="1"/>
<text x="447.40" y="336.50" font-size="7.0" text-anchor="middle" fill="#2a2a2a" stroke="#2a2a2a" stroke-width="0.1">25</text>
<line x1="459.68" y1="323.90" x2="459.68" y2="327.10" stroke="#1a1a1a" stroke-width="1"/>
<text x="459.68" y="336.50" font-size="7.0" text-anchor="middle" fill="#2a2a2a" stroke="#2a2a2a" stroke-width="0.1">30</text>
<line x1="471.96" y1="323.90" x2="471.96" y2="327.10" stroke="#1a1a1a" stroke-width="1"/>
<text x="471.96" y="336.50" font-size="7.0" text-anchor="middle" fill="#2a2a2a" stroke="#2a2a2a" stroke-width="0.1">35</text>
<line x1="484.24" y1="323.90" x2="484.24" y2="327.10" stroke="#1a1a1a" stroke-width="1"/>
<text x="484.24" y="336.50" font-size="7.0" text-anchor="middle" fill="#2a2a2a" stroke="#2a2a2a" stroke-width="0.1">40</text>
<line x1="496.52" y1="323.90" x2="496.52" y2="327.10" stroke="#1a1a1a" stroke-width="1"/>
<text x="496.52" y="336.50" font-size="7.0" text-anchor="middle" fill="#2a2a2a" stroke="#2a2a2a" stroke-width="0.1">45</text>
<line x1="508.80" y1="323.90" x2="508.80" y2="327.10" stroke="#1a1a1a" stroke-width="1"/>
<text x="508.80" y="336.50" font-size="7.0" text-anchor="middle" fill="#2a2a2a" stroke="#2a2a2a" stroke-width="0.1">50</text>
<line x1="388.58" y1="337.90" x2="388.58" y2="341.90" stroke="#222" stroke-width="0.8"/>
<path d="M387.38,338.30L388.58,336.30L389.78,338.30Z" fill="#222"/>
<text x="388.58" y="350.50" font-size="6.7" text-anchor="middle" fill="#2a2a2a">1.TC</text>
<line x1="406.38" y1="337.90" x2="406.38" y2="341.90" stroke="#222" stroke-width="0.8"/>
<path d="M405.18,338.30L406.38,336.30L407.58,338.30Z" fill="#222"/>
<text x="406.38" y="350.50" font-size="6.7" text-anchor="middle" fill="#2a2a2a">2.TC</text>
<polyline points="387.23,321.02 390.91,321.97 397.54,319.08 402.46,316.17 405.16,313.29 408.10,311.32 413.02,309.42 417.93,304.65 422.59,298.89" fill="none" stroke="#d2475e" stroke-width="1.0"/>
<path d="M387.23,319.81V322.23M386.03,319.81H388.43M386.03,322.23H388.43" stroke="#d2475e" stroke-width="0.6" fill="none"/>
<path d="M390.91,321.07V322.88M389.71,321.07H392.11M389.71,322.88H392.11" stroke="#d2475e" stroke-width="0.6" fill="none"/>
<path d="M397.54,316.05V322.11M396.34,316.05H398.74M396.34,322.11H398.74" stroke="#d2475e" stroke-width="0.6" fill="none"/>
<path d="M402.46,311.62V320.72M401.26,311.62H403.66M401.26,320.72H403.66" stroke="#d2475e" stroke-width="0.6" fill="none"/>
<path d="M405.16,307.53V319.05M403.96,307.53H406.36M403.96,319.05H406.36" stroke="#d2475e" stroke-width="0.6" fill="none"/>
<path d="M408.10,304.65V318.14M406.90,304.65H409.30M406.90,318.14H409.30" stroke="#d2475e" stroke-width="0.6" fill="none"/>
<path d="M413.02,300.71V316.17M411.82,300.71H414.22M411.82,316.17H414.22" stroke="#d2475e" stroke-width="0.6" fill="none"/>
<path d="M417.93,294.94V315.26M416.73,294.94H419.13M416.73,315.26H419.13" stroke="#d2475e" stroke-width="0.6" fill="none"/>
<path d="M422.59,280.39V314.35M421.39,280.39H423.79M421.39,314.35H423.79" stroke="#d2475e" stroke-width="0.6" fill="none"/>
<path d="M385.78,321.02L387.23,319.57L388.68,321.02L387.23,322.47Z" fill="#e89aa6" stroke="#d2475e" stroke-width="0.85"/>
<path d="M389.46,321.97L390.91,320.52L392.36,321.97L390.91,323.42Z" fill="#e89aa6" stroke="#d2475e" stroke-width="0.85"/>
<path d="M396.09,319.08L397.54,317.63L398.99,319.08L397.54,320.53Z" fill="#e89aa6" stroke="#d2475e" stroke-width="0.85"/>
<path d="M401.01,316.17L402.46,314.72L403.91,316.17L402.46,317.62Z" fill="#e89aa6" stroke="#d2475e" stroke-width="0.85"/>
<path d="M403.71,313.29L405.16,311.84L406.61,313.29L405.16,314.74Z" fill="#e89aa6" stroke="#d2475e" stroke-width="0.85"/>
<path d="M406.65,311.32L408.10,309.87L409.55,311.32L408.10,312.77Z" fill="#e89aa6" stroke="#d2475e" stroke-width="0.85"/>
<path d="M411.57,309.42L413.02,307.97L414.47,309.42L413.02,310.87Z" fill="#e89aa6" stroke="#d2475e" stroke-width="0.85"/>
<path d="M416.48,304.65L417.93,303.20L419.38,304.65L417.93,306.10Z" fill="#e89aa6" stroke="#d2475e" stroke-width="0.85"/>
<path d="M421.14,298.89L422.59,297.44L424.04,298.89L422.59,300.34Z" fill="#e89aa6" stroke="#d2475e" stroke-width="0.85"/>
<polyline points="388.46,322.69 397.54,321.63 404.42,321.02 411.05,320.41 417.93,316.17 422.59,310.41 430.21,307.53 435.12,307.53 437.58,306.47 440.03,303.59" fill="none" stroke="#55ad55" stroke-width="1.0"/>
<path d="M388.46,322.08V323.29M387.26,322.08H389.66M387.26,323.29H389.66" stroke="#55ad55" stroke-width="0.6" fill="none"/>
<path d="M397.54,320.72V322.54M396.34,320.72H398.74M396.34,322.54H398.74" stroke="#55ad55" stroke-width="0.6" fill="none"/>
<path d="M404.42,319.81V322.23M403.22,319.81H405.62M403.22,322.23H405.62" stroke="#55ad55" stroke-width="0.6" fill="none"/>
<path d="M411.05,318.90V321.93M409.85,318.90H412.25M409.85,321.93H412.25" stroke="#55ad55" stroke-width="0.6" fill="none"/>
<path d="M417.93,311.62V320.72M416.73,311.62H419.13M416.73,320.72H419.13" stroke="#55ad55" stroke-width="0.6" fill="none"/>
<path d="M422.59,301.31V319.50M421.39,301.31H423.79M421.39,319.50H423.79" stroke="#55ad55" stroke-width="0.6" fill="none"/>
<path d="M430.21,294.94V321.02M429.01,294.94H431.41M429.01,321.02H431.41" stroke="#55ad55" stroke-width="0.6" fill="none"/>
<path d="M435.12,294.94V321.02M433.92,294.94H436.32M433.92,321.02H436.32" stroke="#55ad55" stroke-width="0.6" fill="none"/>
<path d="M437.58,295.85V317.08M436.38,295.85H438.78M436.38,317.08H438.78" stroke="#55ad55" stroke-width="0.6" fill="none"/>
<path d="M440.03,288.12V321.02M438.83,288.12H441.23M438.83,321.02H441.23" stroke="#55ad55" stroke-width="0.6" fill="none"/>
<path d="M387.01,323.85L388.46,321.24L389.91,323.85Z" fill="#a8d8a8" stroke="#55ad55" stroke-width="0.85"/>
<path d="M396.09,322.79L397.54,320.18L398.99,322.79Z" fill="#a8d8a8" stroke="#55ad55" stroke-width="0.85"/>
<path d="M402.97,322.18L404.42,319.57L405.87,322.18Z" fill="#a8d8a8" stroke="#55ad55" stroke-width="0.85"/>
<path d="M409.60,321.57L411.05,318.96L412.50,321.57Z" fill="#a8d8a8" stroke="#55ad55" stroke-width="0.85"/>
<path d="M416.48,317.33L417.93,314.72L419.38,317.33Z" fill="#a8d8a8" stroke="#55ad55" stroke-width="0.85"/>
<path d="M421.14,311.57L422.59,308.96L424.04,311.57Z" fill="#a8d8a8" stroke="#55ad55" stroke-width="0.85"/>
<path d="M428.76,308.69L430.21,306.08L431.66,308.69Z" fill="#a8d8a8" stroke="#55ad55" stroke-width="0.85"/>
<path d="M433.67,308.69L435.12,306.08L436.57,308.69Z" fill="#a8d8a8" stroke="#55ad55" stroke-width="0.85"/>
<path d="M436.13,307.63L437.58,305.02L439.03,307.63Z" fill="#a8d8a8" stroke="#55ad55" stroke-width="0.85"/>
<path d="M438.58,304.75L440.03,302.14L441.48,304.75Z" fill="#a8d8a8" stroke="#55ad55" stroke-width="0.85"/>
<polyline points="388.46,323.14 393.37,323.60 398.28,323.60 403.19,323.60 408.10,323.60 413.02,323.60 417.93,323.60 422.84,323.60 425.30,322.99 430.21,320.41 434.14,319.05 438.07,316.17 446.66,310.41 449.61,307.53 452.31,305.56 455.50,304.19 457.22,303.59" fill="none" stroke="#3f72a8" stroke-width="1.0"/>
<path d="M388.46,322.69V323.60M387.26,322.69H389.66M387.26,323.60H389.66" stroke="#3f72a8" stroke-width="0.6" fill="none"/>
<path d="M425.30,322.54V323.45M424.10,322.54H426.50M424.10,323.45H426.50" stroke="#3f72a8" stroke-width="0.6" fill="none"/>
<path d="M430.21,318.14V322.69M429.01,318.14H431.41M429.01,322.69H431.41" stroke="#3f72a8" stroke-width="0.6" fill="none"/>
<path d="M434.14,315.26V322.84M432.94,315.26H435.34M432.94,322.84H435.34" stroke="#3f72a8" stroke-width="0.6" fill="none"/>
<path d="M438.07,310.86V321.47M436.87,310.86H439.27M436.87,321.47H439.27" stroke="#3f72a8" stroke-width="0.6" fill="none"/>
<path d="M446.66,301.69V321.02M445.46,301.69H447.86M445.46,321.02H447.86" stroke="#3f72a8" stroke-width="0.6" fill="none"/>
<path d="M449.61,296.92V321.93M448.41,296.92H450.81M448.41,321.93H450.81" stroke="#3f72a8" stroke-width="0.6" fill="none"/>
<path d="M452.31,294.94V321.93M451.11,294.94H453.51M451.11,321.93H453.51" stroke="#3f72a8" stroke-width="0.6" fill="none"/>
<path d="M455.50,291.08V321.02M454.30,291.08H456.70M454.30,321.02H456.70" stroke="#3f72a8" stroke-width="0.6" fill="none"/>
<path d="M457.22,289.18V320.03M456.02,289.18H458.42M456.02,320.03H458.42" stroke="#3f72a8" stroke-width="0.6" fill="none"/>
<circle cx="388.46" cy="323.14" r="1.38" fill="#9dbbd9" stroke="#3f72a8" stroke-width="0.85"/>
<rect x="392.47" y="322.70" width="1.8" height="1.6" fill="#2f5f92" opacity="0.55"/>
<rect x="397.38" y="322.70" width="1.8" height="1.6" fill="#2f5f92" opacity="0.55"/>
<rect x="402.29" y="322.70" width="1.8" height="1.6" fill="#2f5f92" opacity="0.55"/>
<rect x="407.20" y="322.70" width="1.8" height="1.6" fill="#2f5f92" opacity="0.55"/>
<rect x="412.12" y="322.70" width="1.8" height="1.6" fill="#2f5f92" opacity="0.55"/>
<rect x="417.03" y="322.70" width="1.8" height="1.6" fill="#2f5f92" opacity="0.55"/>
<rect x="421.94" y="322.70" width="1.8" height="1.6" fill="#2f5f92" opacity="0.55"/>
<circle cx="425.30" cy="322.99" r="1.38" fill="#9dbbd9" stroke="#3f72a8" stroke-width="0.85"/>
<circle cx="430.21" cy="320.41" r="1.38" fill="#9dbbd9" stroke="#3f72a8" stroke-width="0.85"/>
<circle cx="434.14" cy="319.05" r="1.38" fill="#9dbbd9" stroke="#3f72a8" stroke-width="0.85"/>
<circle cx="438.07" cy="316.17" r="1.38" fill="#9dbbd9" stroke="#3f72a8" stroke-width="0.85"/>
<circle cx="446.66" cy="310.41" r="1.38" fill="#9dbbd9" stroke="#3f72a8" stroke-width="0.85"/>
<circle cx="449.61" cy="307.53" r="1.38" fill="#9dbbd9" stroke="#3f72a8" stroke-width="0.85"/>
<circle cx="452.31" cy="305.56" r="1.38" fill="#9dbbd9" stroke="#3f72a8" stroke-width="0.85"/>
<circle cx="455.50" cy="304.19" r="1.38" fill="#9dbbd9" stroke="#3f72a8" stroke-width="0.85"/>
<circle cx="457.22" cy="303.59" r="1.38" fill="#9dbbd9" stroke="#3f72a8" stroke-width="0.85"/>
<polyline points="388.46,323.14 393.37,323.60 398.28,323.60 403.19,323.60 408.10,323.60 413.02,323.60 417.93,323.60 422.84,323.60 427.75,323.60 432.66,323.60 437.58,323.60 442.49,323.60 447.40,323.60 452.31,323.60 457.22,323.60 462.14,323.60 467.05,323.60 471.96,323.60 476.87,323.60 481.78,323.60 486.70,323.60 491.61,323.60 496.52,323.60 501.43,322.38 506.34,320.87" fill="none" stroke="#f0a535" stroke-width="1.0"/>
<path d="M388.46,322.69V323.60M387.26,322.69H389.66M387.26,323.60H389.66" stroke="#f0a535" stroke-width="0.6" fill="none"/>
<path d="M501.43,321.17V323.60M500.23,321.17H502.63M500.23,323.60H502.63" stroke="#f0a535" stroke-width="0.6" fill="none"/>
<path d="M506.34,318.59V323.14M505.14,318.59H507.54M505.14,323.14H507.54" stroke="#f0a535" stroke-width="0.6" fill="none"/>
<path d="M387.01,323.14L388.46,321.98L389.91,323.14L388.46,324.30Z" fill="#f7d49a" stroke="#f0a535" stroke-width="0.85"/>
<rect x="392.47" y="322.70" width="1.8" height="1.6" fill="#d09030" opacity="0.55"/>
<rect x="397.38" y="322.70" width="1.8" height="1.6" fill="#d09030" opacity="0.55"/>
<rect x="402.29" y="322.70" width="1.8" height="1.6" fill="#d09030" opacity="0.55"/>
<rect x="407.20" y="322.70" width="1.8" height="1.6" fill="#d09030" opacity="0.55"/>
<rect x="412.12" y="322.70" width="1.8" height="1.6" fill="#d09030" opacity="0.55"/>
<rect x="417.03" y="322.70" width="1.8" height="1.6" fill="#d09030" opacity="0.55"/>
<rect x="421.94" y="322.70" width="1.8" height="1.6" fill="#d09030" opacity="0.55"/>
<rect x="426.85" y="322.70" width="1.8" height="1.6" fill="#d09030" opacity="0.55"/>
<rect x="431.76" y="322.70" width="1.8" height="1.6" fill="#d09030" opacity="0.55"/>
<rect x="436.68" y="322.70" width="1.8" height="1.6" fill="#d09030" opacity="0.55"/>
<rect x="441.59" y="322.70" width="1.8" height="1.6" fill="#d09030" opacity="0.55"/>
<rect x="446.50" y="322.70" width="1.8" height="1.6" fill="#d09030" opacity="0.55"/>
<rect x="451.41" y="322.70" width="1.8" height="1.6" fill="#d09030" opacity="0.55"/>
<rect x="456.32" y="322.70" width="1.8" height="1.6" fill="#d09030" opacity="0.55"/>
<rect x="461.24" y="322.70" width="1.8" height="1.6" fill="#d09030" opacity="0.55"/>
<rect x="466.15" y="322.70" width="1.8" height="1.6" fill="#d09030" opacity="0.55"/>
<rect x="471.06" y="322.70" width="1.8" height="1.6" fill="#d09030" opacity="0.55"/>
<rect x="475.97" y="322.70" width="1.8" height="1.6" fill="#d09030" opacity="0.55"/>
<rect x="480.88" y="322.70" width="1.8" height="1.6" fill="#d09030" opacity="0.55"/>
<rect x="485.80" y="322.70" width="1.8" height="1.6" fill="#d09030" opacity="0.55"/>
<rect x="490.71" y="322.70" width="1.8" height="1.6" fill="#d09030" opacity="0.55"/>
<rect x="495.62" y="322.70" width="1.8" height="1.6" fill="#d09030" opacity="0.55"/>
<path d="M499.98,322.38L501.43,321.22L502.88,322.38L501.43,323.54Z" fill="#f7d49a" stroke="#f0a535" stroke-width="0.85"/>
<path d="M504.89,320.87L506.34,319.71L507.79,320.87L506.34,322.03Z" fill="#f7d49a" stroke="#f0a535" stroke-width="0.85"/>
<line x1="447.70" y1="262.70" x2="453.90" y2="262.70" stroke="#d2475e" stroke-width="1.1"/>
<path d="M449.30,262.70L450.80,261.20L452.30,262.70L450.80,264.20Z" fill="#b85a72" stroke="#a8405a" stroke-width="1.0"/>
<text x="457.10" y="264.90" font-size="6.9" fill="#1e1e1e" stroke="#1e1e1e" stroke-width="0.1">CTRL</text>
<line x1="447.70" y1="269.65" x2="453.90" y2="269.65" stroke="#3f72a8" stroke-width="1.1"/>
<circle cx="450.80" cy="269.65" r="1.42" fill="#4a78a8" stroke="#2f5f92" stroke-width="1.0"/>
<text x="457.10" y="271.85" font-size="6.9" fill="#1e1e1e" stroke="#1e1e1e" stroke-width="0.1">VEN</text>
<line x1="447.70" y1="276.60" x2="453.90" y2="276.60" stroke="#55ad55" stroke-width="1.1"/>
<path d="M449.30,277.80L450.80,275.10L452.30,277.80Z" fill="#5a9e5a" stroke="#3f8f3f" stroke-width="1.0"/>
<text x="457.10" y="278.80" font-size="6.9" fill="#1e1e1e" stroke="#1e1e1e" stroke-width="0.1">A1155463</text>
<line x1="447.70" y1="283.55" x2="453.90" y2="283.55" stroke="#f0a535" stroke-width="1.1"/>
<path d="M449.30,283.55L450.80,282.35L452.30,283.55L450.80,284.75Z" fill="#dcb060" stroke="#d09030" stroke-width="1.0"/>
<text x="457.10" y="285.75" font-size="6.9" fill="#1e1e1e" stroke="#1e1e1e" stroke-width="0.1">VEN + A1155463</text>
<text x="122.10" y="378.60" font-size="8.4" text-anchor="middle" fill="#1a1a1a" stroke="#1a1a1a" stroke-width="0.1">VFN-M1 VEN-R</text>
<line x1="60.00" y1="384.32" x2="60.00" y2="450.90" stroke="#1a1a1a" stroke-width="1.3"/>
<line x1="56.50" y1="447.90" x2="60.00" y2="447.90" stroke="#1a1a1a" stroke-width="1"/>
<text x="54.00" y="450.30" font-size="7.0" text-anchor="end" fill="#2a2a2a" stroke="#2a2a2a" stroke-width="0.1">0</text>
<line x1="56.50" y1="432.63" x2="60.00" y2="432.63" stroke="#1a1a1a" stroke-width="1"/>
<text x="54.00" y="435.03" font-size="7.0" text-anchor="end" fill="#2a2a2a" stroke="#2a2a2a" stroke-width="0.1">1000</text>
<line x1="56.50" y1="417.36" x2="60.00" y2="417.36" stroke="#1a1a1a" stroke-width="1"/>
<text x="54.00" y="419.76" font-size="7.0" text-anchor="end" fill="#2a2a2a" stroke="#2a2a2a" stroke-width="0.1">2000</text>
<line x1="56.50" y1="402.09" x2="60.00" y2="402.09" stroke="#1a1a1a" stroke-width="1"/>
<text x="54.00" y="404.49" font-size="7.0" text-anchor="end" fill="#2a2a2a" stroke="#2a2a2a" stroke-width="0.1">3000</text>
<line x1="56.50" y1="386.82" x2="60.00" y2="386.82" stroke="#1a1a1a" stroke-width="1"/>
<text x="54.00" y="389.22" font-size="7.0" text-anchor="end" fill="#2a2a2a" stroke="#2a2a2a" stroke-width="0.1">4000</text>
<line x1="59.40" y1="447.90" x2="184.30" y2="447.90" stroke="#1a1a1a" stroke-width="1.3"/>
<line x1="60.00" y1="447.90" x2="60.00" y2="451.10" stroke="#1a1a1a" stroke-width="1"/>
<text x="60.00" y="460.50" font-size="7.0" text-anchor="middle" fill="#2a2a2a" stroke="#2a2a2a" stroke-width="0.1">0</text>
<line x1="80.30" y1="447.90" x2="80.30" y2="451.10" stroke="#1a1a1a" stroke-width="1"/>
<text x="80.30" y="460.50" font-size="7.0" text-anchor="middle" fill="#2a2a2a" stroke="#2a2a2a" stroke-width="0.1">5</text>
<line x1="100.60" y1="447.90" x2="100.60" y2="451.10" stroke="#1a1a1a" stroke-width="1"/>
<text x="100.60" y="460.50" font-size="7.0" text-anchor="middle" fill="#2a2a2a" stroke="#2a2a2a" stroke-width="0.1">10</text>
<line x1="120.90" y1="447.90" x2="120.90" y2="451.10" stroke="#1a1a1a" stroke-width="1"/>
<text x="120.90" y="460.50" font-size="7.0" text-anchor="middle" fill="#2a2a2a" stroke="#2a2a2a" stroke-width="0.1">15</text>
<line x1="141.20" y1="447.90" x2="141.20" y2="451.10" stroke="#1a1a1a" stroke-width="1"/>
<text x="141.20" y="460.50" font-size="7.0" text-anchor="middle" fill="#2a2a2a" stroke="#2a2a2a" stroke-width="0.1">20</text>
<line x1="161.50" y1="447.90" x2="161.50" y2="451.10" stroke="#1a1a1a" stroke-width="1"/>
<text x="161.50" y="460.50" font-size="7.0" text-anchor="middle" fill="#2a2a2a" stroke="#2a2a2a" stroke-width="0.1">25</text>
<line x1="181.80" y1="447.90" x2="181.80" y2="451.10" stroke="#1a1a1a" stroke-width="1"/>
<text x="181.80" y="460.50" font-size="7.0" text-anchor="middle" fill="#2a2a2a" stroke="#2a2a2a" stroke-width="0.1">30</text>
<line x1="64.06" y1="461.90" x2="64.06" y2="465.90" stroke="#222" stroke-width="0.8"/>
<path d="M62.86,462.30L64.06,460.30L65.26,462.30Z" fill="#222"/>
<text x="64.06" y="474.50" font-size="6.7" text-anchor="middle" fill="#2a2a2a">1.TC</text>
<line x1="92.48" y1="461.90" x2="92.48" y2="465.90" stroke="#222" stroke-width="0.8"/>
<path d="M91.28,462.30L92.48,460.30L93.68,462.30Z" fill="#222"/>
<text x="92.48" y="474.50" font-size="6.7" text-anchor="middle" fill="#2a2a2a">2.TC</text>
<polyline points="64.06,441.17 68.12,439.53 72.18,437.52 76.24,436.29 80.30,435.88 92.48,429.38" fill="none" stroke="#d2475e" stroke-width="1.0"/>
<path d="M64.06,439.64V442.69M62.86,439.64H65.26M62.86,442.69H65.26" stroke="#d2475e" stroke-width="0.6" fill="none"/>
<path d="M68.12,438.01V441.06M66.92,438.01H69.32M66.92,441.06H69.32" stroke="#d2475e" stroke-width="0.6" fill="none"/>
<path d="M72.18,435.99V439.04M70.98,435.99H73.38M70.98,439.04H73.38" stroke="#d2475e" stroke-width="0.6" fill="none"/>
<path d="M76.24,434.77V437.82M75.04,434.77H77.44M75.04,437.82H77.44" stroke="#d2475e" stroke-width="0.6" fill="none"/>
<path d="M80.30,434.36V437.41M79.10,434.36H81.50M79.10,437.41H81.50" stroke="#d2475e" stroke-width="0.6" fill="none"/>
<path d="M92.48,426.32V432.43M91.28,426.32H93.68M91.28,432.43H93.68" stroke="#d2475e" stroke-width="0.6" fill="none"/>
<path d="M62.61,441.17L64.06,439.72L65.51,441.17L64.06,442.62Z" fill="#e89aa6" stroke="#d2475e" stroke-width="0.85"/>
<path d="M66.67,439.53L68.12,438.08L69.57,439.53L68.12,440.98Z" fill="#e89aa6" stroke="#d2475e" stroke-width="0.85"/>
<path d="M70.73,437.52L72.18,436.07L73.63,437.52L72.18,438.97Z" fill="#e89aa6" stroke="#d2475e" stroke-width="0.85"/>
<path d="M74.79,436.29L76.24,434.84L77.69,436.29L76.24,437.74Z" fill="#e89aa6" stroke="#d2475e" stroke-width="0.85"/>
<path d="M78.85,435.88L80.30,434.43L81.75,435.88L80.30,437.33Z" fill="#e89aa6" stroke="#d2475e" stroke-width="0.85"/>
<path d="M91.03,429.38L92.48,427.93L93.93,429.38L92.48,430.83Z" fill="#e89aa6" stroke="#d2475e" stroke-width="0.85"/>
<polyline points="64.06,440.75 68.12,440.34 72.18,438.31 76.24,437.09 80.30,436.29 92.48,428.97" fill="none" stroke="#55ad55" stroke-width="1.0"/>
<path d="M64.06,439.23V442.28M62.86,439.23H65.26M62.86,442.28H65.26" stroke="#55ad55" stroke-width="0.6" fill="none"/>
<path d="M68.12,438.81V441.87M66.92,438.81H69.32M66.92,441.87H69.32" stroke="#55ad55" stroke-width="0.6" fill="none"/>
<path d="M72.18,436.78V439.84M70.98,436.78H73.38M70.98,439.84H73.38" stroke="#55ad55" stroke-width="0.6" fill="none"/>
<path d="M76.24,435.56V438.62M75.04,435.56H77.44M75.04,438.62H77.44" stroke="#55ad55" stroke-width="0.6" fill="none"/>
<path d="M80.30,434.77V437.82M79.10,434.77H81.50M79.10,437.82H81.50" stroke="#55ad55" stroke-width="0.6" fill="none"/>
<path d="M92.48,425.91V432.02M91.28,425.91H93.68M91.28,432.02H93.68" stroke="#55ad55" stroke-width="0.6" fill="none"/>
<path d="M62.61,441.91L64.06,439.30L65.51,441.91Z" fill="#a8d8a8" stroke="#55ad55" stroke-width="0.85"/>
<path d="M66.67,441.50L68.12,438.89L69.57,441.50Z" fill="#a8d8a8" stroke="#55ad55" stroke-width="0.85"/>
<path d="M70.73,439.47L72.18,436.86L73.63,439.47Z" fill="#a8d8a8" stroke="#55ad55" stroke-width="0.85"/>
<path d="M74.79,438.25L76.24,435.64L77.69,438.25Z" fill="#a8d8a8" stroke="#55ad55" stroke-width="0.85"/>
<path d="M78.85,437.45L80.30,434.84L81.75,437.45Z" fill="#a8d8a8" stroke="#55ad55" stroke-width="0.85"/>
<path d="M91.03,430.13L92.48,427.52L93.93,430.13Z" fill="#a8d8a8" stroke="#55ad55" stroke-width="0.85"/>
<polyline points="64.06,442.37 68.12,445.23 72.18,445.61 76.24,445.23 80.30,443.59 92.48,437.10 96.54,435.07" fill="none" stroke="#3f72a8" stroke-width="1.0"/>
<path d="M64.06,441.15V443.59M62.86,441.15H65.26M62.86,443.59H65.26" stroke="#3f72a8" stroke-width="0.6" fill="none"/>
<path d="M68.12,444.46V445.99M66.92,444.46H69.32M66.92,445.99H69.32" stroke="#3f72a8" stroke-width="0.6" fill="none"/>
<path d="M72.18,444.85V446.37M70.98,444.85H73.38M70.98,446.37H73.38" stroke="#3f72a8" stroke-width="0.6" fill="none"/>
<path d="M76.24,444.46V445.99M75.04,444.46H77.44M75.04,445.99H77.44" stroke="#3f72a8" stroke-width="0.6" fill="none"/>
<path d="M80.30,442.37V444.82M79.10,442.37H81.50M79.10,444.82H81.50" stroke="#3f72a8" stroke-width="0.6" fill="none"/>
<path d="M92.48,434.81V439.39M91.28,434.81H93.68M91.28,439.39H93.68" stroke="#3f72a8" stroke-width="0.6" fill="none"/>
<path d="M96.54,432.78V437.36M95.34,432.78H97.74M95.34,437.36H97.74" stroke="#3f72a8" stroke-width="0.6" fill="none"/>
<circle cx="64.06" cy="442.37" r="1.38" fill="#9dbbd9" stroke="#3f72a8" stroke-width="0.85"/>
<circle cx="68.12" cy="445.23" r="1.38" fill="#9dbbd9" stroke="#3f72a8" stroke-width="0.85"/>
<circle cx="72.18" cy="445.61" r="1.38" fill="#9dbbd9" stroke="#3f72a8" stroke-width="0.85"/>
<circle cx="76.24" cy="445.23" r="1.38" fill="#9dbbd9" stroke="#3f72a8" stroke-width="0.85"/>
<circle cx="80.30" cy="443.59" r="1.38" fill="#9dbbd9" stroke="#3f72a8" stroke-width="0.85"/>
<circle cx="92.48" cy="437.10" r="1.38" fill="#9dbbd9" stroke="#3f72a8" stroke-width="0.85"/>
<circle cx="96.54" cy="435.07" r="1.38" fill="#9dbbd9" stroke="#3f72a8" stroke-width="0.85"/>
<polyline points="64.06,441.94 68.12,446.37 72.18,447.59 76.24,447.59 80.30,447.59 84.36,447.59 88.42,447.59 92.48,447.59 96.54,447.59 100.60,447.59 104.66,447.59 108.72,447.59 112.78,447.59 116.84,447.59 120.90,447.59 124.96,447.59 129.02,447.59 133.08,447.59 137.14,447.59 141.20,447.59 145.26,447.59 149.32,446.68 157.44,443.32 161.50,441.79 165.56,441.79 177.74,435.68" fill="none" stroke="#f0a535" stroke-width="1.0"/>
<path d="M64.06,440.72V443.17M62.86,440.72H65.26M62.86,443.17H65.26" stroke="#f0a535" stroke-width="0.6" fill="none"/>
<path d="M68.12,445.76V446.98M66.92,445.76H69.32M66.92,446.98H69.32" stroke="#f0a535" stroke-width="0.6" fill="none"/>
<path d="M149.32,445.76V447.59M148.12,445.76H150.52M148.12,447.59H150.52" stroke="#f0a535" stroke-width="0.6" fill="none"/>
<path d="M157.44,441.79V444.85M156.24,441.79H158.64M156.24,444.85H158.64" stroke="#f0a535" stroke-width="0.6" fill="none"/>
<path d="M161.50,439.50V444.08M160.30,439.50H162.70M160.30,444.08H162.70" stroke="#f0a535" stroke-width="0.6" fill="none"/>
<path d="M165.56,439.50V444.08M164.36,439.50H166.76M164.36,444.08H166.76" stroke="#f0a535" stroke-width="0.6" fill="none"/>
<path d="M177.74,431.10V440.26M176.54,431.10H178.94M176.54,440.26H178.94" stroke="#f0a535" stroke-width="0.6" fill="none"/>
<path d="M62.61,441.94L64.06,440.78L65.51,441.94L64.06,443.10Z" fill="#f7d49a" stroke="#f0a535" stroke-width="0.85"/>
<path d="M66.67,446.37L68.12,445.21L69.57,446.37L68.12,447.53Z" fill="#f7d49a" stroke="#f0a535" stroke-width="0.85"/>
<rect x="71.28" y="446.69" width="1.8" height="1.6" fill="#d09030" opacity="0.55"/>
<rect x="75.34" y="446.69" width="1.8" height="1.6" fill="#d09030" opacity="0.55"/>
<rect x="79.40" y="446.69" width="1.8" height="1.6" fill="#d09030" opacity="0.55"/>
<rect x="83.46" y="446.69" width="1.8" height="1.6" fill="#d09030" opacity="0.55"/>
<rect x="87.52" y="446.69" width="1.8" height="1.6" fill="#d09030" opacity="0.55"/>
<rect x="91.58" y="446.69" width="1.8" height="1.6" fill="#d09030" opacity="0.55"/>
<rect x="95.64" y="446.69" width="1.8" height="1.6" fill="#d09030" opacity="0.55"/>
<rect x="99.70" y="446.69" width="1.8" height="1.6" fill="#d09030" opacity="0.55"/>
<rect x="103.76" y="446.69" width="1.8" height="1.6" fill="#d09030" opacity="0.55"/>
<rect x="107.82" y="446.69" width="1.8" height="1.6" fill="#d09030" opacity="0.55"/>
<rect x="111.88" y="446.69" width="1.8" height="1.6" fill="#d09030" opacity="0.55"/>
<rect x="115.94" y="446.69" width="1.8" height="1.6" fill="#d09030" opacity="0.55"/>
<rect x="120.00" y="446.69" width="1.8" height="1.6" fill="#d09030" opacity="0.55"/>
<rect x="124.06" y="446.69" width="1.8" height="1.6" fill="#d09030" opacity="0.55"/>
<rect x="128.12" y="446.69" width="1.8" height="1.6" fill="#d09030" opacity="0.55"/>
<rect x="132.18" y="446.69" width="1.8" height="1.6" fill="#d09030" opacity="0.55"/>
<rect x="136.24" y="446.69" width="1.8" height="1.6" fill="#d09030" opacity="0.55"/>
<rect x="140.30" y="446.69" width="1.8" height="1.6" fill="#d09030" opacity="0.55"/>
<rect x="144.36" y="446.69" width="1.8" height="1.6" fill="#d09030" opacity="0.55"/>
<path d="M147.87,446.68L149.32,445.52L150.77,446.68L149.32,447.84Z" fill="#f7d49a" stroke="#f0a535" stroke-width="0.85"/>
<path d="M155.99,443.32L157.44,442.16L158.89,443.32L157.44,444.48Z" fill="#f7d49a" stroke="#f0a535" stroke-width="0.85"/>
<path d="M160.05,441.79L161.50,440.63L162.95,441.79L161.50,442.95Z" fill="#f7d49a" stroke="#f0a535" stroke-width="0.85"/>
<path d="M164.11,441.79L165.56,440.63L167.01,441.79L165.56,442.95Z" fill="#f7d49a" stroke="#f0a535" stroke-width="0.85"/>
<path d="M176.29,435.68L177.74,434.52L179.19,435.68L177.74,436.84Z" fill="#f7d49a" stroke="#f0a535" stroke-width="0.85"/>
<line x1="63.90" y1="390.60" x2="70.10" y2="390.60" stroke="#d2475e" stroke-width="1.1"/>
<path d="M65.50,390.60L67.00,389.10L68.50,390.60L67.00,392.10Z" fill="#b85a72" stroke="#a8405a" stroke-width="1.0"/>
<text x="73.30" y="392.80" font-size="6.9" fill="#1e1e1e" stroke="#1e1e1e" stroke-width="0.1">CTRL</text>
<line x1="63.90" y1="397.85" x2="70.10" y2="397.85" stroke="#3f72a8" stroke-width="1.1"/>
<circle cx="67.00" cy="397.85" r="1.42" fill="#4a78a8" stroke="#2f5f92" stroke-width="1.0"/>
<text x="73.30" y="400.05" font-size="6.9" fill="#1e1e1e" stroke="#1e1e1e" stroke-width="0.1">VEN</text>
<line x1="63.90" y1="405.10" x2="70.10" y2="405.10" stroke="#55ad55" stroke-width="1.1"/>
<path d="M65.50,406.30L67.00,403.60L68.50,406.30Z" fill="#5a9e5a" stroke="#3f8f3f" stroke-width="1.0"/>
<text x="73.30" y="407.30" font-size="6.9" fill="#1e1e1e" stroke="#1e1e1e" stroke-width="0.1">A1155463</text>
<line x1="63.90" y1="412.35" x2="70.10" y2="412.35" stroke="#f0a535" stroke-width="1.1"/>
<path d="M65.50,412.35L67.00,411.15L68.50,412.35L67.00,413.55Z" fill="#dcb060" stroke="#d09030" stroke-width="1.0"/>
<text x="73.30" y="414.55" font-size="6.9" fill="#1e1e1e" stroke="#1e1e1e" stroke-width="0.1">VEN + A1155463</text>
<text x="285.80" y="378.60" font-size="8.4" text-anchor="middle" fill="#1a1a1a" stroke="#1a1a1a" stroke-width="0.1">VFN-ALL6 VEN-R</text>
<line x1="223.20" y1="384.32" x2="223.20" y2="450.90" stroke="#1a1a1a" stroke-width="1.3"/>
<line x1="219.70" y1="447.90" x2="223.20" y2="447.90" stroke="#1a1a1a" stroke-width="1"/>
<text x="217.20" y="450.30" font-size="7.0" text-anchor="end" fill="#2a2a2a" stroke="#2a2a2a" stroke-width="0.1">0</text>
<line x1="219.70" y1="432.63" x2="223.20" y2="432.63" stroke="#1a1a1a" stroke-width="1"/>
<text x="217.20" y="435.03" font-size="7.0" text-anchor="end" fill="#2a2a2a" stroke="#2a2a2a" stroke-width="0.1">1000</text>
<line x1="219.70" y1="417.36" x2="223.20" y2="417.36" stroke="#1a1a1a" stroke-width="1"/>
<text x="217.20" y="419.76" font-size="7.0" text-anchor="end" fill="#2a2a2a" stroke="#2a2a2a" stroke-width="0.1">2000</text>
<line x1="219.70" y1="402.09" x2="223.20" y2="402.09" stroke="#1a1a1a" stroke-width="1"/>
<text x="217.20" y="404.49" font-size="7.0" text-anchor="end" fill="#2a2a2a" stroke="#2a2a2a" stroke-width="0.1">3000</text>
<line x1="219.70" y1="386.82" x2="223.20" y2="386.82" stroke="#1a1a1a" stroke-width="1"/>
<text x="217.20" y="389.22" font-size="7.0" text-anchor="end" fill="#2a2a2a" stroke="#2a2a2a" stroke-width="0.1">4000</text>
<line x1="222.60" y1="447.90" x2="347.65" y2="447.90" stroke="#1a1a1a" stroke-width="1.3"/>
<line x1="223.20" y1="447.90" x2="223.20" y2="451.10" stroke="#1a1a1a" stroke-width="1"/>
<text x="223.20" y="460.50" font-size="7.0" text-anchor="middle" fill="#2a2a2a" stroke="#2a2a2a" stroke-width="0.1">0</text>
<line x1="263.85" y1="447.90" x2="263.85" y2="451.10" stroke="#1a1a1a" stroke-width="1"/>
<text x="263.85" y="460.50" font-size="7.0" text-anchor="middle" fill="#2a2a2a" stroke="#2a2a2a" stroke-width="0.1">5</text>
<line x1="304.50" y1="447.90" x2="304.50" y2="451.10" stroke="#1a1a1a" stroke-width="1"/>
<text x="304.50" y="460.50" font-size="7.0" text-anchor="middle" fill="#2a2a2a" stroke="#2a2a2a" stroke-width="0.1">10</text>
<line x1="345.15" y1="447.90" x2="345.15" y2="451.10" stroke="#1a1a1a" stroke-width="1"/>
<text x="345.15" y="460.50" font-size="7.0" text-anchor="middle" fill="#2a2a2a" stroke="#2a2a2a" stroke-width="0.1">15</text>
<line x1="231.33" y1="461.90" x2="231.33" y2="465.90" stroke="#222" stroke-width="0.8"/>
<path d="M230.13,462.30L231.33,460.30L232.53,462.30Z" fill="#222"/>
<text x="231.33" y="474.50" font-size="6.7" text-anchor="middle" fill="#2a2a2a">1.TC</text>
<line x1="288.24" y1="461.90" x2="288.24" y2="465.90" stroke="#222" stroke-width="0.8"/>
<path d="M287.04,462.30L288.24,460.30L289.44,462.30Z" fill="#222"/>
<text x="288.24" y="474.50" font-size="6.7" text-anchor="middle" fill="#2a2a2a">2.TC</text>
<polyline points="231.33,442.17 239.46,439.70 247.59,435.53 255.72,434.77 271.98,431.10 288.24,428.66 296.37,426.22 304.50,425.45" fill="none" stroke="#d2475e" stroke-width="1.0"/>
<path d="M231.33,441.41V442.94M230.13,441.41H232.53M230.13,442.94H232.53" stroke="#d2475e" stroke-width="0.6" fill="none"/>
<path d="M239.46,438.48V440.92M238.26,438.48H240.66M238.26,440.92H240.66" stroke="#d2475e" stroke-width="0.6" fill="none"/>
<path d="M247.59,434.00V437.06M246.39,434.00H248.79M246.39,437.06H248.79" stroke="#d2475e" stroke-width="0.6" fill="none"/>
<path d="M255.72,433.24V436.29M254.52,433.24H256.92M254.52,436.29H256.92" stroke="#d2475e" stroke-width="0.6" fill="none"/>
<path d="M271.98,428.81V433.39M270.78,428.81H273.18M270.78,433.39H273.18" stroke="#d2475e" stroke-width="0.6" fill="none"/>
<path d="M288.24,426.37V430.95M287.04,426.37H289.44M287.04,430.95H289.44" stroke="#d2475e" stroke-width="0.6" fill="none"/>
<path d="M296.37,423.93V428.51M295.17,423.93H297.57M295.17,428.51H297.57" stroke="#d2475e" stroke-width="0.6" fill="none"/>
<path d="M304.50,423.16V427.74M303.30,423.16H305.70M303.30,427.74H305.70" stroke="#d2475e" stroke-width="0.6" fill="none"/>
<path d="M229.88,442.17L231.33,440.72L232.78,442.17L231.33,443.62Z" fill="#e89aa6" stroke="#d2475e" stroke-width="0.85"/>
<path d="M238.01,439.70L239.46,438.25L240.91,439.70L239.46,441.15Z" fill="#e89aa6" stroke="#d2475e" stroke-width="0.85"/>
<path d="M246.14,435.53L247.59,434.08L249.04,435.53L247.59,436.98Z" fill="#e89aa6" stroke="#d2475e" stroke-width="0.85"/>
<path d="M254.27,434.77L255.72,433.32L257.17,434.77L255.72,436.22Z" fill="#e89aa6" stroke="#d2475e" stroke-width="0.85"/>
<path d="M270.53,431.10L271.98,429.65L273.43,431.10L271.98,432.55Z" fill="#e89aa6" stroke="#d2475e" stroke-width="0.85"/>
<path d="M286.79,428.66L288.24,427.21L289.69,428.66L288.24,430.11Z" fill="#e89aa6" stroke="#d2475e" stroke-width="0.85"/>
<path d="M294.92,426.22L296.37,424.77L297.82,426.22L296.37,427.67Z" fill="#e89aa6" stroke="#d2475e" stroke-width="0.85"/>
<path d="M303.05,425.45L304.50,424.00L305.95,425.45L304.50,426.90Z" fill="#e89aa6" stroke="#d2475e" stroke-width="0.85"/>
<polyline points="231.33,442.17 239.46,439.20 247.59,437.21 255.72,434.77 271.98,433.55 288.24,429.42 296.37,426.98 304.50,426.22" fill="none" stroke="#55ad55" stroke-width="1.0"/>
<path d="M231.33,441.41V442.94M230.13,441.41H232.53M230.13,442.94H232.53" stroke="#55ad55" stroke-width="0.6" fill="none"/>
<path d="M239.46,437.97V440.42M238.26,437.97H240.66M238.26,440.42H240.66" stroke="#55ad55" stroke-width="0.6" fill="none"/>
<path d="M247.59,435.68V438.74M246.39,435.68H248.79M246.39,438.74H248.79" stroke="#55ad55" stroke-width="0.6" fill="none"/>
<path d="M255.72,433.24V436.29M254.52,433.24H256.92M254.52,436.29H256.92" stroke="#55ad55" stroke-width="0.6" fill="none"/>
<path d="M271.98,431.26V435.84M270.78,431.26H273.18M270.78,435.84H273.18" stroke="#55ad55" stroke-width="0.6" fill="none"/>
<path d="M288.24,427.13V431.71M287.04,427.13H289.44M287.04,431.71H289.44" stroke="#55ad55" stroke-width="0.6" fill="none"/>
<path d="M296.37,424.69V429.27M295.17,424.69H297.57M295.17,429.27H297.57" stroke="#55ad55" stroke-width="0.6" fill="none"/>
<path d="M304.50,423.93V428.51M303.30,423.93H305.70M303.30,428.51H305.70" stroke="#55ad55" stroke-width="0.6" fill="none"/>
<path d="M229.88,443.33L231.33,440.72L232.78,443.33Z" fill="#a8d8a8" stroke="#55ad55" stroke-width="0.85"/>
<path d="M238.01,440.36L239.46,437.75L240.91,440.36Z" fill="#a8d8a8" stroke="#55ad55" stroke-width="0.85"/>
<path d="M246.14,438.37L247.59,435.76L249.04,438.37Z" fill="#a8d8a8" stroke="#55ad55" stroke-width="0.85"/>
<path d="M254.27,435.93L255.72,433.32L257.17,435.93Z" fill="#a8d8a8" stroke="#55ad55" stroke-width="0.85"/>
<path d="M270.53,434.71L271.98,432.10L273.43,434.71Z" fill="#a8d8a8" stroke="#55ad55" stroke-width="0.85"/>
<path d="M286.79,430.58L288.24,427.97L289.69,430.58Z" fill="#a8d8a8" stroke="#55ad55" stroke-width="0.85"/>
<path d="M294.92,428.14L296.37,425.53L297.82,428.14Z" fill="#a8d8a8" stroke="#55ad55" stroke-width="0.85"/>
<path d="M303.05,427.38L304.50,424.77L305.95,427.38Z" fill="#a8d8a8" stroke="#55ad55" stroke-width="0.85"/>
<polyline points="231.33,442.17 239.46,439.20 247.59,441.03 255.72,441.79 271.98,441.03 288.24,437.97 296.37,437.97 304.50,434.77 320.76,431.87 328.89,426.83 345.15,419.50" fill="none" stroke="#3f72a8" stroke-width="1.0"/>
<path d="M231.33,441.41V442.94M230.13,441.41H232.53M230.13,442.94H232.53" stroke="#3f72a8" stroke-width="0.6" fill="none"/>
<path d="M239.46,437.97V440.42M238.26,437.97H240.66M238.26,440.42H240.66" stroke="#3f72a8" stroke-width="0.6" fill="none"/>
<path d="M247.59,439.81V442.25M246.39,439.81H248.79M246.39,442.25H248.79" stroke="#3f72a8" stroke-width="0.6" fill="none"/>
<path d="M255.72,440.57V443.01M254.52,440.57H256.92M254.52,443.01H256.92" stroke="#3f72a8" stroke-width="0.6" fill="none"/>
<path d="M271.98,439.81V442.25M270.78,439.81H273.18M270.78,442.25H273.18" stroke="#3f72a8" stroke-width="0.6" fill="none"/>
<path d="M288.24,436.75V439.20M287.04,436.75H289.44M287.04,439.20H289.44" stroke="#3f72a8" stroke-width="0.6" fill="none"/>
<path d="M296.37,436.75V439.20M295.17,436.75H297.57M295.17,439.20H297.57" stroke="#3f72a8" stroke-width="0.6" fill="none"/>
<path d="M304.50,433.24V436.29M303.30,433.24H305.70M303.30,436.29H305.70" stroke="#3f72a8" stroke-width="0.6" fill="none"/>
<path d="M320.76,430.34V433.39M319.56,430.34H321.96M319.56,433.39H321.96" stroke="#3f72a8" stroke-width="0.6" fill="none"/>
<path d="M328.89,424.54V429.12M327.69,424.54H330.09M327.69,429.12H330.09" stroke="#3f72a8" stroke-width="0.6" fill="none"/>
<path d="M345.15,417.97V421.02M343.95,417.97H346.35M343.95,421.02H346.35" stroke="#3f72a8" stroke-width="0.6" fill="none"/>
<circle cx="231.33" cy="442.17" r="1.38" fill="#9dbbd9" stroke="#3f72a8" stroke-width="0.85"/>
<circle cx="239.46" cy="439.20" r="1.38" fill="#9dbbd9" stroke="#3f72a8" stroke-width="0.85"/>
<circle cx="247.59" cy="441.03" r="1.38" fill="#9dbbd9" stroke="#3f72a8" stroke-width="0.85"/>
<circle cx="255.72" cy="441.79" r="1.38" fill="#9dbbd9" stroke="#3f72a8" stroke-width="0.85"/>
<circle cx="271.98" cy="441.03" r="1.38" fill="#9dbbd9" stroke="#3f72a8" stroke-width="0.85"/>
<circle cx="288.24" cy="437.97" r="1.38" fill="#9dbbd9" stroke="#3f72a8" stroke-width="0.85"/>
<circle cx="296.37" cy="437.97" r="1.38" fill="#9dbbd9" stroke="#3f72a8" stroke-width="0.85"/>
<circle cx="304.50" cy="434.77" r="1.38" fill="#9dbbd9" stroke="#3f72a8" stroke-width="0.85"/>
<circle cx="320.76" cy="431.87" r="1.38" fill="#9dbbd9" stroke="#3f72a8" stroke-width="0.85"/>
<circle cx="328.89" cy="426.83" r="1.38" fill="#9dbbd9" stroke="#3f72a8" stroke-width="0.85"/>
<circle cx="345.15" cy="419.50" r="1.38" fill="#9dbbd9" stroke="#3f72a8" stroke-width="0.85"/>
<polyline points="231.33,442.17 239.46,440.26 247.59,444.16 255.72,445.91 271.98,445.91 288.24,444.62 296.37,446.60 304.50,441.67 320.76,440.95 328.89,438.51 345.15,432.32" fill="none" stroke="#f0a535" stroke-width="1.0"/>
<path d="M231.33,441.41V442.94M230.13,441.41H232.53M230.13,442.94H232.53" stroke="#f0a535" stroke-width="0.6" fill="none"/>
<path d="M239.46,439.50V441.03M238.26,439.50H240.66M238.26,441.03H240.66" stroke="#f0a535" stroke-width="0.6" fill="none"/>
<path d="M247.59,442.94V445.38M246.39,442.94H248.79M246.39,445.38H248.79" stroke="#f0a535" stroke-width="0.6" fill="none"/>
<path d="M255.72,445.15V446.68M254.52,445.15H256.92M254.52,446.68H256.92" stroke="#f0a535" stroke-width="0.6" fill="none"/>
<path d="M271.98,444.69V447.14M270.78,444.69H273.18M270.78,447.14H273.18" stroke="#f0a535" stroke-width="0.6" fill="none"/>
<path d="M288.24,443.40V445.84M287.04,443.40H289.44M287.04,445.84H289.44" stroke="#f0a535" stroke-width="0.6" fill="none"/>
<path d="M296.37,445.84V447.37M295.17,445.84H297.57M295.17,447.37H297.57" stroke="#f0a535" stroke-width="0.6" fill="none"/>
<path d="M304.50,440.14V443.20M303.30,440.14H305.70M303.30,443.20H305.70" stroke="#f0a535" stroke-width="0.6" fill="none"/>
<path d="M320.76,438.66V443.24M319.56,438.66H321.96M319.56,443.24H321.96" stroke="#f0a535" stroke-width="0.6" fill="none"/>
<path d="M328.89,436.22V440.80M327.69,436.22H330.09M327.69,440.80H330.09" stroke="#f0a535" stroke-width="0.6" fill="none"/>
<path d="M345.15,429.27V435.38M343.95,429.27H346.35M343.95,435.38H346.35" stroke="#f0a535" stroke-width="0.6" fill="none"/>
<path d="M229.88,442.17L231.33,441.01L232.78,442.17L231.33,443.33Z" fill="#f7d49a" stroke="#f0a535" stroke-width="0.85"/>
<path d="M238.01,440.26L239.46,439.10L240.91,440.26L239.46,441.43Z" fill="#f7d49a" stroke="#f0a535" stroke-width="0.85"/>
<path d="M246.14,444.16L247.59,443.00L249.04,444.16L247.59,445.32Z" fill="#f7d49a" stroke="#f0a535" stroke-width="0.85"/>
<path d="M254.27,445.91L255.72,444.75L257.17,445.91L255.72,447.07Z" fill="#f7d49a" stroke="#f0a535" stroke-width="0.85"/>
<path d="M270.53,445.91L271.98,444.75L273.43,445.91L271.98,447.07Z" fill="#f7d49a" stroke="#f0a535" stroke-width="0.85"/>
<path d="M286.79,444.62L288.24,443.46L289.69,444.62L288.24,445.78Z" fill="#f7d49a" stroke="#f0a535" stroke-width="0.85"/>
<path d="M294.92,446.60L296.37,445.44L297.82,446.60L296.37,447.76Z" fill="#f7d49a" stroke="#f0a535" stroke-width="0.85"/>
<path d="M303.05,441.67L304.50,440.51L305.95,441.67L304.50,442.83Z" fill="#f7d49a" stroke="#f0a535" stroke-width="0.85"/>
<path d="M319.31,440.95L320.76,439.79L322.21,440.95L320.76,442.11Z" fill="#f7d49a" stroke="#f0a535" stroke-width="0.85"/>
<path d="M327.44,438.51L328.89,437.35L330.34,438.51L328.89,439.67Z" fill="#f7d49a" stroke="#f0a535" stroke-width="0.85"/>
<path d="M343.70,432.32L345.15,431.16L346.60,432.32L345.15,433.48Z" fill="#f7d49a" stroke="#f0a535" stroke-width="0.85"/>
<line x1="226.30" y1="390.60" x2="232.50" y2="390.60" stroke="#d2475e" stroke-width="1.1"/>
<path d="M227.90,390.60L229.40,389.10L230.90,390.60L229.40,392.10Z" fill="#b85a72" stroke="#a8405a" stroke-width="1.0"/>
<text x="235.70" y="392.80" font-size="6.9" fill="#1e1e1e" stroke="#1e1e1e" stroke-width="0.1">CTRL</text>
<line x1="226.30" y1="397.85" x2="232.50" y2="397.85" stroke="#3f72a8" stroke-width="1.1"/>
<circle cx="229.40" cy="397.85" r="1.42" fill="#4a78a8" stroke="#2f5f92" stroke-width="1.0"/>
<text x="235.70" y="400.05" font-size="6.9" fill="#1e1e1e" stroke="#1e1e1e" stroke-width="0.1">VEN</text>
<line x1="226.30" y1="405.10" x2="232.50" y2="405.10" stroke="#55ad55" stroke-width="1.1"/>
<path d="M227.90,406.30L229.40,403.60L230.90,406.30Z" fill="#5a9e5a" stroke="#3f8f3f" stroke-width="1.0"/>
<text x="235.70" y="407.30" font-size="6.9" fill="#1e1e1e" stroke="#1e1e1e" stroke-width="0.1">A1155463</text>
<line x1="226.30" y1="412.35" x2="232.50" y2="412.35" stroke="#f0a535" stroke-width="1.1"/>
<path d="M227.90,412.35L229.40,411.15L230.90,412.35L229.40,413.55Z" fill="#dcb060" stroke="#d09030" stroke-width="1.0"/>
<text x="235.70" y="414.55" font-size="6.9" fill="#1e1e1e" stroke="#1e1e1e" stroke-width="0.1">VEN + A1155463</text>
</svg>
</body></html>
